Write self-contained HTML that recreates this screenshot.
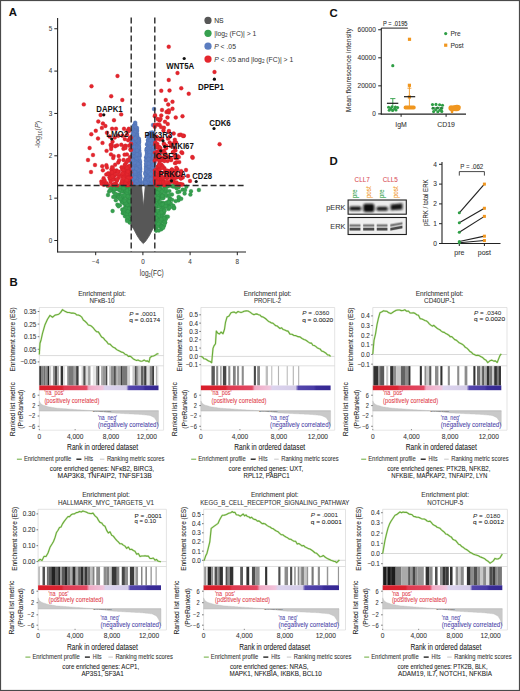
<!DOCTYPE html>
<html><head><meta charset="utf-8"><style>
html,body{margin:0;padding:0;background:#fff;}
svg{display:block;}
text{font-family:"Liberation Sans",sans-serif;}
</style></head><body>
<svg width="520" height="691" viewBox="0 0 520 691">
<rect x="0" y="0" width="520" height="691" fill="#fff"/>
<text x="8.80" y="15.90" font-size="11.4" fill="#111" font-weight="bold">A</text>
<circle cx="156.87" cy="205.03" r="1.95" fill="#37a04f" stroke="#2b8743" stroke-width="0.3"/>
<circle cx="117.38" cy="204.69" r="1.95" fill="#37a04f" stroke="#2b8743" stroke-width="0.3"/>
<circle cx="174.19" cy="207.64" r="1.95" fill="#37a04f" stroke="#2b8743" stroke-width="0.3"/>
<circle cx="155.20" cy="224.24" r="1.95" fill="#37a04f" stroke="#2b8743" stroke-width="0.3"/>
<circle cx="126.82" cy="215.15" r="1.95" fill="#37a04f" stroke="#2b8743" stroke-width="0.3"/>
<circle cx="163.40" cy="225.21" r="1.95" fill="#37a04f" stroke="#2b8743" stroke-width="0.3"/>
<circle cx="130.90" cy="206.23" r="1.95" fill="#37a04f" stroke="#2b8743" stroke-width="0.3"/>
<circle cx="130.87" cy="194.88" r="1.95" fill="#37a04f" stroke="#2b8743" stroke-width="0.3"/>
<circle cx="159.08" cy="205.07" r="1.95" fill="#37a04f" stroke="#2b8743" stroke-width="0.3"/>
<circle cx="158.82" cy="214.11" r="1.95" fill="#37a04f" stroke="#2b8743" stroke-width="0.3"/>
<circle cx="130.06" cy="202.83" r="1.95" fill="#37a04f" stroke="#2b8743" stroke-width="0.3"/>
<circle cx="160.95" cy="202.52" r="1.95" fill="#37a04f" stroke="#2b8743" stroke-width="0.3"/>
<circle cx="157.38" cy="185.71" r="1.95" fill="#37a04f" stroke="#2b8743" stroke-width="0.3"/>
<circle cx="160.62" cy="196.06" r="1.95" fill="#37a04f" stroke="#2b8743" stroke-width="0.3"/>
<circle cx="120.25" cy="198.91" r="1.95" fill="#37a04f" stroke="#2b8743" stroke-width="0.3"/>
<circle cx="114.90" cy="185.82" r="1.95" fill="#37a04f" stroke="#2b8743" stroke-width="0.3"/>
<circle cx="156.09" cy="230.54" r="1.95" fill="#37a04f" stroke="#2b8743" stroke-width="0.3"/>
<circle cx="119.79" cy="190.26" r="1.95" fill="#37a04f" stroke="#2b8743" stroke-width="0.3"/>
<circle cx="109.07" cy="191.58" r="1.95" fill="#37a04f" stroke="#2b8743" stroke-width="0.3"/>
<circle cx="125.34" cy="185.97" r="1.95" fill="#37a04f" stroke="#2b8743" stroke-width="0.3"/>
<circle cx="128.57" cy="195.77" r="1.95" fill="#37a04f" stroke="#2b8743" stroke-width="0.3"/>
<circle cx="165.64" cy="206.28" r="1.95" fill="#37a04f" stroke="#2b8743" stroke-width="0.3"/>
<circle cx="158.60" cy="199.55" r="1.95" fill="#37a04f" stroke="#2b8743" stroke-width="0.3"/>
<circle cx="122.85" cy="210.49" r="1.95" fill="#37a04f" stroke="#2b8743" stroke-width="0.3"/>
<circle cx="169.64" cy="207.14" r="1.95" fill="#37a04f" stroke="#2b8743" stroke-width="0.3"/>
<circle cx="128.69" cy="207.13" r="1.95" fill="#37a04f" stroke="#2b8743" stroke-width="0.3"/>
<circle cx="154.80" cy="185.73" r="1.95" fill="#37a04f" stroke="#2b8743" stroke-width="0.3"/>
<circle cx="160.93" cy="197.75" r="1.95" fill="#37a04f" stroke="#2b8743" stroke-width="0.3"/>
<circle cx="124.70" cy="190.78" r="1.95" fill="#37a04f" stroke="#2b8743" stroke-width="0.3"/>
<circle cx="165.50" cy="187.24" r="1.95" fill="#37a04f" stroke="#2b8743" stroke-width="0.3"/>
<circle cx="129.93" cy="222.15" r="1.95" fill="#37a04f" stroke="#2b8743" stroke-width="0.3"/>
<circle cx="155.48" cy="226.30" r="1.95" fill="#37a04f" stroke="#2b8743" stroke-width="0.3"/>
<circle cx="159.61" cy="193.21" r="1.95" fill="#37a04f" stroke="#2b8743" stroke-width="0.3"/>
<circle cx="157.07" cy="206.84" r="1.95" fill="#37a04f" stroke="#2b8743" stroke-width="0.3"/>
<circle cx="168.55" cy="208.90" r="1.95" fill="#37a04f" stroke="#2b8743" stroke-width="0.3"/>
<circle cx="156.01" cy="195.12" r="1.95" fill="#37a04f" stroke="#2b8743" stroke-width="0.3"/>
<circle cx="129.90" cy="189.90" r="1.95" fill="#37a04f" stroke="#2b8743" stroke-width="0.3"/>
<circle cx="124.37" cy="203.40" r="1.95" fill="#37a04f" stroke="#2b8743" stroke-width="0.3"/>
<circle cx="129.28" cy="201.99" r="1.95" fill="#37a04f" stroke="#2b8743" stroke-width="0.3"/>
<circle cx="128.32" cy="217.48" r="1.95" fill="#37a04f" stroke="#2b8743" stroke-width="0.3"/>
<circle cx="165.07" cy="222.44" r="1.95" fill="#37a04f" stroke="#2b8743" stroke-width="0.3"/>
<circle cx="127.97" cy="188.25" r="1.95" fill="#37a04f" stroke="#2b8743" stroke-width="0.3"/>
<circle cx="156.24" cy="201.44" r="1.95" fill="#37a04f" stroke="#2b8743" stroke-width="0.3"/>
<circle cx="160.53" cy="224.74" r="1.95" fill="#37a04f" stroke="#2b8743" stroke-width="0.3"/>
<circle cx="164.94" cy="187.08" r="1.95" fill="#37a04f" stroke="#2b8743" stroke-width="0.3"/>
<circle cx="169.78" cy="198.38" r="1.95" fill="#37a04f" stroke="#2b8743" stroke-width="0.3"/>
<circle cx="120.47" cy="186.29" r="1.95" fill="#37a04f" stroke="#2b8743" stroke-width="0.3"/>
<circle cx="160.48" cy="190.85" r="1.95" fill="#37a04f" stroke="#2b8743" stroke-width="0.3"/>
<circle cx="130.10" cy="186.47" r="1.95" fill="#37a04f" stroke="#2b8743" stroke-width="0.3"/>
<circle cx="158.61" cy="219.04" r="1.95" fill="#37a04f" stroke="#2b8743" stroke-width="0.3"/>
<circle cx="157.67" cy="203.07" r="1.95" fill="#37a04f" stroke="#2b8743" stroke-width="0.3"/>
<circle cx="122.80" cy="199.10" r="1.95" fill="#37a04f" stroke="#2b8743" stroke-width="0.3"/>
<circle cx="159.95" cy="186.28" r="1.95" fill="#37a04f" stroke="#2b8743" stroke-width="0.3"/>
<circle cx="117.27" cy="196.81" r="1.95" fill="#37a04f" stroke="#2b8743" stroke-width="0.3"/>
<circle cx="162.76" cy="208.40" r="1.95" fill="#37a04f" stroke="#2b8743" stroke-width="0.3"/>
<circle cx="125.81" cy="207.04" r="1.95" fill="#37a04f" stroke="#2b8743" stroke-width="0.3"/>
<circle cx="128.78" cy="210.97" r="1.95" fill="#37a04f" stroke="#2b8743" stroke-width="0.3"/>
<circle cx="126.78" cy="211.98" r="1.95" fill="#37a04f" stroke="#2b8743" stroke-width="0.3"/>
<circle cx="127.33" cy="212.52" r="1.95" fill="#37a04f" stroke="#2b8743" stroke-width="0.3"/>
<circle cx="128.61" cy="188.75" r="1.95" fill="#37a04f" stroke="#2b8743" stroke-width="0.3"/>
<circle cx="156.67" cy="204.87" r="1.95" fill="#37a04f" stroke="#2b8743" stroke-width="0.3"/>
<circle cx="161.04" cy="195.86" r="1.95" fill="#37a04f" stroke="#2b8743" stroke-width="0.3"/>
<circle cx="112.14" cy="190.26" r="1.95" fill="#37a04f" stroke="#2b8743" stroke-width="0.3"/>
<circle cx="157.24" cy="201.40" r="1.95" fill="#37a04f" stroke="#2b8743" stroke-width="0.3"/>
<circle cx="157.77" cy="223.98" r="1.95" fill="#37a04f" stroke="#2b8743" stroke-width="0.3"/>
<circle cx="164.72" cy="186.67" r="1.95" fill="#37a04f" stroke="#2b8743" stroke-width="0.3"/>
<circle cx="121.70" cy="185.78" r="1.95" fill="#37a04f" stroke="#2b8743" stroke-width="0.3"/>
<circle cx="163.69" cy="217.41" r="1.95" fill="#37a04f" stroke="#2b8743" stroke-width="0.3"/>
<circle cx="157.88" cy="195.10" r="1.95" fill="#37a04f" stroke="#2b8743" stroke-width="0.3"/>
<circle cx="119.39" cy="194.53" r="1.95" fill="#37a04f" stroke="#2b8743" stroke-width="0.3"/>
<circle cx="176.58" cy="188.25" r="1.95" fill="#37a04f" stroke="#2b8743" stroke-width="0.3"/>
<circle cx="155.51" cy="187.24" r="1.95" fill="#37a04f" stroke="#2b8743" stroke-width="0.3"/>
<circle cx="130.67" cy="210.34" r="1.95" fill="#37a04f" stroke="#2b8743" stroke-width="0.3"/>
<circle cx="158.29" cy="193.27" r="1.95" fill="#37a04f" stroke="#2b8743" stroke-width="0.3"/>
<circle cx="159.54" cy="210.59" r="1.95" fill="#37a04f" stroke="#2b8743" stroke-width="0.3"/>
<circle cx="155.39" cy="192.97" r="1.95" fill="#37a04f" stroke="#2b8743" stroke-width="0.3"/>
<circle cx="157.38" cy="219.00" r="1.95" fill="#37a04f" stroke="#2b8743" stroke-width="0.3"/>
<circle cx="125.74" cy="207.13" r="1.95" fill="#37a04f" stroke="#2b8743" stroke-width="0.3"/>
<circle cx="123.46" cy="202.47" r="1.95" fill="#37a04f" stroke="#2b8743" stroke-width="0.3"/>
<circle cx="130.42" cy="201.43" r="1.95" fill="#37a04f" stroke="#2b8743" stroke-width="0.3"/>
<circle cx="124.84" cy="208.13" r="1.95" fill="#37a04f" stroke="#2b8743" stroke-width="0.3"/>
<circle cx="159.24" cy="197.15" r="1.95" fill="#37a04f" stroke="#2b8743" stroke-width="0.3"/>
<circle cx="182.63" cy="189.63" r="1.95" fill="#37a04f" stroke="#2b8743" stroke-width="0.3"/>
<circle cx="130.62" cy="205.59" r="1.95" fill="#37a04f" stroke="#2b8743" stroke-width="0.3"/>
<circle cx="161.33" cy="189.17" r="1.95" fill="#37a04f" stroke="#2b8743" stroke-width="0.3"/>
<circle cx="169.35" cy="191.10" r="1.95" fill="#37a04f" stroke="#2b8743" stroke-width="0.3"/>
<circle cx="129.99" cy="211.70" r="1.95" fill="#37a04f" stroke="#2b8743" stroke-width="0.3"/>
<circle cx="128.78" cy="212.67" r="1.95" fill="#37a04f" stroke="#2b8743" stroke-width="0.3"/>
<circle cx="130.11" cy="207.63" r="1.95" fill="#37a04f" stroke="#2b8743" stroke-width="0.3"/>
<circle cx="155.60" cy="194.30" r="1.95" fill="#37a04f" stroke="#2b8743" stroke-width="0.3"/>
<circle cx="127.41" cy="188.23" r="1.95" fill="#37a04f" stroke="#2b8743" stroke-width="0.3"/>
<circle cx="124.63" cy="186.95" r="1.95" fill="#37a04f" stroke="#2b8743" stroke-width="0.3"/>
<circle cx="161.48" cy="221.45" r="1.95" fill="#37a04f" stroke="#2b8743" stroke-width="0.3"/>
<circle cx="161.46" cy="212.17" r="1.95" fill="#37a04f" stroke="#2b8743" stroke-width="0.3"/>
<circle cx="179.35" cy="191.64" r="1.95" fill="#37a04f" stroke="#2b8743" stroke-width="0.3"/>
<circle cx="127.12" cy="219.52" r="1.95" fill="#37a04f" stroke="#2b8743" stroke-width="0.3"/>
<circle cx="159.68" cy="225.16" r="1.95" fill="#37a04f" stroke="#2b8743" stroke-width="0.3"/>
<circle cx="119.96" cy="205.13" r="1.95" fill="#37a04f" stroke="#2b8743" stroke-width="0.3"/>
<circle cx="169.27" cy="205.09" r="1.95" fill="#37a04f" stroke="#2b8743" stroke-width="0.3"/>
<circle cx="159.86" cy="195.07" r="1.95" fill="#37a04f" stroke="#2b8743" stroke-width="0.3"/>
<circle cx="124.96" cy="192.25" r="1.95" fill="#37a04f" stroke="#2b8743" stroke-width="0.3"/>
<circle cx="156.67" cy="217.19" r="1.95" fill="#37a04f" stroke="#2b8743" stroke-width="0.3"/>
<circle cx="163.07" cy="219.25" r="1.95" fill="#37a04f" stroke="#2b8743" stroke-width="0.3"/>
<circle cx="125.59" cy="195.93" r="1.95" fill="#37a04f" stroke="#2b8743" stroke-width="0.3"/>
<circle cx="155.34" cy="221.96" r="1.95" fill="#37a04f" stroke="#2b8743" stroke-width="0.3"/>
<circle cx="156.70" cy="195.13" r="1.95" fill="#37a04f" stroke="#2b8743" stroke-width="0.3"/>
<circle cx="163.56" cy="197.71" r="1.95" fill="#37a04f" stroke="#2b8743" stroke-width="0.3"/>
<circle cx="115.84" cy="200.19" r="1.95" fill="#37a04f" stroke="#2b8743" stroke-width="0.3"/>
<circle cx="129.77" cy="191.12" r="1.95" fill="#37a04f" stroke="#2b8743" stroke-width="0.3"/>
<circle cx="178.53" cy="200.32" r="1.95" fill="#37a04f" stroke="#2b8743" stroke-width="0.3"/>
<circle cx="156.52" cy="217.53" r="1.95" fill="#37a04f" stroke="#2b8743" stroke-width="0.3"/>
<circle cx="120.11" cy="189.22" r="1.95" fill="#37a04f" stroke="#2b8743" stroke-width="0.3"/>
<circle cx="111.93" cy="189.36" r="1.95" fill="#37a04f" stroke="#2b8743" stroke-width="0.3"/>
<circle cx="113.61" cy="192.05" r="1.95" fill="#37a04f" stroke="#2b8743" stroke-width="0.3"/>
<circle cx="164.02" cy="209.52" r="1.95" fill="#37a04f" stroke="#2b8743" stroke-width="0.3"/>
<circle cx="126.49" cy="211.97" r="1.95" fill="#37a04f" stroke="#2b8743" stroke-width="0.3"/>
<circle cx="166.21" cy="216.79" r="1.95" fill="#37a04f" stroke="#2b8743" stroke-width="0.3"/>
<circle cx="164.84" cy="222.46" r="1.95" fill="#37a04f" stroke="#2b8743" stroke-width="0.3"/>
<circle cx="128.25" cy="210.29" r="1.95" fill="#37a04f" stroke="#2b8743" stroke-width="0.3"/>
<circle cx="158.62" cy="197.76" r="1.95" fill="#37a04f" stroke="#2b8743" stroke-width="0.3"/>
<circle cx="117.97" cy="195.30" r="1.95" fill="#37a04f" stroke="#2b8743" stroke-width="0.3"/>
<circle cx="167.54" cy="204.58" r="1.95" fill="#37a04f" stroke="#2b8743" stroke-width="0.3"/>
<circle cx="128.00" cy="195.40" r="1.95" fill="#37a04f" stroke="#2b8743" stroke-width="0.3"/>
<circle cx="171.96" cy="194.50" r="1.95" fill="#37a04f" stroke="#2b8743" stroke-width="0.3"/>
<circle cx="168.00" cy="186.08" r="1.95" fill="#37a04f" stroke="#2b8743" stroke-width="0.3"/>
<circle cx="167.03" cy="195.89" r="1.95" fill="#37a04f" stroke="#2b8743" stroke-width="0.3"/>
<circle cx="155.84" cy="228.35" r="1.95" fill="#37a04f" stroke="#2b8743" stroke-width="0.3"/>
<circle cx="164.44" cy="185.81" r="1.95" fill="#37a04f" stroke="#2b8743" stroke-width="0.3"/>
<circle cx="167.19" cy="203.68" r="1.95" fill="#37a04f" stroke="#2b8743" stroke-width="0.3"/>
<circle cx="167.84" cy="186.15" r="1.95" fill="#37a04f" stroke="#2b8743" stroke-width="0.3"/>
<circle cx="110.00" cy="190.00" r="1.95" fill="#37a04f" stroke="#2b8743" stroke-width="0.3"/>
<circle cx="128.10" cy="209.11" r="1.95" fill="#37a04f" stroke="#2b8743" stroke-width="0.3"/>
<circle cx="113.90" cy="186.13" r="1.95" fill="#37a04f" stroke="#2b8743" stroke-width="0.3"/>
<circle cx="159.05" cy="214.23" r="1.95" fill="#37a04f" stroke="#2b8743" stroke-width="0.3"/>
<circle cx="117.78" cy="195.13" r="1.95" fill="#37a04f" stroke="#2b8743" stroke-width="0.3"/>
<circle cx="115.19" cy="196.44" r="1.95" fill="#37a04f" stroke="#2b8743" stroke-width="0.3"/>
<circle cx="156.35" cy="202.66" r="1.95" fill="#37a04f" stroke="#2b8743" stroke-width="0.3"/>
<circle cx="122.33" cy="209.55" r="1.95" fill="#37a04f" stroke="#2b8743" stroke-width="0.3"/>
<circle cx="111.21" cy="187.42" r="1.95" fill="#37a04f" stroke="#2b8743" stroke-width="0.3"/>
<circle cx="126.65" cy="196.82" r="1.95" fill="#37a04f" stroke="#2b8743" stroke-width="0.3"/>
<circle cx="159.29" cy="220.37" r="1.95" fill="#37a04f" stroke="#2b8743" stroke-width="0.3"/>
<circle cx="161.37" cy="192.79" r="1.95" fill="#37a04f" stroke="#2b8743" stroke-width="0.3"/>
<circle cx="117.29" cy="195.51" r="1.95" fill="#37a04f" stroke="#2b8743" stroke-width="0.3"/>
<circle cx="155.88" cy="220.60" r="1.95" fill="#37a04f" stroke="#2b8743" stroke-width="0.3"/>
<circle cx="157.26" cy="190.85" r="1.95" fill="#37a04f" stroke="#2b8743" stroke-width="0.3"/>
<circle cx="128.31" cy="198.87" r="1.95" fill="#37a04f" stroke="#2b8743" stroke-width="0.3"/>
<circle cx="127.37" cy="194.68" r="1.95" fill="#37a04f" stroke="#2b8743" stroke-width="0.3"/>
<circle cx="155.55" cy="186.38" r="1.95" fill="#37a04f" stroke="#2b8743" stroke-width="0.3"/>
<circle cx="161.40" cy="216.88" r="1.95" fill="#37a04f" stroke="#2b8743" stroke-width="0.3"/>
<circle cx="127.72" cy="186.32" r="1.95" fill="#37a04f" stroke="#2b8743" stroke-width="0.3"/>
<circle cx="125.03" cy="204.01" r="1.95" fill="#37a04f" stroke="#2b8743" stroke-width="0.3"/>
<circle cx="154.75" cy="193.09" r="1.95" fill="#37a04f" stroke="#2b8743" stroke-width="0.3"/>
<circle cx="128.32" cy="199.91" r="1.95" fill="#37a04f" stroke="#2b8743" stroke-width="0.3"/>
<circle cx="112.60" cy="211.00" r="1.95" fill="#37a04f" stroke="#2b8743" stroke-width="0.3"/>
<circle cx="178.48" cy="187.29" r="1.95" fill="#37a04f" stroke="#2b8743" stroke-width="0.3"/>
<circle cx="161.21" cy="195.50" r="1.95" fill="#37a04f" stroke="#2b8743" stroke-width="0.3"/>
<circle cx="121.84" cy="191.47" r="1.95" fill="#37a04f" stroke="#2b8743" stroke-width="0.3"/>
<circle cx="125.90" cy="203.65" r="1.95" fill="#37a04f" stroke="#2b8743" stroke-width="0.3"/>
<circle cx="161.86" cy="216.23" r="1.95" fill="#37a04f" stroke="#2b8743" stroke-width="0.3"/>
<circle cx="156.85" cy="224.33" r="1.95" fill="#37a04f" stroke="#2b8743" stroke-width="0.3"/>
<circle cx="156.38" cy="218.28" r="1.95" fill="#37a04f" stroke="#2b8743" stroke-width="0.3"/>
<circle cx="121.65" cy="188.63" r="1.95" fill="#37a04f" stroke="#2b8743" stroke-width="0.3"/>
<circle cx="159.04" cy="195.33" r="1.95" fill="#37a04f" stroke="#2b8743" stroke-width="0.3"/>
<circle cx="169.09" cy="200.89" r="1.95" fill="#37a04f" stroke="#2b8743" stroke-width="0.3"/>
<circle cx="167.80" cy="216.65" r="1.95" fill="#37a04f" stroke="#2b8743" stroke-width="0.3"/>
<circle cx="118.66" cy="197.57" r="1.95" fill="#37a04f" stroke="#2b8743" stroke-width="0.3"/>
<circle cx="190.40" cy="194.60" r="1.95" fill="#37a04f" stroke="#2b8743" stroke-width="0.3"/>
<circle cx="157.00" cy="221.23" r="1.95" fill="#37a04f" stroke="#2b8743" stroke-width="0.3"/>
<circle cx="161.52" cy="209.17" r="1.95" fill="#37a04f" stroke="#2b8743" stroke-width="0.3"/>
<circle cx="163.32" cy="195.31" r="1.95" fill="#37a04f" stroke="#2b8743" stroke-width="0.3"/>
<circle cx="156.50" cy="189.50" r="1.95" fill="#37a04f" stroke="#2b8743" stroke-width="0.3"/>
<circle cx="157.28" cy="204.59" r="1.95" fill="#37a04f" stroke="#2b8743" stroke-width="0.3"/>
<circle cx="155.93" cy="191.92" r="1.95" fill="#37a04f" stroke="#2b8743" stroke-width="0.3"/>
<circle cx="155.54" cy="201.02" r="1.95" fill="#37a04f" stroke="#2b8743" stroke-width="0.3"/>
<circle cx="178.86" cy="197.97" r="1.95" fill="#37a04f" stroke="#2b8743" stroke-width="0.3"/>
<circle cx="130.46" cy="204.78" r="1.95" fill="#37a04f" stroke="#2b8743" stroke-width="0.3"/>
<circle cx="154.92" cy="215.59" r="1.95" fill="#37a04f" stroke="#2b8743" stroke-width="0.3"/>
<circle cx="122.50" cy="196.48" r="1.95" fill="#37a04f" stroke="#2b8743" stroke-width="0.3"/>
<circle cx="168.02" cy="207.85" r="1.95" fill="#37a04f" stroke="#2b8743" stroke-width="0.3"/>
<circle cx="129.71" cy="186.76" r="1.95" fill="#37a04f" stroke="#2b8743" stroke-width="0.3"/>
<circle cx="128.40" cy="208.27" r="1.95" fill="#37a04f" stroke="#2b8743" stroke-width="0.3"/>
<circle cx="166.24" cy="191.58" r="1.95" fill="#37a04f" stroke="#2b8743" stroke-width="0.3"/>
<circle cx="129.79" cy="211.28" r="1.95" fill="#37a04f" stroke="#2b8743" stroke-width="0.3"/>
<circle cx="130.60" cy="193.09" r="1.95" fill="#37a04f" stroke="#2b8743" stroke-width="0.3"/>
<circle cx="155.02" cy="206.27" r="1.95" fill="#37a04f" stroke="#2b8743" stroke-width="0.3"/>
<circle cx="161.65" cy="204.92" r="1.95" fill="#37a04f" stroke="#2b8743" stroke-width="0.3"/>
<circle cx="161.31" cy="229.30" r="1.95" fill="#37a04f" stroke="#2b8743" stroke-width="0.3"/>
<circle cx="124.70" cy="211.49" r="1.95" fill="#37a04f" stroke="#2b8743" stroke-width="0.3"/>
<circle cx="159.09" cy="220.65" r="1.95" fill="#37a04f" stroke="#2b8743" stroke-width="0.3"/>
<circle cx="125.02" cy="216.37" r="1.95" fill="#37a04f" stroke="#2b8743" stroke-width="0.3"/>
<circle cx="156.96" cy="212.69" r="1.95" fill="#37a04f" stroke="#2b8743" stroke-width="0.3"/>
<circle cx="157.59" cy="192.26" r="1.95" fill="#37a04f" stroke="#2b8743" stroke-width="0.3"/>
<circle cx="158.27" cy="212.30" r="1.95" fill="#37a04f" stroke="#2b8743" stroke-width="0.3"/>
<circle cx="156.39" cy="185.64" r="1.95" fill="#37a04f" stroke="#2b8743" stroke-width="0.3"/>
<circle cx="121.56" cy="191.16" r="1.95" fill="#37a04f" stroke="#2b8743" stroke-width="0.3"/>
<circle cx="122.88" cy="213.21" r="1.95" fill="#37a04f" stroke="#2b8743" stroke-width="0.3"/>
<circle cx="126.29" cy="208.58" r="1.95" fill="#37a04f" stroke="#2b8743" stroke-width="0.3"/>
<circle cx="156.44" cy="230.42" r="1.95" fill="#37a04f" stroke="#2b8743" stroke-width="0.3"/>
<circle cx="108.00" cy="195.00" r="1.95" fill="#37a04f" stroke="#2b8743" stroke-width="0.3"/>
<circle cx="173.37" cy="205.73" r="1.95" fill="#37a04f" stroke="#2b8743" stroke-width="0.3"/>
<circle cx="129.78" cy="219.52" r="1.95" fill="#37a04f" stroke="#2b8743" stroke-width="0.3"/>
<circle cx="175.72" cy="201.11" r="1.95" fill="#37a04f" stroke="#2b8743" stroke-width="0.3"/>
<circle cx="130.65" cy="221.81" r="1.95" fill="#37a04f" stroke="#2b8743" stroke-width="0.3"/>
<circle cx="119.99" cy="189.69" r="1.95" fill="#37a04f" stroke="#2b8743" stroke-width="0.3"/>
<circle cx="128.11" cy="202.60" r="1.95" fill="#37a04f" stroke="#2b8743" stroke-width="0.3"/>
<circle cx="123.39" cy="212.18" r="1.95" fill="#37a04f" stroke="#2b8743" stroke-width="0.3"/>
<circle cx="185.05" cy="190.06" r="1.95" fill="#37a04f" stroke="#2b8743" stroke-width="0.3"/>
<circle cx="113.23" cy="196.88" r="1.95" fill="#37a04f" stroke="#2b8743" stroke-width="0.3"/>
<circle cx="157.60" cy="220.04" r="1.95" fill="#37a04f" stroke="#2b8743" stroke-width="0.3"/>
<circle cx="155.40" cy="210.73" r="1.95" fill="#37a04f" stroke="#2b8743" stroke-width="0.3"/>
<circle cx="155.81" cy="206.03" r="1.95" fill="#37a04f" stroke="#2b8743" stroke-width="0.3"/>
<circle cx="163.54" cy="203.05" r="1.95" fill="#37a04f" stroke="#2b8743" stroke-width="0.3"/>
<circle cx="128.37" cy="187.89" r="1.95" fill="#37a04f" stroke="#2b8743" stroke-width="0.3"/>
<circle cx="130.56" cy="186.99" r="1.95" fill="#37a04f" stroke="#2b8743" stroke-width="0.3"/>
<circle cx="160.23" cy="226.40" r="1.95" fill="#37a04f" stroke="#2b8743" stroke-width="0.3"/>
<circle cx="128.76" cy="200.40" r="1.95" fill="#37a04f" stroke="#2b8743" stroke-width="0.3"/>
<circle cx="161.23" cy="210.19" r="1.95" fill="#37a04f" stroke="#2b8743" stroke-width="0.3"/>
<circle cx="163.64" cy="213.62" r="1.95" fill="#37a04f" stroke="#2b8743" stroke-width="0.3"/>
<circle cx="156.69" cy="195.97" r="1.95" fill="#37a04f" stroke="#2b8743" stroke-width="0.3"/>
<circle cx="122.70" cy="195.35" r="1.95" fill="#37a04f" stroke="#2b8743" stroke-width="0.3"/>
<circle cx="173.97" cy="208.29" r="1.95" fill="#37a04f" stroke="#2b8743" stroke-width="0.3"/>
<circle cx="166.80" cy="202.34" r="1.95" fill="#37a04f" stroke="#2b8743" stroke-width="0.3"/>
<circle cx="128.85" cy="189.94" r="1.95" fill="#37a04f" stroke="#2b8743" stroke-width="0.3"/>
<circle cx="114.73" cy="189.60" r="1.95" fill="#37a04f" stroke="#2b8743" stroke-width="0.3"/>
<circle cx="127.28" cy="186.08" r="1.95" fill="#37a04f" stroke="#2b8743" stroke-width="0.3"/>
<circle cx="123.54" cy="189.19" r="1.95" fill="#37a04f" stroke="#2b8743" stroke-width="0.3"/>
<circle cx="173.44" cy="186.66" r="1.95" fill="#37a04f" stroke="#2b8743" stroke-width="0.3"/>
<circle cx="129.40" cy="218.37" r="1.95" fill="#37a04f" stroke="#2b8743" stroke-width="0.3"/>
<circle cx="157.51" cy="210.87" r="1.95" fill="#37a04f" stroke="#2b8743" stroke-width="0.3"/>
<circle cx="164.83" cy="191.36" r="1.95" fill="#37a04f" stroke="#2b8743" stroke-width="0.3"/>
<circle cx="162.29" cy="195.20" r="1.95" fill="#37a04f" stroke="#2b8743" stroke-width="0.3"/>
<circle cx="165.81" cy="189.26" r="1.95" fill="#37a04f" stroke="#2b8743" stroke-width="0.3"/>
<circle cx="162.59" cy="218.47" r="1.95" fill="#37a04f" stroke="#2b8743" stroke-width="0.3"/>
<circle cx="157.00" cy="199.42" r="1.95" fill="#37a04f" stroke="#2b8743" stroke-width="0.3"/>
<circle cx="158.73" cy="215.57" r="1.95" fill="#37a04f" stroke="#2b8743" stroke-width="0.3"/>
<circle cx="127.26" cy="204.73" r="1.95" fill="#37a04f" stroke="#2b8743" stroke-width="0.3"/>
<circle cx="125.13" cy="189.51" r="1.95" fill="#37a04f" stroke="#2b8743" stroke-width="0.3"/>
<circle cx="155.13" cy="226.45" r="1.95" fill="#37a04f" stroke="#2b8743" stroke-width="0.3"/>
<circle cx="124.26" cy="210.18" r="1.95" fill="#37a04f" stroke="#2b8743" stroke-width="0.3"/>
<circle cx="155.10" cy="195.65" r="1.95" fill="#37a04f" stroke="#2b8743" stroke-width="0.3"/>
<circle cx="107.61" cy="185.86" r="1.95" fill="#37a04f" stroke="#2b8743" stroke-width="0.3"/>
<circle cx="127.10" cy="186.96" r="1.95" fill="#37a04f" stroke="#2b8743" stroke-width="0.3"/>
<circle cx="155.21" cy="219.57" r="1.95" fill="#37a04f" stroke="#2b8743" stroke-width="0.3"/>
<circle cx="128.56" cy="215.70" r="1.95" fill="#37a04f" stroke="#2b8743" stroke-width="0.3"/>
<circle cx="128.35" cy="200.79" r="1.95" fill="#37a04f" stroke="#2b8743" stroke-width="0.3"/>
<circle cx="117.39" cy="189.25" r="1.95" fill="#37a04f" stroke="#2b8743" stroke-width="0.3"/>
<circle cx="160.40" cy="202.44" r="1.95" fill="#37a04f" stroke="#2b8743" stroke-width="0.3"/>
<circle cx="125.36" cy="196.66" r="1.95" fill="#37a04f" stroke="#2b8743" stroke-width="0.3"/>
<circle cx="121.82" cy="201.74" r="1.95" fill="#37a04f" stroke="#2b8743" stroke-width="0.3"/>
<circle cx="129.00" cy="208.83" r="1.95" fill="#37a04f" stroke="#2b8743" stroke-width="0.3"/>
<circle cx="124.57" cy="212.82" r="1.95" fill="#37a04f" stroke="#2b8743" stroke-width="0.3"/>
<circle cx="114.41" cy="196.61" r="1.95" fill="#37a04f" stroke="#2b8743" stroke-width="0.3"/>
<circle cx="128.50" cy="193.05" r="1.95" fill="#37a04f" stroke="#2b8743" stroke-width="0.3"/>
<circle cx="159.33" cy="206.51" r="1.95" fill="#37a04f" stroke="#2b8743" stroke-width="0.3"/>
<circle cx="159.75" cy="213.15" r="1.95" fill="#37a04f" stroke="#2b8743" stroke-width="0.3"/>
<circle cx="155.41" cy="202.24" r="1.95" fill="#37a04f" stroke="#2b8743" stroke-width="0.3"/>
<circle cx="121.16" cy="187.05" r="1.95" fill="#37a04f" stroke="#2b8743" stroke-width="0.3"/>
<circle cx="121.75" cy="200.75" r="1.95" fill="#37a04f" stroke="#2b8743" stroke-width="0.3"/>
<circle cx="158.02" cy="196.08" r="1.95" fill="#37a04f" stroke="#2b8743" stroke-width="0.3"/>
<circle cx="159.83" cy="221.64" r="1.95" fill="#37a04f" stroke="#2b8743" stroke-width="0.3"/>
<circle cx="116.51" cy="187.76" r="1.95" fill="#37a04f" stroke="#2b8743" stroke-width="0.3"/>
<circle cx="163.02" cy="206.02" r="1.95" fill="#37a04f" stroke="#2b8743" stroke-width="0.3"/>
<circle cx="163.58" cy="226.22" r="1.95" fill="#37a04f" stroke="#2b8743" stroke-width="0.3"/>
<circle cx="123.13" cy="202.03" r="1.95" fill="#37a04f" stroke="#2b8743" stroke-width="0.3"/>
<circle cx="184.60" cy="193.50" r="1.95" fill="#37a04f" stroke="#2b8743" stroke-width="0.3"/>
<circle cx="156.19" cy="199.68" r="1.95" fill="#37a04f" stroke="#2b8743" stroke-width="0.3"/>
<circle cx="155.15" cy="197.82" r="1.95" fill="#37a04f" stroke="#2b8743" stroke-width="0.3"/>
<circle cx="118.51" cy="206.33" r="1.95" fill="#37a04f" stroke="#2b8743" stroke-width="0.3"/>
<circle cx="154.75" cy="220.29" r="1.95" fill="#37a04f" stroke="#2b8743" stroke-width="0.3"/>
<circle cx="157.63" cy="226.00" r="1.95" fill="#37a04f" stroke="#2b8743" stroke-width="0.3"/>
<circle cx="161.85" cy="189.51" r="1.95" fill="#37a04f" stroke="#2b8743" stroke-width="0.3"/>
<circle cx="130.63" cy="212.26" r="1.95" fill="#37a04f" stroke="#2b8743" stroke-width="0.3"/>
<circle cx="165.67" cy="219.18" r="1.95" fill="#37a04f" stroke="#2b8743" stroke-width="0.3"/>
<circle cx="119.81" cy="186.63" r="1.95" fill="#37a04f" stroke="#2b8743" stroke-width="0.3"/>
<circle cx="171.63" cy="186.08" r="1.95" fill="#37a04f" stroke="#2b8743" stroke-width="0.3"/>
<circle cx="114.24" cy="188.54" r="1.95" fill="#37a04f" stroke="#2b8743" stroke-width="0.3"/>
<circle cx="191.00" cy="191.20" r="1.95" fill="#37a04f" stroke="#2b8743" stroke-width="0.3"/>
<circle cx="156.00" cy="218.00" r="1.95" fill="#37a04f" stroke="#2b8743" stroke-width="0.3"/>
<circle cx="156.61" cy="187.43" r="1.95" fill="#37a04f" stroke="#2b8743" stroke-width="0.3"/>
<circle cx="170.43" cy="199.21" r="1.95" fill="#37a04f" stroke="#2b8743" stroke-width="0.3"/>
<circle cx="158.17" cy="193.10" r="1.95" fill="#37a04f" stroke="#2b8743" stroke-width="0.3"/>
<circle cx="162.59" cy="198.28" r="1.95" fill="#37a04f" stroke="#2b8743" stroke-width="0.3"/>
<circle cx="125.37" cy="213.92" r="1.95" fill="#37a04f" stroke="#2b8743" stroke-width="0.3"/>
<circle cx="164.27" cy="224.75" r="1.95" fill="#37a04f" stroke="#2b8743" stroke-width="0.3"/>
<circle cx="161.87" cy="204.28" r="1.95" fill="#37a04f" stroke="#2b8743" stroke-width="0.3"/>
<circle cx="159.70" cy="189.55" r="1.95" fill="#37a04f" stroke="#2b8743" stroke-width="0.3"/>
<circle cx="127.06" cy="214.33" r="1.95" fill="#37a04f" stroke="#2b8743" stroke-width="0.3"/>
<circle cx="162.77" cy="212.79" r="1.95" fill="#37a04f" stroke="#2b8743" stroke-width="0.3"/>
<circle cx="164.04" cy="211.58" r="1.95" fill="#37a04f" stroke="#2b8743" stroke-width="0.3"/>
<circle cx="160.87" cy="204.44" r="1.95" fill="#37a04f" stroke="#2b8743" stroke-width="0.3"/>
<circle cx="170.85" cy="203.60" r="1.95" fill="#37a04f" stroke="#2b8743" stroke-width="0.3"/>
<circle cx="131.06" cy="202.78" r="1.95" fill="#37a04f" stroke="#2b8743" stroke-width="0.3"/>
<circle cx="125.71" cy="191.35" r="1.95" fill="#37a04f" stroke="#2b8743" stroke-width="0.3"/>
<circle cx="125.33" cy="201.72" r="1.95" fill="#37a04f" stroke="#2b8743" stroke-width="0.3"/>
<circle cx="155.62" cy="191.90" r="1.95" fill="#37a04f" stroke="#2b8743" stroke-width="0.3"/>
<circle cx="198.90" cy="190.00" r="1.95" fill="#37a04f" stroke="#2b8743" stroke-width="0.3"/>
<circle cx="157.82" cy="195.84" r="1.95" fill="#37a04f" stroke="#2b8743" stroke-width="0.3"/>
<circle cx="166.31" cy="203.44" r="1.95" fill="#37a04f" stroke="#2b8743" stroke-width="0.3"/>
<circle cx="126.25" cy="191.64" r="1.95" fill="#37a04f" stroke="#2b8743" stroke-width="0.3"/>
<circle cx="130.58" cy="214.08" r="1.95" fill="#37a04f" stroke="#2b8743" stroke-width="0.3"/>
<circle cx="154.72" cy="211.33" r="1.95" fill="#37a04f" stroke="#2b8743" stroke-width="0.3"/>
<circle cx="158.42" cy="223.83" r="1.95" fill="#37a04f" stroke="#2b8743" stroke-width="0.3"/>
<circle cx="168.81" cy="202.23" r="1.95" fill="#37a04f" stroke="#2b8743" stroke-width="0.3"/>
<circle cx="130.92" cy="203.99" r="1.95" fill="#37a04f" stroke="#2b8743" stroke-width="0.3"/>
<circle cx="124.60" cy="195.20" r="1.95" fill="#37a04f" stroke="#2b8743" stroke-width="0.3"/>
<circle cx="154.74" cy="207.57" r="1.95" fill="#37a04f" stroke="#2b8743" stroke-width="0.3"/>
<circle cx="123.94" cy="200.34" r="1.95" fill="#37a04f" stroke="#2b8743" stroke-width="0.3"/>
<circle cx="127.04" cy="192.88" r="1.95" fill="#37a04f" stroke="#2b8743" stroke-width="0.3"/>
<circle cx="157.74" cy="195.31" r="1.95" fill="#37a04f" stroke="#2b8743" stroke-width="0.3"/>
<circle cx="172.18" cy="199.87" r="1.95" fill="#37a04f" stroke="#2b8743" stroke-width="0.3"/>
<circle cx="160.02" cy="189.69" r="1.95" fill="#37a04f" stroke="#2b8743" stroke-width="0.3"/>
<circle cx="125.71" cy="203.16" r="1.95" fill="#37a04f" stroke="#2b8743" stroke-width="0.3"/>
<circle cx="165.91" cy="194.51" r="1.95" fill="#37a04f" stroke="#2b8743" stroke-width="0.3"/>
<circle cx="129.50" cy="201.18" r="1.95" fill="#37a04f" stroke="#2b8743" stroke-width="0.3"/>
<circle cx="127.44" cy="190.52" r="1.95" fill="#37a04f" stroke="#2b8743" stroke-width="0.3"/>
<circle cx="161.78" cy="226.73" r="1.95" fill="#37a04f" stroke="#2b8743" stroke-width="0.3"/>
<circle cx="155.10" cy="213.78" r="1.95" fill="#37a04f" stroke="#2b8743" stroke-width="0.3"/>
<circle cx="159.57" cy="193.13" r="1.95" fill="#37a04f" stroke="#2b8743" stroke-width="0.3"/>
<circle cx="163.17" cy="227.76" r="1.95" fill="#37a04f" stroke="#2b8743" stroke-width="0.3"/>
<circle cx="161.52" cy="204.63" r="1.95" fill="#37a04f" stroke="#2b8743" stroke-width="0.3"/>
<circle cx="129.70" cy="222.58" r="1.95" fill="#37a04f" stroke="#2b8743" stroke-width="0.3"/>
<circle cx="164.06" cy="218.21" r="1.95" fill="#37a04f" stroke="#2b8743" stroke-width="0.3"/>
<circle cx="161.21" cy="219.19" r="1.95" fill="#37a04f" stroke="#2b8743" stroke-width="0.3"/>
<circle cx="116.25" cy="194.28" r="1.95" fill="#37a04f" stroke="#2b8743" stroke-width="0.3"/>
<circle cx="127.53" cy="217.46" r="1.95" fill="#37a04f" stroke="#2b8743" stroke-width="0.3"/>
<circle cx="177.56" cy="192.10" r="1.95" fill="#37a04f" stroke="#2b8743" stroke-width="0.3"/>
<circle cx="123.83" cy="188.07" r="1.95" fill="#37a04f" stroke="#2b8743" stroke-width="0.3"/>
<circle cx="129.72" cy="186.78" r="1.95" fill="#37a04f" stroke="#2b8743" stroke-width="0.3"/>
<circle cx="130.24" cy="191.96" r="1.95" fill="#37a04f" stroke="#2b8743" stroke-width="0.3"/>
<circle cx="129.84" cy="197.40" r="1.95" fill="#37a04f" stroke="#2b8743" stroke-width="0.3"/>
<circle cx="169.55" cy="195.03" r="1.95" fill="#37a04f" stroke="#2b8743" stroke-width="0.3"/>
<circle cx="156.04" cy="197.40" r="1.95" fill="#37a04f" stroke="#2b8743" stroke-width="0.3"/>
<circle cx="115.11" cy="194.08" r="1.95" fill="#37a04f" stroke="#2b8743" stroke-width="0.3"/>
<circle cx="162.34" cy="196.06" r="1.95" fill="#37a04f" stroke="#2b8743" stroke-width="0.3"/>
<circle cx="125.37" cy="185.65" r="1.95" fill="#37a04f" stroke="#2b8743" stroke-width="0.3"/>
<circle cx="155.05" cy="196.48" r="1.95" fill="#37a04f" stroke="#2b8743" stroke-width="0.3"/>
<circle cx="178.71" cy="196.86" r="1.95" fill="#37a04f" stroke="#2b8743" stroke-width="0.3"/>
<circle cx="127.85" cy="211.36" r="1.95" fill="#37a04f" stroke="#2b8743" stroke-width="0.3"/>
<circle cx="158.81" cy="230.50" r="1.95" fill="#37a04f" stroke="#2b8743" stroke-width="0.3"/>
<circle cx="124.75" cy="200.74" r="1.95" fill="#37a04f" stroke="#2b8743" stroke-width="0.3"/>
<circle cx="127.78" cy="196.27" r="1.95" fill="#37a04f" stroke="#2b8743" stroke-width="0.3"/>
<circle cx="158.49" cy="192.16" r="1.95" fill="#37a04f" stroke="#2b8743" stroke-width="0.3"/>
<circle cx="127.12" cy="220.92" r="1.95" fill="#37a04f" stroke="#2b8743" stroke-width="0.3"/>
<circle cx="162.76" cy="204.42" r="1.95" fill="#37a04f" stroke="#2b8743" stroke-width="0.3"/>
<circle cx="161.51" cy="212.27" r="1.95" fill="#37a04f" stroke="#2b8743" stroke-width="0.3"/>
<circle cx="181.20" cy="198.80" r="1.95" fill="#37a04f" stroke="#2b8743" stroke-width="0.3"/>
<circle cx="157.46" cy="192.77" r="1.95" fill="#37a04f" stroke="#2b8743" stroke-width="0.3"/>
<circle cx="173.68" cy="185.96" r="1.95" fill="#37a04f" stroke="#2b8743" stroke-width="0.3"/>
<circle cx="169.90" cy="207.41" r="1.95" fill="#37a04f" stroke="#2b8743" stroke-width="0.3"/>
<circle cx="130.26" cy="188.85" r="1.95" fill="#37a04f" stroke="#2b8743" stroke-width="0.3"/>
<circle cx="186.44" cy="186.64" r="1.95" fill="#37a04f" stroke="#2b8743" stroke-width="0.3"/>
<circle cx="161.89" cy="191.48" r="1.95" fill="#37a04f" stroke="#2b8743" stroke-width="0.3"/>
<circle cx="165.76" cy="205.98" r="1.95" fill="#37a04f" stroke="#2b8743" stroke-width="0.3"/>
<circle cx="157.57" cy="198.10" r="1.95" fill="#37a04f" stroke="#2b8743" stroke-width="0.3"/>
<circle cx="159.19" cy="189.15" r="1.95" fill="#37a04f" stroke="#2b8743" stroke-width="0.3"/>
<circle cx="120.27" cy="198.63" r="1.95" fill="#37a04f" stroke="#2b8743" stroke-width="0.3"/>
<circle cx="164.59" cy="210.59" r="1.95" fill="#37a04f" stroke="#2b8743" stroke-width="0.3"/>
<circle cx="148.91" cy="174.35" r="1.95" fill="#5b7dc0" stroke="#4f70b0" stroke-width="0.3"/>
<circle cx="132.54" cy="170.45" r="1.95" fill="#5b7dc0" stroke="#4f70b0" stroke-width="0.3"/>
<circle cx="133.19" cy="166.21" r="1.95" fill="#5b7dc0" stroke="#4f70b0" stroke-width="0.3"/>
<circle cx="134.51" cy="170.93" r="1.95" fill="#5b7dc0" stroke="#4f70b0" stroke-width="0.3"/>
<circle cx="152.05" cy="163.62" r="1.95" fill="#5b7dc0" stroke="#4f70b0" stroke-width="0.3"/>
<circle cx="152.02" cy="152.45" r="1.95" fill="#5b7dc0" stroke="#4f70b0" stroke-width="0.3"/>
<circle cx="145.96" cy="184.39" r="1.95" fill="#5b7dc0" stroke="#4f70b0" stroke-width="0.3"/>
<circle cx="148.64" cy="155.22" r="1.95" fill="#5b7dc0" stroke="#4f70b0" stroke-width="0.3"/>
<circle cx="151.37" cy="168.20" r="1.95" fill="#5b7dc0" stroke="#4f70b0" stroke-width="0.3"/>
<circle cx="149.38" cy="165.01" r="1.95" fill="#5b7dc0" stroke="#4f70b0" stroke-width="0.3"/>
<circle cx="138.02" cy="150.25" r="1.95" fill="#5b7dc0" stroke="#4f70b0" stroke-width="0.3"/>
<circle cx="132.84" cy="175.00" r="1.95" fill="#5b7dc0" stroke="#4f70b0" stroke-width="0.3"/>
<circle cx="133.53" cy="165.32" r="1.95" fill="#5b7dc0" stroke="#4f70b0" stroke-width="0.3"/>
<circle cx="148.69" cy="146.53" r="1.95" fill="#5b7dc0" stroke="#4f70b0" stroke-width="0.3"/>
<circle cx="134.87" cy="168.52" r="1.95" fill="#5b7dc0" stroke="#4f70b0" stroke-width="0.3"/>
<circle cx="153.13" cy="153.54" r="1.95" fill="#5b7dc0" stroke="#4f70b0" stroke-width="0.3"/>
<circle cx="147.73" cy="145.05" r="1.95" fill="#5b7dc0" stroke="#4f70b0" stroke-width="0.3"/>
<circle cx="152.44" cy="163.16" r="1.95" fill="#5b7dc0" stroke="#4f70b0" stroke-width="0.3"/>
<circle cx="152.11" cy="154.58" r="1.95" fill="#5b7dc0" stroke="#4f70b0" stroke-width="0.3"/>
<circle cx="132.48" cy="158.13" r="1.95" fill="#5b7dc0" stroke="#4f70b0" stroke-width="0.3"/>
<circle cx="151.54" cy="149.65" r="1.95" fill="#5b7dc0" stroke="#4f70b0" stroke-width="0.3"/>
<circle cx="153.28" cy="175.97" r="1.95" fill="#5b7dc0" stroke="#4f70b0" stroke-width="0.3"/>
<circle cx="150.77" cy="184.69" r="1.95" fill="#5b7dc0" stroke="#4f70b0" stroke-width="0.3"/>
<circle cx="134.00" cy="147.47" r="1.95" fill="#5b7dc0" stroke="#4f70b0" stroke-width="0.3"/>
<circle cx="150.28" cy="154.76" r="1.95" fill="#5b7dc0" stroke="#4f70b0" stroke-width="0.3"/>
<circle cx="146.26" cy="157.62" r="1.95" fill="#5b7dc0" stroke="#4f70b0" stroke-width="0.3"/>
<circle cx="133.93" cy="130.44" r="1.95" fill="#5b7dc0" stroke="#4f70b0" stroke-width="0.3"/>
<circle cx="137.39" cy="165.44" r="1.95" fill="#5b7dc0" stroke="#4f70b0" stroke-width="0.3"/>
<circle cx="153.74" cy="164.61" r="1.95" fill="#5b7dc0" stroke="#4f70b0" stroke-width="0.3"/>
<circle cx="135.75" cy="184.29" r="1.95" fill="#5b7dc0" stroke="#4f70b0" stroke-width="0.3"/>
<circle cx="138.72" cy="179.07" r="1.95" fill="#5b7dc0" stroke="#4f70b0" stroke-width="0.3"/>
<circle cx="136.98" cy="184.80" r="1.95" fill="#5b7dc0" stroke="#4f70b0" stroke-width="0.3"/>
<circle cx="147.52" cy="167.60" r="1.95" fill="#5b7dc0" stroke="#4f70b0" stroke-width="0.3"/>
<circle cx="136.56" cy="137.37" r="1.95" fill="#5b7dc0" stroke="#4f70b0" stroke-width="0.3"/>
<circle cx="132.37" cy="176.65" r="1.95" fill="#5b7dc0" stroke="#4f70b0" stroke-width="0.3"/>
<circle cx="153.23" cy="172.17" r="1.95" fill="#5b7dc0" stroke="#4f70b0" stroke-width="0.3"/>
<circle cx="134.68" cy="125.02" r="1.95" fill="#5b7dc0" stroke="#4f70b0" stroke-width="0.3"/>
<circle cx="134.24" cy="155.46" r="1.95" fill="#5b7dc0" stroke="#4f70b0" stroke-width="0.3"/>
<circle cx="135.14" cy="146.73" r="1.95" fill="#5b7dc0" stroke="#4f70b0" stroke-width="0.3"/>
<circle cx="136.23" cy="138.85" r="1.95" fill="#5b7dc0" stroke="#4f70b0" stroke-width="0.3"/>
<circle cx="149.56" cy="134.59" r="1.95" fill="#5b7dc0" stroke="#4f70b0" stroke-width="0.3"/>
<circle cx="136.83" cy="146.98" r="1.95" fill="#5b7dc0" stroke="#4f70b0" stroke-width="0.3"/>
<circle cx="135.33" cy="174.24" r="1.95" fill="#5b7dc0" stroke="#4f70b0" stroke-width="0.3"/>
<circle cx="136.46" cy="142.18" r="1.95" fill="#5b7dc0" stroke="#4f70b0" stroke-width="0.3"/>
<circle cx="139.62" cy="154.38" r="1.95" fill="#5b7dc0" stroke="#4f70b0" stroke-width="0.3"/>
<circle cx="151.62" cy="165.82" r="1.95" fill="#5b7dc0" stroke="#4f70b0" stroke-width="0.3"/>
<circle cx="138.32" cy="171.02" r="1.95" fill="#5b7dc0" stroke="#4f70b0" stroke-width="0.3"/>
<circle cx="135.31" cy="174.00" r="1.95" fill="#5b7dc0" stroke="#4f70b0" stroke-width="0.3"/>
<circle cx="148.60" cy="165.84" r="1.95" fill="#5b7dc0" stroke="#4f70b0" stroke-width="0.3"/>
<circle cx="135.59" cy="151.49" r="1.95" fill="#5b7dc0" stroke="#4f70b0" stroke-width="0.3"/>
<circle cx="147.48" cy="149.45" r="1.95" fill="#5b7dc0" stroke="#4f70b0" stroke-width="0.3"/>
<circle cx="137.14" cy="150.48" r="1.95" fill="#5b7dc0" stroke="#4f70b0" stroke-width="0.3"/>
<circle cx="151.67" cy="160.21" r="1.95" fill="#5b7dc0" stroke="#4f70b0" stroke-width="0.3"/>
<circle cx="146.04" cy="176.35" r="1.95" fill="#5b7dc0" stroke="#4f70b0" stroke-width="0.3"/>
<circle cx="138.81" cy="177.43" r="1.95" fill="#5b7dc0" stroke="#4f70b0" stroke-width="0.3"/>
<circle cx="131.61" cy="171.58" r="1.95" fill="#5b7dc0" stroke="#4f70b0" stroke-width="0.3"/>
<circle cx="152.76" cy="170.44" r="1.95" fill="#5b7dc0" stroke="#4f70b0" stroke-width="0.3"/>
<circle cx="137.90" cy="143.30" r="1.95" fill="#5b7dc0" stroke="#4f70b0" stroke-width="0.3"/>
<circle cx="151.88" cy="164.43" r="1.95" fill="#5b7dc0" stroke="#4f70b0" stroke-width="0.3"/>
<circle cx="150.96" cy="166.27" r="1.95" fill="#5b7dc0" stroke="#4f70b0" stroke-width="0.3"/>
<circle cx="132.39" cy="163.61" r="1.95" fill="#5b7dc0" stroke="#4f70b0" stroke-width="0.3"/>
<circle cx="144.98" cy="183.20" r="1.95" fill="#5b7dc0" stroke="#4f70b0" stroke-width="0.3"/>
<circle cx="133.34" cy="153.26" r="1.95" fill="#5b7dc0" stroke="#4f70b0" stroke-width="0.3"/>
<circle cx="135.52" cy="159.48" r="1.95" fill="#5b7dc0" stroke="#4f70b0" stroke-width="0.3"/>
<circle cx="138.31" cy="154.87" r="1.95" fill="#5b7dc0" stroke="#4f70b0" stroke-width="0.3"/>
<circle cx="151.55" cy="163.92" r="1.95" fill="#5b7dc0" stroke="#4f70b0" stroke-width="0.3"/>
<circle cx="153.41" cy="163.76" r="1.95" fill="#5b7dc0" stroke="#4f70b0" stroke-width="0.3"/>
<circle cx="131.40" cy="165.64" r="1.95" fill="#5b7dc0" stroke="#4f70b0" stroke-width="0.3"/>
<circle cx="153.61" cy="163.55" r="1.95" fill="#5b7dc0" stroke="#4f70b0" stroke-width="0.3"/>
<circle cx="149.00" cy="171.35" r="1.95" fill="#5b7dc0" stroke="#4f70b0" stroke-width="0.3"/>
<circle cx="137.99" cy="176.03" r="1.95" fill="#5b7dc0" stroke="#4f70b0" stroke-width="0.3"/>
<circle cx="138.49" cy="155.98" r="1.95" fill="#5b7dc0" stroke="#4f70b0" stroke-width="0.3"/>
<circle cx="152.02" cy="141.07" r="1.95" fill="#5b7dc0" stroke="#4f70b0" stroke-width="0.3"/>
<circle cx="136.59" cy="149.36" r="1.95" fill="#5b7dc0" stroke="#4f70b0" stroke-width="0.3"/>
<circle cx="148.25" cy="170.80" r="1.95" fill="#5b7dc0" stroke="#4f70b0" stroke-width="0.3"/>
<circle cx="153.26" cy="162.56" r="1.95" fill="#5b7dc0" stroke="#4f70b0" stroke-width="0.3"/>
<circle cx="154.41" cy="148.82" r="1.95" fill="#5b7dc0" stroke="#4f70b0" stroke-width="0.3"/>
<circle cx="136.90" cy="176.87" r="1.95" fill="#5b7dc0" stroke="#4f70b0" stroke-width="0.3"/>
<circle cx="135.83" cy="147.75" r="1.95" fill="#5b7dc0" stroke="#4f70b0" stroke-width="0.3"/>
<circle cx="149.53" cy="147.54" r="1.95" fill="#5b7dc0" stroke="#4f70b0" stroke-width="0.3"/>
<circle cx="132.77" cy="183.89" r="1.95" fill="#5b7dc0" stroke="#4f70b0" stroke-width="0.3"/>
<circle cx="153.66" cy="162.28" r="1.95" fill="#5b7dc0" stroke="#4f70b0" stroke-width="0.3"/>
<circle cx="136.86" cy="172.92" r="1.95" fill="#5b7dc0" stroke="#4f70b0" stroke-width="0.3"/>
<circle cx="153.23" cy="137.25" r="1.95" fill="#5b7dc0" stroke="#4f70b0" stroke-width="0.3"/>
<circle cx="139.01" cy="181.99" r="1.95" fill="#5b7dc0" stroke="#4f70b0" stroke-width="0.3"/>
<circle cx="132.49" cy="168.30" r="1.95" fill="#5b7dc0" stroke="#4f70b0" stroke-width="0.3"/>
<circle cx="151.54" cy="136.29" r="1.95" fill="#5b7dc0" stroke="#4f70b0" stroke-width="0.3"/>
<circle cx="136.17" cy="148.16" r="1.95" fill="#5b7dc0" stroke="#4f70b0" stroke-width="0.3"/>
<circle cx="135.07" cy="162.89" r="1.95" fill="#5b7dc0" stroke="#4f70b0" stroke-width="0.3"/>
<circle cx="153.06" cy="156.00" r="1.95" fill="#5b7dc0" stroke="#4f70b0" stroke-width="0.3"/>
<circle cx="149.58" cy="154.84" r="1.95" fill="#5b7dc0" stroke="#4f70b0" stroke-width="0.3"/>
<circle cx="148.21" cy="149.74" r="1.95" fill="#5b7dc0" stroke="#4f70b0" stroke-width="0.3"/>
<circle cx="152.81" cy="145.22" r="1.95" fill="#5b7dc0" stroke="#4f70b0" stroke-width="0.3"/>
<circle cx="154.43" cy="182.57" r="1.95" fill="#5b7dc0" stroke="#4f70b0" stroke-width="0.3"/>
<circle cx="152.20" cy="144.64" r="1.95" fill="#5b7dc0" stroke="#4f70b0" stroke-width="0.3"/>
<circle cx="148.30" cy="179.78" r="1.95" fill="#5b7dc0" stroke="#4f70b0" stroke-width="0.3"/>
<circle cx="135.30" cy="167.65" r="1.95" fill="#5b7dc0" stroke="#4f70b0" stroke-width="0.3"/>
<circle cx="140.03" cy="164.95" r="1.95" fill="#5b7dc0" stroke="#4f70b0" stroke-width="0.3"/>
<circle cx="150.42" cy="161.11" r="1.95" fill="#5b7dc0" stroke="#4f70b0" stroke-width="0.3"/>
<circle cx="147.33" cy="169.23" r="1.95" fill="#5b7dc0" stroke="#4f70b0" stroke-width="0.3"/>
<circle cx="153.46" cy="140.74" r="1.95" fill="#5b7dc0" stroke="#4f70b0" stroke-width="0.3"/>
<circle cx="135.19" cy="170.21" r="1.95" fill="#5b7dc0" stroke="#4f70b0" stroke-width="0.3"/>
<circle cx="134.08" cy="151.71" r="1.95" fill="#5b7dc0" stroke="#4f70b0" stroke-width="0.3"/>
<circle cx="147.26" cy="151.76" r="1.95" fill="#5b7dc0" stroke="#4f70b0" stroke-width="0.3"/>
<circle cx="149.38" cy="164.38" r="1.95" fill="#5b7dc0" stroke="#4f70b0" stroke-width="0.3"/>
<circle cx="132.31" cy="172.55" r="1.95" fill="#5b7dc0" stroke="#4f70b0" stroke-width="0.3"/>
<circle cx="152.05" cy="162.89" r="1.95" fill="#5b7dc0" stroke="#4f70b0" stroke-width="0.3"/>
<circle cx="138.94" cy="140.74" r="1.95" fill="#5b7dc0" stroke="#4f70b0" stroke-width="0.3"/>
<circle cx="151.46" cy="165.45" r="1.95" fill="#5b7dc0" stroke="#4f70b0" stroke-width="0.3"/>
<circle cx="136.11" cy="156.21" r="1.95" fill="#5b7dc0" stroke="#4f70b0" stroke-width="0.3"/>
<circle cx="133.84" cy="140.98" r="1.95" fill="#5b7dc0" stroke="#4f70b0" stroke-width="0.3"/>
<circle cx="150.82" cy="136.70" r="1.95" fill="#5b7dc0" stroke="#4f70b0" stroke-width="0.3"/>
<circle cx="147.80" cy="163.74" r="1.95" fill="#5b7dc0" stroke="#4f70b0" stroke-width="0.3"/>
<circle cx="139.97" cy="167.14" r="1.95" fill="#5b7dc0" stroke="#4f70b0" stroke-width="0.3"/>
<circle cx="148.70" cy="150.48" r="1.95" fill="#5b7dc0" stroke="#4f70b0" stroke-width="0.3"/>
<circle cx="151.07" cy="153.83" r="1.95" fill="#5b7dc0" stroke="#4f70b0" stroke-width="0.3"/>
<circle cx="149.21" cy="143.57" r="1.95" fill="#5b7dc0" stroke="#4f70b0" stroke-width="0.3"/>
<circle cx="151.23" cy="139.22" r="1.95" fill="#5b7dc0" stroke="#4f70b0" stroke-width="0.3"/>
<circle cx="151.19" cy="144.57" r="1.95" fill="#5b7dc0" stroke="#4f70b0" stroke-width="0.3"/>
<circle cx="149.35" cy="182.76" r="1.95" fill="#5b7dc0" stroke="#4f70b0" stroke-width="0.3"/>
<circle cx="136.76" cy="137.63" r="1.95" fill="#5b7dc0" stroke="#4f70b0" stroke-width="0.3"/>
<circle cx="147.63" cy="157.51" r="1.95" fill="#5b7dc0" stroke="#4f70b0" stroke-width="0.3"/>
<circle cx="133.71" cy="178.81" r="1.95" fill="#5b7dc0" stroke="#4f70b0" stroke-width="0.3"/>
<circle cx="147.41" cy="167.18" r="1.95" fill="#5b7dc0" stroke="#4f70b0" stroke-width="0.3"/>
<circle cx="139.16" cy="179.17" r="1.95" fill="#5b7dc0" stroke="#4f70b0" stroke-width="0.3"/>
<circle cx="150.73" cy="161.72" r="1.95" fill="#5b7dc0" stroke="#4f70b0" stroke-width="0.3"/>
<circle cx="134.78" cy="140.18" r="1.95" fill="#5b7dc0" stroke="#4f70b0" stroke-width="0.3"/>
<circle cx="152.19" cy="166.36" r="1.95" fill="#5b7dc0" stroke="#4f70b0" stroke-width="0.3"/>
<circle cx="152.00" cy="133.00" r="1.95" fill="#5b7dc0" stroke="#4f70b0" stroke-width="0.3"/>
<circle cx="147.23" cy="184.48" r="1.95" fill="#5b7dc0" stroke="#4f70b0" stroke-width="0.3"/>
<circle cx="132.43" cy="170.37" r="1.95" fill="#5b7dc0" stroke="#4f70b0" stroke-width="0.3"/>
<circle cx="152.91" cy="172.15" r="1.95" fill="#5b7dc0" stroke="#4f70b0" stroke-width="0.3"/>
<circle cx="139.15" cy="175.44" r="1.95" fill="#5b7dc0" stroke="#4f70b0" stroke-width="0.3"/>
<circle cx="146.75" cy="181.96" r="1.95" fill="#5b7dc0" stroke="#4f70b0" stroke-width="0.3"/>
<circle cx="133.28" cy="172.92" r="1.95" fill="#5b7dc0" stroke="#4f70b0" stroke-width="0.3"/>
<circle cx="150.49" cy="135.16" r="1.95" fill="#5b7dc0" stroke="#4f70b0" stroke-width="0.3"/>
<circle cx="137.70" cy="141.80" r="1.95" fill="#5b7dc0" stroke="#4f70b0" stroke-width="0.3"/>
<circle cx="150.86" cy="185.06" r="1.95" fill="#5b7dc0" stroke="#4f70b0" stroke-width="0.3"/>
<circle cx="150.30" cy="178.54" r="1.95" fill="#5b7dc0" stroke="#4f70b0" stroke-width="0.3"/>
<circle cx="138.17" cy="160.90" r="1.95" fill="#5b7dc0" stroke="#4f70b0" stroke-width="0.3"/>
<circle cx="148.06" cy="158.29" r="1.95" fill="#5b7dc0" stroke="#4f70b0" stroke-width="0.3"/>
<circle cx="137.69" cy="169.14" r="1.95" fill="#5b7dc0" stroke="#4f70b0" stroke-width="0.3"/>
<circle cx="152.90" cy="154.26" r="1.95" fill="#5b7dc0" stroke="#4f70b0" stroke-width="0.3"/>
<circle cx="136.23" cy="162.42" r="1.95" fill="#5b7dc0" stroke="#4f70b0" stroke-width="0.3"/>
<circle cx="145.90" cy="179.70" r="1.95" fill="#5b7dc0" stroke="#4f70b0" stroke-width="0.3"/>
<circle cx="149.24" cy="175.04" r="1.95" fill="#5b7dc0" stroke="#4f70b0" stroke-width="0.3"/>
<circle cx="147.50" cy="166.37" r="1.95" fill="#5b7dc0" stroke="#4f70b0" stroke-width="0.3"/>
<circle cx="145.16" cy="179.07" r="1.95" fill="#5b7dc0" stroke="#4f70b0" stroke-width="0.3"/>
<circle cx="148.53" cy="174.13" r="1.95" fill="#5b7dc0" stroke="#4f70b0" stroke-width="0.3"/>
<circle cx="148.37" cy="136.55" r="1.95" fill="#5b7dc0" stroke="#4f70b0" stroke-width="0.3"/>
<circle cx="151.58" cy="183.83" r="1.95" fill="#5b7dc0" stroke="#4f70b0" stroke-width="0.3"/>
<circle cx="132.36" cy="140.53" r="1.95" fill="#5b7dc0" stroke="#4f70b0" stroke-width="0.3"/>
<circle cx="152.70" cy="161.15" r="1.95" fill="#5b7dc0" stroke="#4f70b0" stroke-width="0.3"/>
<circle cx="139.18" cy="183.00" r="1.95" fill="#5b7dc0" stroke="#4f70b0" stroke-width="0.3"/>
<circle cx="137.14" cy="165.34" r="1.95" fill="#5b7dc0" stroke="#4f70b0" stroke-width="0.3"/>
<circle cx="133.89" cy="169.35" r="1.95" fill="#5b7dc0" stroke="#4f70b0" stroke-width="0.3"/>
<circle cx="136.46" cy="169.85" r="1.95" fill="#5b7dc0" stroke="#4f70b0" stroke-width="0.3"/>
<circle cx="148.45" cy="148.54" r="1.95" fill="#5b7dc0" stroke="#4f70b0" stroke-width="0.3"/>
<circle cx="148.80" cy="180.36" r="1.95" fill="#5b7dc0" stroke="#4f70b0" stroke-width="0.3"/>
<circle cx="147.48" cy="155.57" r="1.95" fill="#5b7dc0" stroke="#4f70b0" stroke-width="0.3"/>
<circle cx="132.51" cy="160.17" r="1.95" fill="#5b7dc0" stroke="#4f70b0" stroke-width="0.3"/>
<circle cx="137.12" cy="133.67" r="1.95" fill="#5b7dc0" stroke="#4f70b0" stroke-width="0.3"/>
<circle cx="131.39" cy="144.49" r="1.95" fill="#5b7dc0" stroke="#4f70b0" stroke-width="0.3"/>
<circle cx="139.06" cy="158.97" r="1.95" fill="#5b7dc0" stroke="#4f70b0" stroke-width="0.3"/>
<circle cx="151.98" cy="159.49" r="1.95" fill="#5b7dc0" stroke="#4f70b0" stroke-width="0.3"/>
<circle cx="149.10" cy="138.20" r="1.95" fill="#5b7dc0" stroke="#4f70b0" stroke-width="0.3"/>
<circle cx="151.91" cy="137.34" r="1.95" fill="#5b7dc0" stroke="#4f70b0" stroke-width="0.3"/>
<circle cx="147.65" cy="183.56" r="1.95" fill="#5b7dc0" stroke="#4f70b0" stroke-width="0.3"/>
<circle cx="152.63" cy="150.34" r="1.95" fill="#5b7dc0" stroke="#4f70b0" stroke-width="0.3"/>
<circle cx="152.15" cy="165.91" r="1.95" fill="#5b7dc0" stroke="#4f70b0" stroke-width="0.3"/>
<circle cx="152.70" cy="172.93" r="1.95" fill="#5b7dc0" stroke="#4f70b0" stroke-width="0.3"/>
<circle cx="139.59" cy="156.04" r="1.95" fill="#5b7dc0" stroke="#4f70b0" stroke-width="0.3"/>
<circle cx="139.17" cy="156.22" r="1.95" fill="#5b7dc0" stroke="#4f70b0" stroke-width="0.3"/>
<circle cx="138.18" cy="165.66" r="1.95" fill="#5b7dc0" stroke="#4f70b0" stroke-width="0.3"/>
<circle cx="146.53" cy="174.85" r="1.95" fill="#5b7dc0" stroke="#4f70b0" stroke-width="0.3"/>
<circle cx="150.78" cy="145.14" r="1.95" fill="#5b7dc0" stroke="#4f70b0" stroke-width="0.3"/>
<circle cx="147.16" cy="169.77" r="1.95" fill="#5b7dc0" stroke="#4f70b0" stroke-width="0.3"/>
<circle cx="132.89" cy="137.14" r="1.95" fill="#5b7dc0" stroke="#4f70b0" stroke-width="0.3"/>
<circle cx="148.54" cy="147.84" r="1.95" fill="#5b7dc0" stroke="#4f70b0" stroke-width="0.3"/>
<circle cx="152.86" cy="143.17" r="1.95" fill="#5b7dc0" stroke="#4f70b0" stroke-width="0.3"/>
<circle cx="132.76" cy="147.35" r="1.95" fill="#5b7dc0" stroke="#4f70b0" stroke-width="0.3"/>
<circle cx="148.69" cy="155.01" r="1.95" fill="#5b7dc0" stroke="#4f70b0" stroke-width="0.3"/>
<circle cx="147.05" cy="148.76" r="1.95" fill="#5b7dc0" stroke="#4f70b0" stroke-width="0.3"/>
<circle cx="152.85" cy="158.04" r="1.95" fill="#5b7dc0" stroke="#4f70b0" stroke-width="0.3"/>
<circle cx="136.92" cy="174.76" r="1.95" fill="#5b7dc0" stroke="#4f70b0" stroke-width="0.3"/>
<circle cx="140.17" cy="180.49" r="1.95" fill="#5b7dc0" stroke="#4f70b0" stroke-width="0.3"/>
<circle cx="132.35" cy="148.60" r="1.95" fill="#5b7dc0" stroke="#4f70b0" stroke-width="0.3"/>
<circle cx="132.82" cy="181.85" r="1.95" fill="#5b7dc0" stroke="#4f70b0" stroke-width="0.3"/>
<circle cx="137.80" cy="158.63" r="1.95" fill="#5b7dc0" stroke="#4f70b0" stroke-width="0.3"/>
<circle cx="153.25" cy="145.11" r="1.95" fill="#5b7dc0" stroke="#4f70b0" stroke-width="0.3"/>
<circle cx="145.20" cy="184.51" r="1.95" fill="#5b7dc0" stroke="#4f70b0" stroke-width="0.3"/>
<circle cx="134.75" cy="143.36" r="1.95" fill="#5b7dc0" stroke="#4f70b0" stroke-width="0.3"/>
<circle cx="149.65" cy="160.13" r="1.95" fill="#5b7dc0" stroke="#4f70b0" stroke-width="0.3"/>
<circle cx="139.94" cy="175.42" r="1.95" fill="#5b7dc0" stroke="#4f70b0" stroke-width="0.3"/>
<circle cx="153.38" cy="153.08" r="1.95" fill="#5b7dc0" stroke="#4f70b0" stroke-width="0.3"/>
<circle cx="135.41" cy="130.19" r="1.95" fill="#5b7dc0" stroke="#4f70b0" stroke-width="0.3"/>
<circle cx="149.24" cy="160.00" r="1.95" fill="#5b7dc0" stroke="#4f70b0" stroke-width="0.3"/>
<circle cx="153.56" cy="153.49" r="1.95" fill="#5b7dc0" stroke="#4f70b0" stroke-width="0.3"/>
<circle cx="153.17" cy="173.31" r="1.95" fill="#5b7dc0" stroke="#4f70b0" stroke-width="0.3"/>
<circle cx="139.91" cy="162.62" r="1.95" fill="#5b7dc0" stroke="#4f70b0" stroke-width="0.3"/>
<circle cx="133.32" cy="130.24" r="1.95" fill="#5b7dc0" stroke="#4f70b0" stroke-width="0.3"/>
<circle cx="150.36" cy="152.15" r="1.95" fill="#5b7dc0" stroke="#4f70b0" stroke-width="0.3"/>
<circle cx="147.03" cy="171.06" r="1.95" fill="#5b7dc0" stroke="#4f70b0" stroke-width="0.3"/>
<circle cx="151.39" cy="133.91" r="1.95" fill="#5b7dc0" stroke="#4f70b0" stroke-width="0.3"/>
<circle cx="150.54" cy="147.04" r="1.95" fill="#5b7dc0" stroke="#4f70b0" stroke-width="0.3"/>
<circle cx="150.00" cy="162.32" r="1.95" fill="#5b7dc0" stroke="#4f70b0" stroke-width="0.3"/>
<circle cx="133.86" cy="146.70" r="1.95" fill="#5b7dc0" stroke="#4f70b0" stroke-width="0.3"/>
<circle cx="139.00" cy="142.60" r="1.95" fill="#5b7dc0" stroke="#4f70b0" stroke-width="0.3"/>
<circle cx="145.60" cy="173.92" r="1.95" fill="#5b7dc0" stroke="#4f70b0" stroke-width="0.3"/>
<circle cx="148.89" cy="140.55" r="1.95" fill="#5b7dc0" stroke="#4f70b0" stroke-width="0.3"/>
<circle cx="140.27" cy="168.89" r="1.95" fill="#5b7dc0" stroke="#4f70b0" stroke-width="0.3"/>
<circle cx="145.69" cy="181.10" r="1.95" fill="#5b7dc0" stroke="#4f70b0" stroke-width="0.3"/>
<circle cx="151.32" cy="184.00" r="1.95" fill="#5b7dc0" stroke="#4f70b0" stroke-width="0.3"/>
<circle cx="146.08" cy="160.60" r="1.95" fill="#5b7dc0" stroke="#4f70b0" stroke-width="0.3"/>
<circle cx="131.35" cy="161.78" r="1.95" fill="#5b7dc0" stroke="#4f70b0" stroke-width="0.3"/>
<circle cx="151.05" cy="152.54" r="1.95" fill="#5b7dc0" stroke="#4f70b0" stroke-width="0.3"/>
<circle cx="132.59" cy="146.43" r="1.95" fill="#5b7dc0" stroke="#4f70b0" stroke-width="0.3"/>
<circle cx="131.39" cy="160.68" r="1.95" fill="#5b7dc0" stroke="#4f70b0" stroke-width="0.3"/>
<circle cx="148.24" cy="172.59" r="1.95" fill="#5b7dc0" stroke="#4f70b0" stroke-width="0.3"/>
<circle cx="148.16" cy="167.78" r="1.95" fill="#5b7dc0" stroke="#4f70b0" stroke-width="0.3"/>
<circle cx="135.25" cy="160.58" r="1.95" fill="#5b7dc0" stroke="#4f70b0" stroke-width="0.3"/>
<circle cx="149.45" cy="138.91" r="1.95" fill="#5b7dc0" stroke="#4f70b0" stroke-width="0.3"/>
<circle cx="153.64" cy="148.58" r="1.95" fill="#5b7dc0" stroke="#4f70b0" stroke-width="0.3"/>
<circle cx="138.65" cy="154.74" r="1.95" fill="#5b7dc0" stroke="#4f70b0" stroke-width="0.3"/>
<circle cx="146.82" cy="150.97" r="1.95" fill="#5b7dc0" stroke="#4f70b0" stroke-width="0.3"/>
<circle cx="153.60" cy="135.99" r="1.95" fill="#5b7dc0" stroke="#4f70b0" stroke-width="0.3"/>
<circle cx="149.50" cy="159.45" r="1.95" fill="#5b7dc0" stroke="#4f70b0" stroke-width="0.3"/>
<circle cx="150.36" cy="160.53" r="1.95" fill="#5b7dc0" stroke="#4f70b0" stroke-width="0.3"/>
<circle cx="132.50" cy="178.33" r="1.95" fill="#5b7dc0" stroke="#4f70b0" stroke-width="0.3"/>
<circle cx="134.64" cy="134.44" r="1.95" fill="#5b7dc0" stroke="#4f70b0" stroke-width="0.3"/>
<circle cx="139.37" cy="166.61" r="1.95" fill="#5b7dc0" stroke="#4f70b0" stroke-width="0.3"/>
<circle cx="148.71" cy="171.33" r="1.95" fill="#5b7dc0" stroke="#4f70b0" stroke-width="0.3"/>
<circle cx="150.10" cy="156.97" r="1.95" fill="#5b7dc0" stroke="#4f70b0" stroke-width="0.3"/>
<circle cx="137.46" cy="144.81" r="1.95" fill="#5b7dc0" stroke="#4f70b0" stroke-width="0.3"/>
<circle cx="145.15" cy="184.11" r="1.95" fill="#5b7dc0" stroke="#4f70b0" stroke-width="0.3"/>
<circle cx="137.17" cy="181.44" r="1.95" fill="#5b7dc0" stroke="#4f70b0" stroke-width="0.3"/>
<circle cx="137.07" cy="156.82" r="1.95" fill="#5b7dc0" stroke="#4f70b0" stroke-width="0.3"/>
<circle cx="136.50" cy="174.20" r="1.95" fill="#5b7dc0" stroke="#4f70b0" stroke-width="0.3"/>
<circle cx="147.23" cy="157.14" r="1.95" fill="#5b7dc0" stroke="#4f70b0" stroke-width="0.3"/>
<circle cx="149.24" cy="134.57" r="1.95" fill="#5b7dc0" stroke="#4f70b0" stroke-width="0.3"/>
<circle cx="149.20" cy="136.97" r="1.95" fill="#5b7dc0" stroke="#4f70b0" stroke-width="0.3"/>
<circle cx="149.15" cy="154.74" r="1.95" fill="#5b7dc0" stroke="#4f70b0" stroke-width="0.3"/>
<circle cx="152.24" cy="168.58" r="1.95" fill="#5b7dc0" stroke="#4f70b0" stroke-width="0.3"/>
<circle cx="148.34" cy="164.57" r="1.95" fill="#5b7dc0" stroke="#4f70b0" stroke-width="0.3"/>
<circle cx="151.72" cy="172.18" r="1.95" fill="#5b7dc0" stroke="#4f70b0" stroke-width="0.3"/>
<circle cx="147.75" cy="176.63" r="1.95" fill="#5b7dc0" stroke="#4f70b0" stroke-width="0.3"/>
<circle cx="138.84" cy="155.03" r="1.95" fill="#5b7dc0" stroke="#4f70b0" stroke-width="0.3"/>
<circle cx="138.49" cy="184.66" r="1.95" fill="#5b7dc0" stroke="#4f70b0" stroke-width="0.3"/>
<circle cx="133.59" cy="140.17" r="1.95" fill="#5b7dc0" stroke="#4f70b0" stroke-width="0.3"/>
<circle cx="150.47" cy="159.79" r="1.95" fill="#5b7dc0" stroke="#4f70b0" stroke-width="0.3"/>
<circle cx="153.13" cy="168.30" r="1.95" fill="#5b7dc0" stroke="#4f70b0" stroke-width="0.3"/>
<circle cx="152.72" cy="145.78" r="1.95" fill="#5b7dc0" stroke="#4f70b0" stroke-width="0.3"/>
<circle cx="133.57" cy="172.95" r="1.95" fill="#5b7dc0" stroke="#4f70b0" stroke-width="0.3"/>
<circle cx="135.18" cy="160.35" r="1.95" fill="#5b7dc0" stroke="#4f70b0" stroke-width="0.3"/>
<circle cx="148.22" cy="185.20" r="1.95" fill="#5b7dc0" stroke="#4f70b0" stroke-width="0.3"/>
<circle cx="147.91" cy="176.72" r="1.95" fill="#5b7dc0" stroke="#4f70b0" stroke-width="0.3"/>
<circle cx="135.62" cy="183.52" r="1.95" fill="#5b7dc0" stroke="#4f70b0" stroke-width="0.3"/>
<circle cx="136.08" cy="175.73" r="1.95" fill="#5b7dc0" stroke="#4f70b0" stroke-width="0.3"/>
<circle cx="134.92" cy="127.61" r="1.95" fill="#5b7dc0" stroke="#4f70b0" stroke-width="0.3"/>
<circle cx="134.57" cy="156.79" r="1.95" fill="#5b7dc0" stroke="#4f70b0" stroke-width="0.3"/>
<circle cx="149.24" cy="136.26" r="1.95" fill="#5b7dc0" stroke="#4f70b0" stroke-width="0.3"/>
<circle cx="134.98" cy="128.68" r="1.95" fill="#5b7dc0" stroke="#4f70b0" stroke-width="0.3"/>
<circle cx="152.40" cy="136.90" r="1.95" fill="#5b7dc0" stroke="#4f70b0" stroke-width="0.3"/>
<circle cx="138.05" cy="183.27" r="1.95" fill="#5b7dc0" stroke="#4f70b0" stroke-width="0.3"/>
<circle cx="131.88" cy="159.44" r="1.95" fill="#5b7dc0" stroke="#4f70b0" stroke-width="0.3"/>
<circle cx="131.52" cy="169.23" r="1.95" fill="#5b7dc0" stroke="#4f70b0" stroke-width="0.3"/>
<circle cx="137.67" cy="178.46" r="1.95" fill="#5b7dc0" stroke="#4f70b0" stroke-width="0.3"/>
<circle cx="151.67" cy="154.28" r="1.95" fill="#5b7dc0" stroke="#4f70b0" stroke-width="0.3"/>
<circle cx="131.96" cy="171.82" r="1.95" fill="#5b7dc0" stroke="#4f70b0" stroke-width="0.3"/>
<circle cx="152.45" cy="185.40" r="1.95" fill="#5b7dc0" stroke="#4f70b0" stroke-width="0.3"/>
<circle cx="148.91" cy="161.54" r="1.95" fill="#5b7dc0" stroke="#4f70b0" stroke-width="0.3"/>
<circle cx="145.06" cy="183.33" r="1.95" fill="#5b7dc0" stroke="#4f70b0" stroke-width="0.3"/>
<circle cx="135.62" cy="136.61" r="1.95" fill="#5b7dc0" stroke="#4f70b0" stroke-width="0.3"/>
<circle cx="135.44" cy="142.52" r="1.95" fill="#5b7dc0" stroke="#4f70b0" stroke-width="0.3"/>
<circle cx="152.38" cy="156.58" r="1.95" fill="#5b7dc0" stroke="#4f70b0" stroke-width="0.3"/>
<circle cx="148.49" cy="178.51" r="1.95" fill="#5b7dc0" stroke="#4f70b0" stroke-width="0.3"/>
<circle cx="153.44" cy="182.49" r="1.95" fill="#5b7dc0" stroke="#4f70b0" stroke-width="0.3"/>
<circle cx="150.33" cy="139.15" r="1.95" fill="#5b7dc0" stroke="#4f70b0" stroke-width="0.3"/>
<circle cx="150.04" cy="143.47" r="1.95" fill="#5b7dc0" stroke="#4f70b0" stroke-width="0.3"/>
<circle cx="151.08" cy="177.05" r="1.95" fill="#5b7dc0" stroke="#4f70b0" stroke-width="0.3"/>
<circle cx="154.27" cy="151.05" r="1.95" fill="#5b7dc0" stroke="#4f70b0" stroke-width="0.3"/>
<circle cx="133.57" cy="176.71" r="1.95" fill="#5b7dc0" stroke="#4f70b0" stroke-width="0.3"/>
<circle cx="134.91" cy="160.91" r="1.95" fill="#5b7dc0" stroke="#4f70b0" stroke-width="0.3"/>
<circle cx="139.84" cy="175.98" r="1.95" fill="#5b7dc0" stroke="#4f70b0" stroke-width="0.3"/>
<circle cx="136.75" cy="135.12" r="1.95" fill="#5b7dc0" stroke="#4f70b0" stroke-width="0.3"/>
<circle cx="140.58" cy="185.01" r="1.95" fill="#5b7dc0" stroke="#4f70b0" stroke-width="0.3"/>
<circle cx="151.39" cy="183.66" r="1.95" fill="#5b7dc0" stroke="#4f70b0" stroke-width="0.3"/>
<circle cx="136.76" cy="148.04" r="1.95" fill="#5b7dc0" stroke="#4f70b0" stroke-width="0.3"/>
<circle cx="146.42" cy="166.32" r="1.95" fill="#5b7dc0" stroke="#4f70b0" stroke-width="0.3"/>
<circle cx="132.88" cy="168.13" r="1.95" fill="#5b7dc0" stroke="#4f70b0" stroke-width="0.3"/>
<circle cx="138.18" cy="164.21" r="1.95" fill="#5b7dc0" stroke="#4f70b0" stroke-width="0.3"/>
<circle cx="152.77" cy="182.22" r="1.95" fill="#5b7dc0" stroke="#4f70b0" stroke-width="0.3"/>
<circle cx="134.04" cy="131.26" r="1.95" fill="#5b7dc0" stroke="#4f70b0" stroke-width="0.3"/>
<circle cx="135.48" cy="158.07" r="1.95" fill="#5b7dc0" stroke="#4f70b0" stroke-width="0.3"/>
<circle cx="152.01" cy="145.85" r="1.95" fill="#5b7dc0" stroke="#4f70b0" stroke-width="0.3"/>
<circle cx="153.84" cy="149.87" r="1.95" fill="#5b7dc0" stroke="#4f70b0" stroke-width="0.3"/>
<circle cx="139.71" cy="171.76" r="1.95" fill="#5b7dc0" stroke="#4f70b0" stroke-width="0.3"/>
<circle cx="147.74" cy="167.38" r="1.95" fill="#5b7dc0" stroke="#4f70b0" stroke-width="0.3"/>
<circle cx="149.48" cy="149.75" r="1.95" fill="#5b7dc0" stroke="#4f70b0" stroke-width="0.3"/>
<circle cx="151.10" cy="178.03" r="1.95" fill="#5b7dc0" stroke="#4f70b0" stroke-width="0.3"/>
<circle cx="149.10" cy="146.08" r="1.95" fill="#5b7dc0" stroke="#4f70b0" stroke-width="0.3"/>
<circle cx="147.15" cy="177.29" r="1.95" fill="#5b7dc0" stroke="#4f70b0" stroke-width="0.3"/>
<circle cx="135.82" cy="157.92" r="1.95" fill="#5b7dc0" stroke="#4f70b0" stroke-width="0.3"/>
<circle cx="153.16" cy="174.92" r="1.95" fill="#5b7dc0" stroke="#4f70b0" stroke-width="0.3"/>
<circle cx="153.60" cy="155.48" r="1.95" fill="#5b7dc0" stroke="#4f70b0" stroke-width="0.3"/>
<circle cx="133.66" cy="174.14" r="1.95" fill="#5b7dc0" stroke="#4f70b0" stroke-width="0.3"/>
<circle cx="131.50" cy="175.14" r="1.95" fill="#5b7dc0" stroke="#4f70b0" stroke-width="0.3"/>
<circle cx="148.55" cy="179.54" r="1.95" fill="#5b7dc0" stroke="#4f70b0" stroke-width="0.3"/>
<circle cx="133.89" cy="130.14" r="1.95" fill="#5b7dc0" stroke="#4f70b0" stroke-width="0.3"/>
<circle cx="132.80" cy="142.27" r="1.95" fill="#5b7dc0" stroke="#4f70b0" stroke-width="0.3"/>
<circle cx="136.74" cy="184.11" r="1.95" fill="#5b7dc0" stroke="#4f70b0" stroke-width="0.3"/>
<circle cx="136.06" cy="174.87" r="1.95" fill="#5b7dc0" stroke="#4f70b0" stroke-width="0.3"/>
<circle cx="135.30" cy="179.58" r="1.95" fill="#5b7dc0" stroke="#4f70b0" stroke-width="0.3"/>
<circle cx="131.98" cy="149.62" r="1.95" fill="#5b7dc0" stroke="#4f70b0" stroke-width="0.3"/>
<circle cx="137.89" cy="167.48" r="1.95" fill="#5b7dc0" stroke="#4f70b0" stroke-width="0.3"/>
<circle cx="149.65" cy="161.80" r="1.95" fill="#5b7dc0" stroke="#4f70b0" stroke-width="0.3"/>
<circle cx="151.84" cy="154.27" r="1.95" fill="#5b7dc0" stroke="#4f70b0" stroke-width="0.3"/>
<circle cx="135.12" cy="154.96" r="1.95" fill="#5b7dc0" stroke="#4f70b0" stroke-width="0.3"/>
<circle cx="150.60" cy="151.36" r="1.95" fill="#5b7dc0" stroke="#4f70b0" stroke-width="0.3"/>
<circle cx="133.99" cy="151.94" r="1.95" fill="#5b7dc0" stroke="#4f70b0" stroke-width="0.3"/>
<circle cx="136.25" cy="175.74" r="1.95" fill="#5b7dc0" stroke="#4f70b0" stroke-width="0.3"/>
<circle cx="149.05" cy="184.79" r="1.95" fill="#5b7dc0" stroke="#4f70b0" stroke-width="0.3"/>
<circle cx="136.40" cy="166.70" r="1.95" fill="#5b7dc0" stroke="#4f70b0" stroke-width="0.3"/>
<circle cx="148.86" cy="177.94" r="1.95" fill="#5b7dc0" stroke="#4f70b0" stroke-width="0.3"/>
<circle cx="137.85" cy="185.06" r="1.95" fill="#5b7dc0" stroke="#4f70b0" stroke-width="0.3"/>
<circle cx="136.13" cy="130.46" r="1.95" fill="#5b7dc0" stroke="#4f70b0" stroke-width="0.3"/>
<circle cx="149.96" cy="185.32" r="1.95" fill="#5b7dc0" stroke="#4f70b0" stroke-width="0.3"/>
<circle cx="131.38" cy="157.64" r="1.95" fill="#5b7dc0" stroke="#4f70b0" stroke-width="0.3"/>
<circle cx="138.90" cy="140.82" r="1.95" fill="#5b7dc0" stroke="#4f70b0" stroke-width="0.3"/>
<circle cx="152.00" cy="154.90" r="1.95" fill="#5b7dc0" stroke="#4f70b0" stroke-width="0.3"/>
<circle cx="146.82" cy="158.06" r="1.95" fill="#5b7dc0" stroke="#4f70b0" stroke-width="0.3"/>
<circle cx="150.60" cy="175.69" r="1.95" fill="#5b7dc0" stroke="#4f70b0" stroke-width="0.3"/>
<circle cx="134.96" cy="139.84" r="1.95" fill="#5b7dc0" stroke="#4f70b0" stroke-width="0.3"/>
<circle cx="133.15" cy="180.33" r="1.95" fill="#5b7dc0" stroke="#4f70b0" stroke-width="0.3"/>
<circle cx="136.32" cy="157.15" r="1.95" fill="#5b7dc0" stroke="#4f70b0" stroke-width="0.3"/>
<circle cx="137.16" cy="149.24" r="1.95" fill="#5b7dc0" stroke="#4f70b0" stroke-width="0.3"/>
<circle cx="150.79" cy="132.89" r="1.95" fill="#5b7dc0" stroke="#4f70b0" stroke-width="0.3"/>
<circle cx="150.04" cy="142.66" r="1.95" fill="#5b7dc0" stroke="#4f70b0" stroke-width="0.3"/>
<circle cx="151.02" cy="179.32" r="1.95" fill="#5b7dc0" stroke="#4f70b0" stroke-width="0.3"/>
<circle cx="136.21" cy="141.41" r="1.95" fill="#5b7dc0" stroke="#4f70b0" stroke-width="0.3"/>
<circle cx="132.53" cy="176.13" r="1.95" fill="#5b7dc0" stroke="#4f70b0" stroke-width="0.3"/>
<circle cx="136.01" cy="178.39" r="1.95" fill="#5b7dc0" stroke="#4f70b0" stroke-width="0.3"/>
<circle cx="149.15" cy="166.67" r="1.95" fill="#5b7dc0" stroke="#4f70b0" stroke-width="0.3"/>
<circle cx="136.90" cy="172.13" r="1.95" fill="#5b7dc0" stroke="#4f70b0" stroke-width="0.3"/>
<circle cx="138.35" cy="183.82" r="1.95" fill="#5b7dc0" stroke="#4f70b0" stroke-width="0.3"/>
<circle cx="146.34" cy="173.96" r="1.95" fill="#5b7dc0" stroke="#4f70b0" stroke-width="0.3"/>
<circle cx="146.92" cy="174.74" r="1.95" fill="#5b7dc0" stroke="#4f70b0" stroke-width="0.3"/>
<circle cx="148.73" cy="151.21" r="1.95" fill="#5b7dc0" stroke="#4f70b0" stroke-width="0.3"/>
<circle cx="132.95" cy="173.80" r="1.95" fill="#5b7dc0" stroke="#4f70b0" stroke-width="0.3"/>
<circle cx="133.55" cy="180.68" r="1.95" fill="#5b7dc0" stroke="#4f70b0" stroke-width="0.3"/>
<circle cx="147.83" cy="161.88" r="1.95" fill="#5b7dc0" stroke="#4f70b0" stroke-width="0.3"/>
<circle cx="136.83" cy="160.57" r="1.95" fill="#5b7dc0" stroke="#4f70b0" stroke-width="0.3"/>
<circle cx="137.15" cy="145.30" r="1.95" fill="#5b7dc0" stroke="#4f70b0" stroke-width="0.3"/>
<circle cx="152.05" cy="165.58" r="1.95" fill="#5b7dc0" stroke="#4f70b0" stroke-width="0.3"/>
<circle cx="146.56" cy="181.89" r="1.95" fill="#5b7dc0" stroke="#4f70b0" stroke-width="0.3"/>
<circle cx="137.78" cy="154.29" r="1.95" fill="#5b7dc0" stroke="#4f70b0" stroke-width="0.3"/>
<circle cx="146.80" cy="148.87" r="1.95" fill="#5b7dc0" stroke="#4f70b0" stroke-width="0.3"/>
<circle cx="140.85" cy="182.10" r="1.95" fill="#5b7dc0" stroke="#4f70b0" stroke-width="0.3"/>
<circle cx="151.20" cy="176.45" r="1.95" fill="#5b7dc0" stroke="#4f70b0" stroke-width="0.3"/>
<circle cx="136.79" cy="180.65" r="1.95" fill="#5b7dc0" stroke="#4f70b0" stroke-width="0.3"/>
<circle cx="136.24" cy="179.97" r="1.95" fill="#5b7dc0" stroke="#4f70b0" stroke-width="0.3"/>
<circle cx="153.87" cy="151.52" r="1.95" fill="#5b7dc0" stroke="#4f70b0" stroke-width="0.3"/>
<circle cx="149.49" cy="178.61" r="1.95" fill="#5b7dc0" stroke="#4f70b0" stroke-width="0.3"/>
<circle cx="148.73" cy="184.91" r="1.95" fill="#5b7dc0" stroke="#4f70b0" stroke-width="0.3"/>
<circle cx="153.54" cy="145.78" r="1.95" fill="#5b7dc0" stroke="#4f70b0" stroke-width="0.3"/>
<circle cx="135.15" cy="124.39" r="1.95" fill="#5b7dc0" stroke="#4f70b0" stroke-width="0.3"/>
<circle cx="152.72" cy="147.83" r="1.95" fill="#5b7dc0" stroke="#4f70b0" stroke-width="0.3"/>
<circle cx="152.10" cy="164.31" r="1.95" fill="#5b7dc0" stroke="#4f70b0" stroke-width="0.3"/>
<circle cx="138.97" cy="161.31" r="1.95" fill="#5b7dc0" stroke="#4f70b0" stroke-width="0.3"/>
<circle cx="148.11" cy="182.01" r="1.95" fill="#5b7dc0" stroke="#4f70b0" stroke-width="0.3"/>
<circle cx="148.87" cy="136.01" r="1.95" fill="#5b7dc0" stroke="#4f70b0" stroke-width="0.3"/>
<circle cx="138.96" cy="147.51" r="1.95" fill="#5b7dc0" stroke="#4f70b0" stroke-width="0.3"/>
<circle cx="137.25" cy="181.60" r="1.95" fill="#5b7dc0" stroke="#4f70b0" stroke-width="0.3"/>
<circle cx="134.98" cy="161.69" r="1.95" fill="#5b7dc0" stroke="#4f70b0" stroke-width="0.3"/>
<circle cx="146.45" cy="181.38" r="1.95" fill="#5b7dc0" stroke="#4f70b0" stroke-width="0.3"/>
<circle cx="131.94" cy="162.32" r="1.95" fill="#5b7dc0" stroke="#4f70b0" stroke-width="0.3"/>
<circle cx="138.90" cy="141.50" r="1.95" fill="#5b7dc0" stroke="#4f70b0" stroke-width="0.3"/>
<circle cx="146.53" cy="180.89" r="1.95" fill="#5b7dc0" stroke="#4f70b0" stroke-width="0.3"/>
<circle cx="138.60" cy="166.97" r="1.95" fill="#5b7dc0" stroke="#4f70b0" stroke-width="0.3"/>
<circle cx="135.35" cy="140.38" r="1.95" fill="#5b7dc0" stroke="#4f70b0" stroke-width="0.3"/>
<circle cx="137.51" cy="177.18" r="1.95" fill="#5b7dc0" stroke="#4f70b0" stroke-width="0.3"/>
<circle cx="152.13" cy="139.84" r="1.95" fill="#5b7dc0" stroke="#4f70b0" stroke-width="0.3"/>
<circle cx="149.85" cy="179.75" r="1.95" fill="#5b7dc0" stroke="#4f70b0" stroke-width="0.3"/>
<circle cx="149.24" cy="158.44" r="1.95" fill="#5b7dc0" stroke="#4f70b0" stroke-width="0.3"/>
<circle cx="139.27" cy="150.72" r="1.95" fill="#5b7dc0" stroke="#4f70b0" stroke-width="0.3"/>
<circle cx="132.00" cy="178.68" r="1.95" fill="#5b7dc0" stroke="#4f70b0" stroke-width="0.3"/>
<circle cx="135.97" cy="141.79" r="1.95" fill="#5b7dc0" stroke="#4f70b0" stroke-width="0.3"/>
<circle cx="137.91" cy="180.76" r="1.95" fill="#5b7dc0" stroke="#4f70b0" stroke-width="0.3"/>
<circle cx="132.90" cy="172.17" r="1.95" fill="#5b7dc0" stroke="#4f70b0" stroke-width="0.3"/>
<circle cx="134.98" cy="170.00" r="1.95" fill="#5b7dc0" stroke="#4f70b0" stroke-width="0.3"/>
<circle cx="148.76" cy="168.88" r="1.95" fill="#5b7dc0" stroke="#4f70b0" stroke-width="0.3"/>
<circle cx="148.49" cy="170.53" r="1.95" fill="#5b7dc0" stroke="#4f70b0" stroke-width="0.3"/>
<circle cx="137.13" cy="155.22" r="1.95" fill="#5b7dc0" stroke="#4f70b0" stroke-width="0.3"/>
<circle cx="136.30" cy="128.75" r="1.95" fill="#5b7dc0" stroke="#4f70b0" stroke-width="0.3"/>
<circle cx="146.22" cy="179.60" r="1.95" fill="#5b7dc0" stroke="#4f70b0" stroke-width="0.3"/>
<circle cx="152.20" cy="142.37" r="1.95" fill="#5b7dc0" stroke="#4f70b0" stroke-width="0.3"/>
<circle cx="153.00" cy="150.80" r="1.95" fill="#5b7dc0" stroke="#4f70b0" stroke-width="0.3"/>
<circle cx="132.68" cy="177.05" r="1.95" fill="#5b7dc0" stroke="#4f70b0" stroke-width="0.3"/>
<circle cx="154.28" cy="184.18" r="1.95" fill="#5b7dc0" stroke="#4f70b0" stroke-width="0.3"/>
<circle cx="149.59" cy="147.29" r="1.95" fill="#5b7dc0" stroke="#4f70b0" stroke-width="0.3"/>
<circle cx="151.45" cy="174.96" r="1.95" fill="#5b7dc0" stroke="#4f70b0" stroke-width="0.3"/>
<circle cx="147.92" cy="163.58" r="1.95" fill="#5b7dc0" stroke="#4f70b0" stroke-width="0.3"/>
<circle cx="150.18" cy="172.43" r="1.95" fill="#5b7dc0" stroke="#4f70b0" stroke-width="0.3"/>
<circle cx="151.15" cy="163.87" r="1.95" fill="#5b7dc0" stroke="#4f70b0" stroke-width="0.3"/>
<circle cx="148.59" cy="145.06" r="1.95" fill="#5b7dc0" stroke="#4f70b0" stroke-width="0.3"/>
<circle cx="131.72" cy="149.55" r="1.95" fill="#5b7dc0" stroke="#4f70b0" stroke-width="0.3"/>
<circle cx="149.99" cy="177.55" r="1.95" fill="#5b7dc0" stroke="#4f70b0" stroke-width="0.3"/>
<circle cx="133.47" cy="164.32" r="1.95" fill="#5b7dc0" stroke="#4f70b0" stroke-width="0.3"/>
<circle cx="152.44" cy="140.37" r="1.95" fill="#5b7dc0" stroke="#4f70b0" stroke-width="0.3"/>
<circle cx="151.83" cy="146.02" r="1.95" fill="#5b7dc0" stroke="#4f70b0" stroke-width="0.3"/>
<circle cx="152.04" cy="162.85" r="1.95" fill="#5b7dc0" stroke="#4f70b0" stroke-width="0.3"/>
<circle cx="134.79" cy="139.98" r="1.95" fill="#5b7dc0" stroke="#4f70b0" stroke-width="0.3"/>
<circle cx="136.97" cy="168.16" r="1.95" fill="#5b7dc0" stroke="#4f70b0" stroke-width="0.3"/>
<circle cx="133.36" cy="179.16" r="1.95" fill="#5b7dc0" stroke="#4f70b0" stroke-width="0.3"/>
<circle cx="132.04" cy="158.26" r="1.95" fill="#5b7dc0" stroke="#4f70b0" stroke-width="0.3"/>
<circle cx="151.54" cy="167.60" r="1.95" fill="#5b7dc0" stroke="#4f70b0" stroke-width="0.3"/>
<circle cx="146.06" cy="166.60" r="1.95" fill="#5b7dc0" stroke="#4f70b0" stroke-width="0.3"/>
<circle cx="153.68" cy="140.85" r="1.95" fill="#5b7dc0" stroke="#4f70b0" stroke-width="0.3"/>
<circle cx="149.60" cy="164.36" r="1.95" fill="#5b7dc0" stroke="#4f70b0" stroke-width="0.3"/>
<circle cx="137.32" cy="160.38" r="1.95" fill="#5b7dc0" stroke="#4f70b0" stroke-width="0.3"/>
<circle cx="132.59" cy="141.47" r="1.95" fill="#5b7dc0" stroke="#4f70b0" stroke-width="0.3"/>
<circle cx="146.39" cy="183.73" r="1.95" fill="#5b7dc0" stroke="#4f70b0" stroke-width="0.3"/>
<circle cx="154.21" cy="161.55" r="1.95" fill="#5b7dc0" stroke="#4f70b0" stroke-width="0.3"/>
<circle cx="153.25" cy="144.15" r="1.95" fill="#5b7dc0" stroke="#4f70b0" stroke-width="0.3"/>
<circle cx="133.22" cy="157.14" r="1.95" fill="#5b7dc0" stroke="#4f70b0" stroke-width="0.3"/>
<circle cx="139.45" cy="160.00" r="1.95" fill="#5b7dc0" stroke="#4f70b0" stroke-width="0.3"/>
<circle cx="149.40" cy="176.14" r="1.95" fill="#5b7dc0" stroke="#4f70b0" stroke-width="0.3"/>
<circle cx="132.95" cy="178.95" r="1.95" fill="#5b7dc0" stroke="#4f70b0" stroke-width="0.3"/>
<circle cx="137.70" cy="170.58" r="1.95" fill="#5b7dc0" stroke="#4f70b0" stroke-width="0.3"/>
<circle cx="138.99" cy="167.41" r="1.95" fill="#5b7dc0" stroke="#4f70b0" stroke-width="0.3"/>
<circle cx="139.80" cy="182.82" r="1.95" fill="#5b7dc0" stroke="#4f70b0" stroke-width="0.3"/>
<circle cx="137.18" cy="151.03" r="1.95" fill="#5b7dc0" stroke="#4f70b0" stroke-width="0.3"/>
<circle cx="148.44" cy="181.04" r="1.95" fill="#5b7dc0" stroke="#4f70b0" stroke-width="0.3"/>
<circle cx="137.47" cy="138.33" r="1.95" fill="#5b7dc0" stroke="#4f70b0" stroke-width="0.3"/>
<circle cx="138.31" cy="155.33" r="1.95" fill="#5b7dc0" stroke="#4f70b0" stroke-width="0.3"/>
<circle cx="151.00" cy="138.00" r="1.95" fill="#5b7dc0" stroke="#4f70b0" stroke-width="0.3"/>
<circle cx="154.00" cy="109.00" r="1.95" fill="#5b7dc0" stroke="#4f70b0" stroke-width="0.3"/>
<circle cx="148.66" cy="150.75" r="1.95" fill="#5b7dc0" stroke="#4f70b0" stroke-width="0.3"/>
<circle cx="153.20" cy="148.50" r="1.95" fill="#5b7dc0" stroke="#4f70b0" stroke-width="0.3"/>
<circle cx="135.11" cy="167.97" r="1.95" fill="#5b7dc0" stroke="#4f70b0" stroke-width="0.3"/>
<circle cx="152.79" cy="172.93" r="1.95" fill="#5b7dc0" stroke="#4f70b0" stroke-width="0.3"/>
<circle cx="134.61" cy="126.81" r="1.95" fill="#5b7dc0" stroke="#4f70b0" stroke-width="0.3"/>
<circle cx="135.82" cy="154.46" r="1.95" fill="#5b7dc0" stroke="#4f70b0" stroke-width="0.3"/>
<circle cx="147.95" cy="156.37" r="1.95" fill="#5b7dc0" stroke="#4f70b0" stroke-width="0.3"/>
<circle cx="131.56" cy="184.49" r="1.95" fill="#5b7dc0" stroke="#4f70b0" stroke-width="0.3"/>
<circle cx="135.05" cy="147.71" r="1.95" fill="#5b7dc0" stroke="#4f70b0" stroke-width="0.3"/>
<circle cx="137.73" cy="142.87" r="1.95" fill="#5b7dc0" stroke="#4f70b0" stroke-width="0.3"/>
<circle cx="137.97" cy="169.99" r="1.95" fill="#5b7dc0" stroke="#4f70b0" stroke-width="0.3"/>
<circle cx="138.65" cy="150.11" r="1.95" fill="#5b7dc0" stroke="#4f70b0" stroke-width="0.3"/>
<circle cx="150.32" cy="133.34" r="1.95" fill="#5b7dc0" stroke="#4f70b0" stroke-width="0.3"/>
<circle cx="153.32" cy="177.31" r="1.95" fill="#5b7dc0" stroke="#4f70b0" stroke-width="0.3"/>
<circle cx="138.73" cy="177.98" r="1.95" fill="#5b7dc0" stroke="#4f70b0" stroke-width="0.3"/>
<circle cx="136.35" cy="139.11" r="1.95" fill="#5b7dc0" stroke="#4f70b0" stroke-width="0.3"/>
<circle cx="135.39" cy="174.28" r="1.95" fill="#5b7dc0" stroke="#4f70b0" stroke-width="0.3"/>
<circle cx="134.61" cy="138.62" r="1.95" fill="#5b7dc0" stroke="#4f70b0" stroke-width="0.3"/>
<circle cx="149.26" cy="162.95" r="1.95" fill="#5b7dc0" stroke="#4f70b0" stroke-width="0.3"/>
<circle cx="149.34" cy="167.85" r="1.95" fill="#5b7dc0" stroke="#4f70b0" stroke-width="0.3"/>
<circle cx="148.71" cy="135.49" r="1.95" fill="#5b7dc0" stroke="#4f70b0" stroke-width="0.3"/>
<circle cx="152.46" cy="172.83" r="1.95" fill="#5b7dc0" stroke="#4f70b0" stroke-width="0.3"/>
<circle cx="138.36" cy="146.66" r="1.95" fill="#5b7dc0" stroke="#4f70b0" stroke-width="0.3"/>
<circle cx="137.13" cy="140.02" r="1.95" fill="#5b7dc0" stroke="#4f70b0" stroke-width="0.3"/>
<circle cx="136.23" cy="156.06" r="1.95" fill="#5b7dc0" stroke="#4f70b0" stroke-width="0.3"/>
<circle cx="154.15" cy="155.96" r="1.95" fill="#5b7dc0" stroke="#4f70b0" stroke-width="0.3"/>
<circle cx="150.21" cy="146.80" r="1.95" fill="#5b7dc0" stroke="#4f70b0" stroke-width="0.3"/>
<circle cx="139.08" cy="166.00" r="1.95" fill="#5b7dc0" stroke="#4f70b0" stroke-width="0.3"/>
<circle cx="153.75" cy="143.68" r="1.95" fill="#5b7dc0" stroke="#4f70b0" stroke-width="0.3"/>
<circle cx="136.21" cy="151.92" r="1.95" fill="#5b7dc0" stroke="#4f70b0" stroke-width="0.3"/>
<circle cx="138.85" cy="168.10" r="1.95" fill="#5b7dc0" stroke="#4f70b0" stroke-width="0.3"/>
<circle cx="137.76" cy="140.10" r="1.95" fill="#5b7dc0" stroke="#4f70b0" stroke-width="0.3"/>
<circle cx="137.42" cy="149.31" r="1.95" fill="#5b7dc0" stroke="#4f70b0" stroke-width="0.3"/>
<circle cx="152.65" cy="180.34" r="1.95" fill="#5b7dc0" stroke="#4f70b0" stroke-width="0.3"/>
<circle cx="152.54" cy="138.48" r="1.95" fill="#5b7dc0" stroke="#4f70b0" stroke-width="0.3"/>
<circle cx="137.58" cy="177.37" r="1.95" fill="#5b7dc0" stroke="#4f70b0" stroke-width="0.3"/>
<circle cx="133.46" cy="169.71" r="1.95" fill="#5b7dc0" stroke="#4f70b0" stroke-width="0.3"/>
<circle cx="149.37" cy="173.00" r="1.95" fill="#5b7dc0" stroke="#4f70b0" stroke-width="0.3"/>
<circle cx="152.71" cy="134.26" r="1.95" fill="#5b7dc0" stroke="#4f70b0" stroke-width="0.3"/>
<circle cx="152.65" cy="157.67" r="1.95" fill="#5b7dc0" stroke="#4f70b0" stroke-width="0.3"/>
<circle cx="154.23" cy="141.04" r="1.95" fill="#5b7dc0" stroke="#4f70b0" stroke-width="0.3"/>
<circle cx="151.81" cy="156.37" r="1.95" fill="#5b7dc0" stroke="#4f70b0" stroke-width="0.3"/>
<circle cx="136.10" cy="139.14" r="1.95" fill="#5b7dc0" stroke="#4f70b0" stroke-width="0.3"/>
<circle cx="138.45" cy="152.89" r="1.95" fill="#5b7dc0" stroke="#4f70b0" stroke-width="0.3"/>
<circle cx="148.24" cy="183.97" r="1.95" fill="#5b7dc0" stroke="#4f70b0" stroke-width="0.3"/>
<circle cx="147.34" cy="149.17" r="1.95" fill="#5b7dc0" stroke="#4f70b0" stroke-width="0.3"/>
<circle cx="148.01" cy="139.67" r="1.95" fill="#5b7dc0" stroke="#4f70b0" stroke-width="0.3"/>
<circle cx="135.83" cy="135.74" r="1.95" fill="#5b7dc0" stroke="#4f70b0" stroke-width="0.3"/>
<circle cx="137.22" cy="161.11" r="1.95" fill="#5b7dc0" stroke="#4f70b0" stroke-width="0.3"/>
<circle cx="138.27" cy="147.33" r="1.95" fill="#5b7dc0" stroke="#4f70b0" stroke-width="0.3"/>
<circle cx="134.84" cy="129.25" r="1.95" fill="#5b7dc0" stroke="#4f70b0" stroke-width="0.3"/>
<circle cx="147.17" cy="171.85" r="1.95" fill="#5b7dc0" stroke="#4f70b0" stroke-width="0.3"/>
<circle cx="134.42" cy="183.96" r="1.95" fill="#5b7dc0" stroke="#4f70b0" stroke-width="0.3"/>
<circle cx="152.06" cy="176.85" r="1.95" fill="#5b7dc0" stroke="#4f70b0" stroke-width="0.3"/>
<circle cx="134.92" cy="142.60" r="1.95" fill="#5b7dc0" stroke="#4f70b0" stroke-width="0.3"/>
<circle cx="133.51" cy="147.72" r="1.95" fill="#5b7dc0" stroke="#4f70b0" stroke-width="0.3"/>
<circle cx="132.90" cy="167.11" r="1.95" fill="#5b7dc0" stroke="#4f70b0" stroke-width="0.3"/>
<circle cx="150.98" cy="171.37" r="1.95" fill="#5b7dc0" stroke="#4f70b0" stroke-width="0.3"/>
<circle cx="150.10" cy="172.88" r="1.95" fill="#5b7dc0" stroke="#4f70b0" stroke-width="0.3"/>
<circle cx="133.27" cy="155.29" r="1.95" fill="#5b7dc0" stroke="#4f70b0" stroke-width="0.3"/>
<circle cx="134.00" cy="131.00" r="1.95" fill="#5b7dc0" stroke="#4f70b0" stroke-width="0.3"/>
<circle cx="138.52" cy="175.43" r="1.95" fill="#5b7dc0" stroke="#4f70b0" stroke-width="0.3"/>
<circle cx="137.30" cy="182.84" r="1.95" fill="#5b7dc0" stroke="#4f70b0" stroke-width="0.3"/>
<circle cx="138.67" cy="146.88" r="1.95" fill="#5b7dc0" stroke="#4f70b0" stroke-width="0.3"/>
<circle cx="136.78" cy="141.29" r="1.95" fill="#5b7dc0" stroke="#4f70b0" stroke-width="0.3"/>
<circle cx="153.70" cy="178.55" r="1.95" fill="#5b7dc0" stroke="#4f70b0" stroke-width="0.3"/>
<circle cx="150.86" cy="179.91" r="1.95" fill="#5b7dc0" stroke="#4f70b0" stroke-width="0.3"/>
<circle cx="149.45" cy="166.46" r="1.95" fill="#5b7dc0" stroke="#4f70b0" stroke-width="0.3"/>
<circle cx="134.83" cy="158.03" r="1.95" fill="#5b7dc0" stroke="#4f70b0" stroke-width="0.3"/>
<circle cx="133.49" cy="152.42" r="1.95" fill="#5b7dc0" stroke="#4f70b0" stroke-width="0.3"/>
<circle cx="133.41" cy="184.43" r="1.95" fill="#5b7dc0" stroke="#4f70b0" stroke-width="0.3"/>
<circle cx="146.28" cy="157.29" r="1.95" fill="#5b7dc0" stroke="#4f70b0" stroke-width="0.3"/>
<circle cx="150.49" cy="155.18" r="1.95" fill="#5b7dc0" stroke="#4f70b0" stroke-width="0.3"/>
<circle cx="133.82" cy="169.02" r="1.95" fill="#5b7dc0" stroke="#4f70b0" stroke-width="0.3"/>
<circle cx="135.47" cy="132.41" r="1.95" fill="#5b7dc0" stroke="#4f70b0" stroke-width="0.3"/>
<circle cx="136.81" cy="131.16" r="1.95" fill="#5b7dc0" stroke="#4f70b0" stroke-width="0.3"/>
<circle cx="136.85" cy="154.84" r="1.95" fill="#5b7dc0" stroke="#4f70b0" stroke-width="0.3"/>
<circle cx="133.84" cy="155.16" r="1.95" fill="#5b7dc0" stroke="#4f70b0" stroke-width="0.3"/>
<circle cx="149.96" cy="179.42" r="1.95" fill="#5b7dc0" stroke="#4f70b0" stroke-width="0.3"/>
<circle cx="138.55" cy="146.33" r="1.95" fill="#5b7dc0" stroke="#4f70b0" stroke-width="0.3"/>
<circle cx="132.51" cy="138.27" r="1.95" fill="#5b7dc0" stroke="#4f70b0" stroke-width="0.3"/>
<circle cx="132.82" cy="139.74" r="1.95" fill="#5b7dc0" stroke="#4f70b0" stroke-width="0.3"/>
<circle cx="136.03" cy="168.32" r="1.95" fill="#5b7dc0" stroke="#4f70b0" stroke-width="0.3"/>
<circle cx="153.72" cy="170.22" r="1.95" fill="#5b7dc0" stroke="#4f70b0" stroke-width="0.3"/>
<circle cx="150.22" cy="156.00" r="1.95" fill="#5b7dc0" stroke="#4f70b0" stroke-width="0.3"/>
<circle cx="152.83" cy="145.32" r="1.95" fill="#5b7dc0" stroke="#4f70b0" stroke-width="0.3"/>
<circle cx="140.08" cy="182.94" r="1.95" fill="#5b7dc0" stroke="#4f70b0" stroke-width="0.3"/>
<circle cx="152.79" cy="176.74" r="1.95" fill="#5b7dc0" stroke="#4f70b0" stroke-width="0.3"/>
<circle cx="153.58" cy="156.85" r="1.95" fill="#5b7dc0" stroke="#4f70b0" stroke-width="0.3"/>
<circle cx="135.20" cy="122.70" r="1.95" fill="#5b7dc0" stroke="#4f70b0" stroke-width="0.3"/>
<circle cx="133.51" cy="150.39" r="1.95" fill="#5b7dc0" stroke="#4f70b0" stroke-width="0.3"/>
<circle cx="147.91" cy="148.45" r="1.95" fill="#5b7dc0" stroke="#4f70b0" stroke-width="0.3"/>
<circle cx="131.96" cy="182.17" r="1.95" fill="#5b7dc0" stroke="#4f70b0" stroke-width="0.3"/>
<circle cx="150.23" cy="169.45" r="1.95" fill="#5b7dc0" stroke="#4f70b0" stroke-width="0.3"/>
<circle cx="146.92" cy="149.18" r="1.95" fill="#5b7dc0" stroke="#4f70b0" stroke-width="0.3"/>
<circle cx="149.95" cy="145.73" r="1.95" fill="#5b7dc0" stroke="#4f70b0" stroke-width="0.3"/>
<circle cx="152.75" cy="142.77" r="1.95" fill="#5b7dc0" stroke="#4f70b0" stroke-width="0.3"/>
<circle cx="154.31" cy="172.60" r="1.95" fill="#5b7dc0" stroke="#4f70b0" stroke-width="0.3"/>
<circle cx="150.77" cy="150.18" r="1.95" fill="#5b7dc0" stroke="#4f70b0" stroke-width="0.3"/>
<circle cx="154.45" cy="171.96" r="1.95" fill="#5b7dc0" stroke="#4f70b0" stroke-width="0.3"/>
<circle cx="153.39" cy="149.47" r="1.95" fill="#5b7dc0" stroke="#4f70b0" stroke-width="0.3"/>
<circle cx="139.21" cy="169.73" r="1.95" fill="#5b7dc0" stroke="#4f70b0" stroke-width="0.3"/>
<circle cx="150.60" cy="133.18" r="1.95" fill="#5b7dc0" stroke="#4f70b0" stroke-width="0.3"/>
<circle cx="147.87" cy="144.11" r="1.95" fill="#5b7dc0" stroke="#4f70b0" stroke-width="0.3"/>
<circle cx="153.23" cy="141.95" r="1.95" fill="#5b7dc0" stroke="#4f70b0" stroke-width="0.3"/>
<circle cx="147.10" cy="152.93" r="1.95" fill="#5b7dc0" stroke="#4f70b0" stroke-width="0.3"/>
<circle cx="136.12" cy="152.50" r="1.95" fill="#5b7dc0" stroke="#4f70b0" stroke-width="0.3"/>
<circle cx="151.07" cy="173.67" r="1.95" fill="#5b7dc0" stroke="#4f70b0" stroke-width="0.3"/>
<circle cx="153.10" cy="184.83" r="1.95" fill="#5b7dc0" stroke="#4f70b0" stroke-width="0.3"/>
<circle cx="138.55" cy="157.76" r="1.95" fill="#5b7dc0" stroke="#4f70b0" stroke-width="0.3"/>
<circle cx="153.69" cy="152.60" r="1.95" fill="#5b7dc0" stroke="#4f70b0" stroke-width="0.3"/>
<circle cx="139.51" cy="164.43" r="1.95" fill="#5b7dc0" stroke="#4f70b0" stroke-width="0.3"/>
<circle cx="153.83" cy="149.75" r="1.95" fill="#5b7dc0" stroke="#4f70b0" stroke-width="0.3"/>
<circle cx="138.69" cy="162.64" r="1.95" fill="#5b7dc0" stroke="#4f70b0" stroke-width="0.3"/>
<circle cx="133.21" cy="157.26" r="1.95" fill="#5b7dc0" stroke="#4f70b0" stroke-width="0.3"/>
<circle cx="146.52" cy="184.63" r="1.95" fill="#5b7dc0" stroke="#4f70b0" stroke-width="0.3"/>
<circle cx="137.49" cy="139.87" r="1.95" fill="#5b7dc0" stroke="#4f70b0" stroke-width="0.3"/>
<circle cx="138.10" cy="147.05" r="1.95" fill="#5b7dc0" stroke="#4f70b0" stroke-width="0.3"/>
<circle cx="134.19" cy="164.51" r="1.95" fill="#5b7dc0" stroke="#4f70b0" stroke-width="0.3"/>
<circle cx="134.19" cy="183.16" r="1.95" fill="#5b7dc0" stroke="#4f70b0" stroke-width="0.3"/>
<circle cx="135.18" cy="161.94" r="1.95" fill="#5b7dc0" stroke="#4f70b0" stroke-width="0.3"/>
<circle cx="151.93" cy="148.20" r="1.95" fill="#5b7dc0" stroke="#4f70b0" stroke-width="0.3"/>
<circle cx="136.17" cy="167.52" r="1.95" fill="#5b7dc0" stroke="#4f70b0" stroke-width="0.3"/>
<circle cx="133.24" cy="159.32" r="1.95" fill="#5b7dc0" stroke="#4f70b0" stroke-width="0.3"/>
<circle cx="132.79" cy="177.87" r="1.95" fill="#5b7dc0" stroke="#4f70b0" stroke-width="0.3"/>
<circle cx="147.28" cy="167.36" r="1.95" fill="#5b7dc0" stroke="#4f70b0" stroke-width="0.3"/>
<circle cx="136.72" cy="150.61" r="1.95" fill="#5b7dc0" stroke="#4f70b0" stroke-width="0.3"/>
<circle cx="137.28" cy="147.98" r="1.95" fill="#5b7dc0" stroke="#4f70b0" stroke-width="0.3"/>
<circle cx="146.66" cy="150.34" r="1.95" fill="#5b7dc0" stroke="#4f70b0" stroke-width="0.3"/>
<circle cx="134.61" cy="128.98" r="1.95" fill="#5b7dc0" stroke="#4f70b0" stroke-width="0.3"/>
<circle cx="135.52" cy="172.95" r="1.95" fill="#5b7dc0" stroke="#4f70b0" stroke-width="0.3"/>
<circle cx="134.61" cy="138.86" r="1.95" fill="#5b7dc0" stroke="#4f70b0" stroke-width="0.3"/>
<circle cx="148.82" cy="152.19" r="1.95" fill="#5b7dc0" stroke="#4f70b0" stroke-width="0.3"/>
<circle cx="138.44" cy="178.19" r="1.95" fill="#5b7dc0" stroke="#4f70b0" stroke-width="0.3"/>
<circle cx="136.15" cy="174.54" r="1.95" fill="#5b7dc0" stroke="#4f70b0" stroke-width="0.3"/>
<circle cx="136.96" cy="136.71" r="1.95" fill="#5b7dc0" stroke="#4f70b0" stroke-width="0.3"/>
<circle cx="151.47" cy="141.71" r="1.95" fill="#5b7dc0" stroke="#4f70b0" stroke-width="0.3"/>
<circle cx="154.02" cy="182.28" r="1.95" fill="#5b7dc0" stroke="#4f70b0" stroke-width="0.3"/>
<circle cx="134.87" cy="161.18" r="1.95" fill="#5b7dc0" stroke="#4f70b0" stroke-width="0.3"/>
<circle cx="150.93" cy="150.22" r="1.95" fill="#5b7dc0" stroke="#4f70b0" stroke-width="0.3"/>
<circle cx="152.83" cy="179.64" r="1.95" fill="#5b7dc0" stroke="#4f70b0" stroke-width="0.3"/>
<circle cx="132.35" cy="177.12" r="1.95" fill="#5b7dc0" stroke="#4f70b0" stroke-width="0.3"/>
<circle cx="144.86" cy="182.11" r="1.95" fill="#5b7dc0" stroke="#4f70b0" stroke-width="0.3"/>
<circle cx="137.03" cy="135.95" r="1.95" fill="#5b7dc0" stroke="#4f70b0" stroke-width="0.3"/>
<circle cx="135.14" cy="181.55" r="1.95" fill="#5b7dc0" stroke="#4f70b0" stroke-width="0.3"/>
<circle cx="137.12" cy="164.24" r="1.95" fill="#5b7dc0" stroke="#4f70b0" stroke-width="0.3"/>
<circle cx="134.95" cy="124.27" r="1.95" fill="#5b7dc0" stroke="#4f70b0" stroke-width="0.3"/>
<circle cx="146.18" cy="168.29" r="1.95" fill="#5b7dc0" stroke="#4f70b0" stroke-width="0.3"/>
<circle cx="153.52" cy="161.88" r="1.95" fill="#5b7dc0" stroke="#4f70b0" stroke-width="0.3"/>
<circle cx="146.88" cy="172.32" r="1.95" fill="#5b7dc0" stroke="#4f70b0" stroke-width="0.3"/>
<circle cx="137.14" cy="179.10" r="1.95" fill="#5b7dc0" stroke="#4f70b0" stroke-width="0.3"/>
<circle cx="134.78" cy="153.41" r="1.95" fill="#5b7dc0" stroke="#4f70b0" stroke-width="0.3"/>
<circle cx="148.08" cy="149.02" r="1.95" fill="#5b7dc0" stroke="#4f70b0" stroke-width="0.3"/>
<circle cx="152.00" cy="144.61" r="1.95" fill="#5b7dc0" stroke="#4f70b0" stroke-width="0.3"/>
<circle cx="146.75" cy="179.20" r="1.95" fill="#5b7dc0" stroke="#4f70b0" stroke-width="0.3"/>
<circle cx="146.85" cy="171.35" r="1.95" fill="#5b7dc0" stroke="#4f70b0" stroke-width="0.3"/>
<circle cx="153.85" cy="142.62" r="1.95" fill="#5b7dc0" stroke="#4f70b0" stroke-width="0.3"/>
<circle cx="135.33" cy="172.32" r="1.95" fill="#5b7dc0" stroke="#4f70b0" stroke-width="0.3"/>
<circle cx="139.49" cy="173.48" r="1.95" fill="#5b7dc0" stroke="#4f70b0" stroke-width="0.3"/>
<circle cx="137.01" cy="168.06" r="1.95" fill="#5b7dc0" stroke="#4f70b0" stroke-width="0.3"/>
<circle cx="136.89" cy="159.30" r="1.95" fill="#5b7dc0" stroke="#4f70b0" stroke-width="0.3"/>
<circle cx="134.61" cy="136.39" r="1.95" fill="#5b7dc0" stroke="#4f70b0" stroke-width="0.3"/>
<circle cx="149.66" cy="185.34" r="1.95" fill="#5b7dc0" stroke="#4f70b0" stroke-width="0.3"/>
<circle cx="138.83" cy="173.50" r="1.95" fill="#5b7dc0" stroke="#4f70b0" stroke-width="0.3"/>
<circle cx="135.41" cy="165.31" r="1.95" fill="#5b7dc0" stroke="#4f70b0" stroke-width="0.3"/>
<circle cx="132.55" cy="147.55" r="1.95" fill="#5b7dc0" stroke="#4f70b0" stroke-width="0.3"/>
<circle cx="131.63" cy="143.31" r="1.95" fill="#5b7dc0" stroke="#4f70b0" stroke-width="0.3"/>
<circle cx="133.39" cy="158.24" r="1.95" fill="#5b7dc0" stroke="#4f70b0" stroke-width="0.3"/>
<circle cx="153.31" cy="180.82" r="1.95" fill="#5b7dc0" stroke="#4f70b0" stroke-width="0.3"/>
<circle cx="136.18" cy="182.62" r="1.95" fill="#5b7dc0" stroke="#4f70b0" stroke-width="0.3"/>
<circle cx="131.45" cy="150.18" r="1.95" fill="#5b7dc0" stroke="#4f70b0" stroke-width="0.3"/>
<circle cx="133.47" cy="139.47" r="1.95" fill="#5b7dc0" stroke="#4f70b0" stroke-width="0.3"/>
<circle cx="152.11" cy="147.19" r="1.95" fill="#5b7dc0" stroke="#4f70b0" stroke-width="0.3"/>
<circle cx="148.08" cy="153.75" r="1.95" fill="#5b7dc0" stroke="#4f70b0" stroke-width="0.3"/>
<circle cx="138.40" cy="184.70" r="1.95" fill="#5b7dc0" stroke="#4f70b0" stroke-width="0.3"/>
<circle cx="135.62" cy="163.42" r="1.95" fill="#5b7dc0" stroke="#4f70b0" stroke-width="0.3"/>
<circle cx="136.24" cy="130.31" r="1.95" fill="#5b7dc0" stroke="#4f70b0" stroke-width="0.3"/>
<circle cx="152.10" cy="174.15" r="1.95" fill="#5b7dc0" stroke="#4f70b0" stroke-width="0.3"/>
<circle cx="136.19" cy="144.56" r="1.95" fill="#5b7dc0" stroke="#4f70b0" stroke-width="0.3"/>
<circle cx="137.29" cy="183.52" r="1.95" fill="#5b7dc0" stroke="#4f70b0" stroke-width="0.3"/>
<circle cx="135.16" cy="153.12" r="1.95" fill="#5b7dc0" stroke="#4f70b0" stroke-width="0.3"/>
<circle cx="136.77" cy="153.02" r="1.95" fill="#5b7dc0" stroke="#4f70b0" stroke-width="0.3"/>
<circle cx="153.55" cy="171.39" r="1.95" fill="#5b7dc0" stroke="#4f70b0" stroke-width="0.3"/>
<circle cx="150.35" cy="140.48" r="1.95" fill="#5b7dc0" stroke="#4f70b0" stroke-width="0.3"/>
<circle cx="132.07" cy="156.08" r="1.95" fill="#5b7dc0" stroke="#4f70b0" stroke-width="0.3"/>
<circle cx="138.77" cy="142.67" r="1.95" fill="#5b7dc0" stroke="#4f70b0" stroke-width="0.3"/>
<circle cx="145.22" cy="180.40" r="1.95" fill="#5b7dc0" stroke="#4f70b0" stroke-width="0.3"/>
<circle cx="151.69" cy="135.60" r="1.95" fill="#5b7dc0" stroke="#4f70b0" stroke-width="0.3"/>
<circle cx="139.02" cy="148.80" r="1.95" fill="#5b7dc0" stroke="#4f70b0" stroke-width="0.3"/>
<circle cx="134.86" cy="130.86" r="1.95" fill="#5b7dc0" stroke="#4f70b0" stroke-width="0.3"/>
<circle cx="138.58" cy="148.32" r="1.95" fill="#5b7dc0" stroke="#4f70b0" stroke-width="0.3"/>
<circle cx="139.38" cy="173.70" r="1.95" fill="#5b7dc0" stroke="#4f70b0" stroke-width="0.3"/>
<circle cx="147.01" cy="157.68" r="1.95" fill="#5b7dc0" stroke="#4f70b0" stroke-width="0.3"/>
<circle cx="135.37" cy="176.82" r="1.95" fill="#5b7dc0" stroke="#4f70b0" stroke-width="0.3"/>
<circle cx="135.45" cy="174.22" r="1.95" fill="#5b7dc0" stroke="#4f70b0" stroke-width="0.3"/>
<circle cx="139.39" cy="167.68" r="1.95" fill="#5b7dc0" stroke="#4f70b0" stroke-width="0.3"/>
<circle cx="139.91" cy="161.31" r="1.95" fill="#5b7dc0" stroke="#4f70b0" stroke-width="0.3"/>
<circle cx="145.69" cy="172.14" r="1.95" fill="#5b7dc0" stroke="#4f70b0" stroke-width="0.3"/>
<circle cx="132.85" cy="180.54" r="1.95" fill="#5b7dc0" stroke="#4f70b0" stroke-width="0.3"/>
<circle cx="137.03" cy="136.20" r="1.95" fill="#5b7dc0" stroke="#4f70b0" stroke-width="0.3"/>
<circle cx="150.81" cy="177.88" r="1.95" fill="#5b7dc0" stroke="#4f70b0" stroke-width="0.3"/>
<circle cx="137.02" cy="130.48" r="1.95" fill="#5b7dc0" stroke="#4f70b0" stroke-width="0.3"/>
<circle cx="150.80" cy="140.25" r="1.95" fill="#5b7dc0" stroke="#4f70b0" stroke-width="0.3"/>
<circle cx="148.38" cy="161.67" r="1.95" fill="#5b7dc0" stroke="#4f70b0" stroke-width="0.3"/>
<circle cx="149.44" cy="153.97" r="1.95" fill="#5b7dc0" stroke="#4f70b0" stroke-width="0.3"/>
<circle cx="131.48" cy="143.66" r="1.95" fill="#5b7dc0" stroke="#4f70b0" stroke-width="0.3"/>
<circle cx="152.75" cy="137.58" r="1.95" fill="#5b7dc0" stroke="#4f70b0" stroke-width="0.3"/>
<circle cx="133.52" cy="173.85" r="1.95" fill="#5b7dc0" stroke="#4f70b0" stroke-width="0.3"/>
<circle cx="140.82" cy="182.58" r="1.95" fill="#5b7dc0" stroke="#4f70b0" stroke-width="0.3"/>
<circle cx="132.30" cy="146.59" r="1.95" fill="#5b7dc0" stroke="#4f70b0" stroke-width="0.3"/>
<circle cx="150.93" cy="169.79" r="1.95" fill="#5b7dc0" stroke="#4f70b0" stroke-width="0.3"/>
<circle cx="147.69" cy="178.17" r="1.95" fill="#5b7dc0" stroke="#4f70b0" stroke-width="0.3"/>
<circle cx="137.91" cy="171.41" r="1.95" fill="#5b7dc0" stroke="#4f70b0" stroke-width="0.3"/>
<circle cx="148.23" cy="180.18" r="1.95" fill="#5b7dc0" stroke="#4f70b0" stroke-width="0.3"/>
<circle cx="139.00" cy="144.93" r="1.95" fill="#5b7dc0" stroke="#4f70b0" stroke-width="0.3"/>
<circle cx="152.25" cy="180.67" r="1.95" fill="#5b7dc0" stroke="#4f70b0" stroke-width="0.3"/>
<circle cx="149.54" cy="173.21" r="1.95" fill="#5b7dc0" stroke="#4f70b0" stroke-width="0.3"/>
<circle cx="154.39" cy="182.50" r="1.95" fill="#5b7dc0" stroke="#4f70b0" stroke-width="0.3"/>
<circle cx="137.13" cy="141.32" r="1.95" fill="#5b7dc0" stroke="#4f70b0" stroke-width="0.3"/>
<circle cx="148.11" cy="167.03" r="1.95" fill="#5b7dc0" stroke="#4f70b0" stroke-width="0.3"/>
<circle cx="135.56" cy="181.27" r="1.95" fill="#5b7dc0" stroke="#4f70b0" stroke-width="0.3"/>
<circle cx="133.16" cy="148.77" r="1.95" fill="#5b7dc0" stroke="#4f70b0" stroke-width="0.3"/>
<circle cx="132.52" cy="142.25" r="1.95" fill="#5b7dc0" stroke="#4f70b0" stroke-width="0.3"/>
<circle cx="151.76" cy="168.20" r="1.95" fill="#5b7dc0" stroke="#4f70b0" stroke-width="0.3"/>
<circle cx="152.64" cy="133.22" r="1.95" fill="#5b7dc0" stroke="#4f70b0" stroke-width="0.3"/>
<circle cx="149.52" cy="151.78" r="1.95" fill="#5b7dc0" stroke="#4f70b0" stroke-width="0.3"/>
<circle cx="149.32" cy="171.54" r="1.95" fill="#5b7dc0" stroke="#4f70b0" stroke-width="0.3"/>
<circle cx="151.10" cy="178.21" r="1.95" fill="#5b7dc0" stroke="#4f70b0" stroke-width="0.3"/>
<circle cx="131.66" cy="156.37" r="1.95" fill="#5b7dc0" stroke="#4f70b0" stroke-width="0.3"/>
<circle cx="153.27" cy="147.34" r="1.95" fill="#5b7dc0" stroke="#4f70b0" stroke-width="0.3"/>
<circle cx="153.14" cy="167.78" r="1.95" fill="#5b7dc0" stroke="#4f70b0" stroke-width="0.3"/>
<circle cx="133.83" cy="125.80" r="1.95" fill="#5b7dc0" stroke="#4f70b0" stroke-width="0.3"/>
<circle cx="131.98" cy="171.17" r="1.95" fill="#5b7dc0" stroke="#4f70b0" stroke-width="0.3"/>
<circle cx="154.45" cy="162.75" r="1.95" fill="#5b7dc0" stroke="#4f70b0" stroke-width="0.3"/>
<circle cx="138.31" cy="165.17" r="1.95" fill="#5b7dc0" stroke="#4f70b0" stroke-width="0.3"/>
<circle cx="149.62" cy="152.51" r="1.95" fill="#5b7dc0" stroke="#4f70b0" stroke-width="0.3"/>
<circle cx="133.31" cy="145.01" r="1.95" fill="#5b7dc0" stroke="#4f70b0" stroke-width="0.3"/>
<circle cx="150.46" cy="173.21" r="1.95" fill="#5b7dc0" stroke="#4f70b0" stroke-width="0.3"/>
<circle cx="139.54" cy="152.93" r="1.95" fill="#5b7dc0" stroke="#4f70b0" stroke-width="0.3"/>
<circle cx="153.82" cy="171.15" r="1.95" fill="#5b7dc0" stroke="#4f70b0" stroke-width="0.3"/>
<circle cx="153.70" cy="140.73" r="1.95" fill="#5b7dc0" stroke="#4f70b0" stroke-width="0.3"/>
<circle cx="151.68" cy="174.06" r="1.95" fill="#5b7dc0" stroke="#4f70b0" stroke-width="0.3"/>
<circle cx="133.90" cy="146.94" r="1.95" fill="#5b7dc0" stroke="#4f70b0" stroke-width="0.3"/>
<circle cx="150.13" cy="149.40" r="1.95" fill="#5b7dc0" stroke="#4f70b0" stroke-width="0.3"/>
<circle cx="153.17" cy="179.04" r="1.95" fill="#5b7dc0" stroke="#4f70b0" stroke-width="0.3"/>
<circle cx="147.19" cy="182.53" r="1.95" fill="#5b7dc0" stroke="#4f70b0" stroke-width="0.3"/>
<circle cx="153.16" cy="172.88" r="1.95" fill="#5b7dc0" stroke="#4f70b0" stroke-width="0.3"/>
<circle cx="148.18" cy="140.71" r="1.95" fill="#5b7dc0" stroke="#4f70b0" stroke-width="0.3"/>
<circle cx="152.14" cy="165.51" r="1.95" fill="#5b7dc0" stroke="#4f70b0" stroke-width="0.3"/>
<circle cx="148.24" cy="140.46" r="1.95" fill="#5b7dc0" stroke="#4f70b0" stroke-width="0.3"/>
<circle cx="145.88" cy="171.80" r="1.95" fill="#5b7dc0" stroke="#4f70b0" stroke-width="0.3"/>
<circle cx="148.12" cy="142.89" r="1.95" fill="#5b7dc0" stroke="#4f70b0" stroke-width="0.3"/>
<circle cx="135.81" cy="174.61" r="1.95" fill="#5b7dc0" stroke="#4f70b0" stroke-width="0.3"/>
<circle cx="153.49" cy="177.39" r="1.95" fill="#5b7dc0" stroke="#4f70b0" stroke-width="0.3"/>
<circle cx="138.81" cy="168.07" r="1.95" fill="#5b7dc0" stroke="#4f70b0" stroke-width="0.3"/>
<circle cx="152.12" cy="172.01" r="1.95" fill="#5b7dc0" stroke="#4f70b0" stroke-width="0.3"/>
<circle cx="137.10" cy="162.43" r="1.95" fill="#5b7dc0" stroke="#4f70b0" stroke-width="0.3"/>
<circle cx="136.27" cy="175.28" r="1.95" fill="#5b7dc0" stroke="#4f70b0" stroke-width="0.3"/>
<circle cx="136.59" cy="154.83" r="1.95" fill="#5b7dc0" stroke="#4f70b0" stroke-width="0.3"/>
<circle cx="146.70" cy="171.63" r="1.95" fill="#5b7dc0" stroke="#4f70b0" stroke-width="0.3"/>
<circle cx="132.76" cy="175.10" r="1.95" fill="#5b7dc0" stroke="#4f70b0" stroke-width="0.3"/>
<circle cx="147.08" cy="163.04" r="1.95" fill="#5b7dc0" stroke="#4f70b0" stroke-width="0.3"/>
<circle cx="137.09" cy="149.12" r="1.95" fill="#5b7dc0" stroke="#4f70b0" stroke-width="0.3"/>
<circle cx="134.11" cy="126.18" r="1.95" fill="#5b7dc0" stroke="#4f70b0" stroke-width="0.3"/>
<circle cx="151.05" cy="136.05" r="1.95" fill="#5b7dc0" stroke="#4f70b0" stroke-width="0.3"/>
<circle cx="149.58" cy="151.57" r="1.95" fill="#5b7dc0" stroke="#4f70b0" stroke-width="0.3"/>
<circle cx="135.99" cy="164.50" r="1.95" fill="#5b7dc0" stroke="#4f70b0" stroke-width="0.3"/>
<circle cx="153.09" cy="165.77" r="1.95" fill="#5b7dc0" stroke="#4f70b0" stroke-width="0.3"/>
<circle cx="151.27" cy="167.56" r="1.95" fill="#5b7dc0" stroke="#4f70b0" stroke-width="0.3"/>
<circle cx="149.59" cy="158.81" r="1.95" fill="#5b7dc0" stroke="#4f70b0" stroke-width="0.3"/>
<circle cx="132.10" cy="143.69" r="1.95" fill="#5b7dc0" stroke="#4f70b0" stroke-width="0.3"/>
<circle cx="147.41" cy="157.03" r="1.95" fill="#5b7dc0" stroke="#4f70b0" stroke-width="0.3"/>
<circle cx="147.80" cy="165.29" r="1.95" fill="#5b7dc0" stroke="#4f70b0" stroke-width="0.3"/>
<circle cx="135.55" cy="149.27" r="1.95" fill="#5b7dc0" stroke="#4f70b0" stroke-width="0.3"/>
<circle cx="134.69" cy="147.17" r="1.95" fill="#5b7dc0" stroke="#4f70b0" stroke-width="0.3"/>
<circle cx="138.87" cy="176.39" r="1.95" fill="#5b7dc0" stroke="#4f70b0" stroke-width="0.3"/>
<circle cx="136.73" cy="169.68" r="1.95" fill="#5b7dc0" stroke="#4f70b0" stroke-width="0.3"/>
<circle cx="152.38" cy="178.35" r="1.95" fill="#5b7dc0" stroke="#4f70b0" stroke-width="0.3"/>
<circle cx="152.44" cy="134.97" r="1.95" fill="#5b7dc0" stroke="#4f70b0" stroke-width="0.3"/>
<circle cx="136.54" cy="137.83" r="1.95" fill="#5b7dc0" stroke="#4f70b0" stroke-width="0.3"/>
<circle cx="145.56" cy="181.84" r="1.95" fill="#5b7dc0" stroke="#4f70b0" stroke-width="0.3"/>
<circle cx="149.35" cy="143.47" r="1.95" fill="#5b7dc0" stroke="#4f70b0" stroke-width="0.3"/>
<circle cx="152.58" cy="163.72" r="1.95" fill="#5b7dc0" stroke="#4f70b0" stroke-width="0.3"/>
<circle cx="150.20" cy="156.40" r="1.95" fill="#5b7dc0" stroke="#4f70b0" stroke-width="0.3"/>
<circle cx="138.46" cy="168.98" r="1.95" fill="#5b7dc0" stroke="#4f70b0" stroke-width="0.3"/>
<circle cx="131.66" cy="149.90" r="1.95" fill="#5b7dc0" stroke="#4f70b0" stroke-width="0.3"/>
<circle cx="151.77" cy="132.71" r="1.95" fill="#5b7dc0" stroke="#4f70b0" stroke-width="0.3"/>
<circle cx="137.05" cy="176.12" r="1.95" fill="#5b7dc0" stroke="#4f70b0" stroke-width="0.3"/>
<circle cx="139.53" cy="181.65" r="1.95" fill="#5b7dc0" stroke="#4f70b0" stroke-width="0.3"/>
<circle cx="134.08" cy="129.09" r="1.95" fill="#5b7dc0" stroke="#4f70b0" stroke-width="0.3"/>
<circle cx="135.27" cy="158.90" r="1.95" fill="#5b7dc0" stroke="#4f70b0" stroke-width="0.3"/>
<circle cx="152.10" cy="166.83" r="1.95" fill="#5b7dc0" stroke="#4f70b0" stroke-width="0.3"/>
<circle cx="146.47" cy="164.38" r="1.95" fill="#5b7dc0" stroke="#4f70b0" stroke-width="0.3"/>
<circle cx="136.49" cy="157.02" r="1.95" fill="#5b7dc0" stroke="#4f70b0" stroke-width="0.3"/>
<circle cx="137.85" cy="159.78" r="1.95" fill="#5b7dc0" stroke="#4f70b0" stroke-width="0.3"/>
<circle cx="149.46" cy="157.36" r="1.95" fill="#5b7dc0" stroke="#4f70b0" stroke-width="0.3"/>
<circle cx="151.03" cy="151.97" r="1.95" fill="#5b7dc0" stroke="#4f70b0" stroke-width="0.3"/>
<circle cx="146.97" cy="144.30" r="1.95" fill="#5b7dc0" stroke="#4f70b0" stroke-width="0.3"/>
<circle cx="152.21" cy="134.50" r="1.95" fill="#5b7dc0" stroke="#4f70b0" stroke-width="0.3"/>
<circle cx="153.35" cy="150.24" r="1.95" fill="#5b7dc0" stroke="#4f70b0" stroke-width="0.3"/>
<circle cx="151.44" cy="160.81" r="1.95" fill="#5b7dc0" stroke="#4f70b0" stroke-width="0.3"/>
<circle cx="151.80" cy="160.78" r="1.95" fill="#5b7dc0" stroke="#4f70b0" stroke-width="0.3"/>
<circle cx="133.69" cy="138.01" r="1.95" fill="#5b7dc0" stroke="#4f70b0" stroke-width="0.3"/>
<circle cx="152.10" cy="174.78" r="1.95" fill="#5b7dc0" stroke="#4f70b0" stroke-width="0.3"/>
<circle cx="134.60" cy="156.76" r="1.95" fill="#5b7dc0" stroke="#4f70b0" stroke-width="0.3"/>
<circle cx="135.07" cy="152.08" r="1.95" fill="#5b7dc0" stroke="#4f70b0" stroke-width="0.3"/>
<circle cx="131.82" cy="169.76" r="1.95" fill="#5b7dc0" stroke="#4f70b0" stroke-width="0.3"/>
<circle cx="133.29" cy="159.54" r="1.95" fill="#5b7dc0" stroke="#4f70b0" stroke-width="0.3"/>
<circle cx="152.02" cy="177.49" r="1.95" fill="#5b7dc0" stroke="#4f70b0" stroke-width="0.3"/>
<circle cx="148.91" cy="141.56" r="1.95" fill="#5b7dc0" stroke="#4f70b0" stroke-width="0.3"/>
<circle cx="134.44" cy="134.89" r="1.95" fill="#5b7dc0" stroke="#4f70b0" stroke-width="0.3"/>
<circle cx="134.22" cy="126.29" r="1.95" fill="#5b7dc0" stroke="#4f70b0" stroke-width="0.3"/>
<circle cx="140.32" cy="183.90" r="1.95" fill="#5b7dc0" stroke="#4f70b0" stroke-width="0.3"/>
<circle cx="153.02" cy="155.01" r="1.95" fill="#5b7dc0" stroke="#4f70b0" stroke-width="0.3"/>
<circle cx="145.30" cy="173.87" r="1.95" fill="#5b7dc0" stroke="#4f70b0" stroke-width="0.3"/>
<circle cx="134.26" cy="152.48" r="1.95" fill="#5b7dc0" stroke="#4f70b0" stroke-width="0.3"/>
<circle cx="149.98" cy="164.60" r="1.95" fill="#5b7dc0" stroke="#4f70b0" stroke-width="0.3"/>
<circle cx="136.36" cy="155.61" r="1.95" fill="#5b7dc0" stroke="#4f70b0" stroke-width="0.3"/>
<circle cx="151.65" cy="143.58" r="1.95" fill="#5b7dc0" stroke="#4f70b0" stroke-width="0.3"/>
<circle cx="136.73" cy="135.31" r="1.95" fill="#5b7dc0" stroke="#4f70b0" stroke-width="0.3"/>
<circle cx="135.12" cy="175.75" r="1.95" fill="#5b7dc0" stroke="#4f70b0" stroke-width="0.3"/>
<circle cx="140.12" cy="180.49" r="1.95" fill="#5b7dc0" stroke="#4f70b0" stroke-width="0.3"/>
<circle cx="150.63" cy="185.31" r="1.95" fill="#5b7dc0" stroke="#4f70b0" stroke-width="0.3"/>
<circle cx="151.13" cy="166.11" r="1.95" fill="#5b7dc0" stroke="#4f70b0" stroke-width="0.3"/>
<circle cx="135.80" cy="175.65" r="1.95" fill="#5b7dc0" stroke="#4f70b0" stroke-width="0.3"/>
<circle cx="147.81" cy="163.05" r="1.95" fill="#5b7dc0" stroke="#4f70b0" stroke-width="0.3"/>
<circle cx="147.45" cy="152.05" r="1.95" fill="#5b7dc0" stroke="#4f70b0" stroke-width="0.3"/>
<circle cx="147.24" cy="152.16" r="1.95" fill="#5b7dc0" stroke="#4f70b0" stroke-width="0.3"/>
<circle cx="135.45" cy="137.10" r="1.95" fill="#5b7dc0" stroke="#4f70b0" stroke-width="0.3"/>
<circle cx="154.36" cy="175.17" r="1.95" fill="#5b7dc0" stroke="#4f70b0" stroke-width="0.3"/>
<circle cx="131.87" cy="176.09" r="1.95" fill="#5b7dc0" stroke="#4f70b0" stroke-width="0.3"/>
<circle cx="135.99" cy="148.85" r="1.95" fill="#5b7dc0" stroke="#4f70b0" stroke-width="0.3"/>
<circle cx="147.31" cy="148.87" r="1.95" fill="#5b7dc0" stroke="#4f70b0" stroke-width="0.3"/>
<circle cx="138.86" cy="139.15" r="1.95" fill="#5b7dc0" stroke="#4f70b0" stroke-width="0.3"/>
<circle cx="135.54" cy="167.39" r="1.95" fill="#5b7dc0" stroke="#4f70b0" stroke-width="0.3"/>
<circle cx="138.36" cy="142.26" r="1.95" fill="#5b7dc0" stroke="#4f70b0" stroke-width="0.3"/>
<circle cx="139.11" cy="157.95" r="1.95" fill="#5b7dc0" stroke="#4f70b0" stroke-width="0.3"/>
<circle cx="153.32" cy="165.63" r="1.95" fill="#5b7dc0" stroke="#4f70b0" stroke-width="0.3"/>
<circle cx="134.70" cy="138.13" r="1.95" fill="#5b7dc0" stroke="#4f70b0" stroke-width="0.3"/>
<circle cx="146.78" cy="160.89" r="1.95" fill="#5b7dc0" stroke="#4f70b0" stroke-width="0.3"/>
<circle cx="138.38" cy="154.85" r="1.95" fill="#5b7dc0" stroke="#4f70b0" stroke-width="0.3"/>
<circle cx="138.96" cy="166.53" r="1.95" fill="#5b7dc0" stroke="#4f70b0" stroke-width="0.3"/>
<circle cx="134.70" cy="165.94" r="1.95" fill="#5b7dc0" stroke="#4f70b0" stroke-width="0.3"/>
<circle cx="131.78" cy="161.81" r="1.95" fill="#5b7dc0" stroke="#4f70b0" stroke-width="0.3"/>
<circle cx="134.12" cy="166.81" r="1.95" fill="#5b7dc0" stroke="#4f70b0" stroke-width="0.3"/>
<circle cx="136.52" cy="183.40" r="1.95" fill="#5b7dc0" stroke="#4f70b0" stroke-width="0.3"/>
<circle cx="152.50" cy="158.98" r="1.95" fill="#5b7dc0" stroke="#4f70b0" stroke-width="0.3"/>
<circle cx="138.16" cy="170.68" r="1.95" fill="#5b7dc0" stroke="#4f70b0" stroke-width="0.3"/>
<circle cx="131.58" cy="168.84" r="1.95" fill="#5b7dc0" stroke="#4f70b0" stroke-width="0.3"/>
<circle cx="132.42" cy="165.29" r="1.95" fill="#5b7dc0" stroke="#4f70b0" stroke-width="0.3"/>
<circle cx="133.26" cy="136.95" r="1.95" fill="#5b7dc0" stroke="#4f70b0" stroke-width="0.3"/>
<circle cx="133.08" cy="133.50" r="1.95" fill="#5b7dc0" stroke="#4f70b0" stroke-width="0.3"/>
<circle cx="154.43" cy="157.45" r="1.95" fill="#5b7dc0" stroke="#4f70b0" stroke-width="0.3"/>
<circle cx="135.18" cy="159.28" r="1.95" fill="#5b7dc0" stroke="#4f70b0" stroke-width="0.3"/>
<circle cx="147.90" cy="145.45" r="1.95" fill="#5b7dc0" stroke="#4f70b0" stroke-width="0.3"/>
<circle cx="138.75" cy="138.73" r="1.95" fill="#5b7dc0" stroke="#4f70b0" stroke-width="0.3"/>
<circle cx="149.25" cy="159.01" r="1.95" fill="#5b7dc0" stroke="#4f70b0" stroke-width="0.3"/>
<circle cx="134.26" cy="174.94" r="1.95" fill="#5b7dc0" stroke="#4f70b0" stroke-width="0.3"/>
<circle cx="153.80" cy="176.12" r="1.95" fill="#5b7dc0" stroke="#4f70b0" stroke-width="0.3"/>
<circle cx="133.98" cy="143.55" r="1.95" fill="#5b7dc0" stroke="#4f70b0" stroke-width="0.3"/>
<circle cx="136.31" cy="128.08" r="1.95" fill="#5b7dc0" stroke="#4f70b0" stroke-width="0.3"/>
<circle cx="137.76" cy="183.00" r="1.95" fill="#5b7dc0" stroke="#4f70b0" stroke-width="0.3"/>
<circle cx="139.95" cy="184.41" r="1.95" fill="#5b7dc0" stroke="#4f70b0" stroke-width="0.3"/>
<circle cx="136.60" cy="136.41" r="1.95" fill="#5b7dc0" stroke="#4f70b0" stroke-width="0.3"/>
<circle cx="137.99" cy="181.62" r="1.95" fill="#5b7dc0" stroke="#4f70b0" stroke-width="0.3"/>
<circle cx="135.92" cy="137.43" r="1.95" fill="#5b7dc0" stroke="#4f70b0" stroke-width="0.3"/>
<circle cx="146.63" cy="164.57" r="1.95" fill="#5b7dc0" stroke="#4f70b0" stroke-width="0.3"/>
<circle cx="149.74" cy="170.17" r="1.95" fill="#5b7dc0" stroke="#4f70b0" stroke-width="0.3"/>
<circle cx="148.45" cy="143.25" r="1.95" fill="#5b7dc0" stroke="#4f70b0" stroke-width="0.3"/>
<circle cx="131.79" cy="167.72" r="1.95" fill="#5b7dc0" stroke="#4f70b0" stroke-width="0.3"/>
<circle cx="147.60" cy="160.66" r="1.95" fill="#5b7dc0" stroke="#4f70b0" stroke-width="0.3"/>
<circle cx="138.01" cy="140.42" r="1.95" fill="#5b7dc0" stroke="#4f70b0" stroke-width="0.3"/>
<circle cx="133.05" cy="175.53" r="1.95" fill="#5b7dc0" stroke="#4f70b0" stroke-width="0.3"/>
<circle cx="150.05" cy="184.96" r="1.95" fill="#5b7dc0" stroke="#4f70b0" stroke-width="0.3"/>
<circle cx="145.45" cy="182.40" r="1.95" fill="#5b7dc0" stroke="#4f70b0" stroke-width="0.3"/>
<circle cx="148.71" cy="147.39" r="1.95" fill="#5b7dc0" stroke="#4f70b0" stroke-width="0.3"/>
<circle cx="137.63" cy="150.17" r="1.95" fill="#5b7dc0" stroke="#4f70b0" stroke-width="0.3"/>
<circle cx="139.21" cy="167.96" r="1.95" fill="#5b7dc0" stroke="#4f70b0" stroke-width="0.3"/>
<circle cx="146.92" cy="154.78" r="1.95" fill="#5b7dc0" stroke="#4f70b0" stroke-width="0.3"/>
<circle cx="132.62" cy="172.73" r="1.95" fill="#5b7dc0" stroke="#4f70b0" stroke-width="0.3"/>
<circle cx="137.66" cy="173.03" r="1.95" fill="#5b7dc0" stroke="#4f70b0" stroke-width="0.3"/>
<circle cx="134.20" cy="150.73" r="1.95" fill="#5b7dc0" stroke="#4f70b0" stroke-width="0.3"/>
<circle cx="136.74" cy="146.04" r="1.95" fill="#5b7dc0" stroke="#4f70b0" stroke-width="0.3"/>
<circle cx="137.00" cy="128.00" r="1.95" fill="#5b7dc0" stroke="#4f70b0" stroke-width="0.3"/>
<circle cx="131.96" cy="172.69" r="1.95" fill="#5b7dc0" stroke="#4f70b0" stroke-width="0.3"/>
<circle cx="136.19" cy="140.49" r="1.95" fill="#5b7dc0" stroke="#4f70b0" stroke-width="0.3"/>
<circle cx="135.21" cy="165.86" r="1.95" fill="#5b7dc0" stroke="#4f70b0" stroke-width="0.3"/>
<circle cx="132.97" cy="133.71" r="1.95" fill="#5b7dc0" stroke="#4f70b0" stroke-width="0.3"/>
<circle cx="136.78" cy="161.10" r="1.95" fill="#5b7dc0" stroke="#4f70b0" stroke-width="0.3"/>
<circle cx="131.56" cy="174.15" r="1.95" fill="#5b7dc0" stroke="#4f70b0" stroke-width="0.3"/>
<circle cx="151.67" cy="142.11" r="1.95" fill="#5b7dc0" stroke="#4f70b0" stroke-width="0.3"/>
<circle cx="137.56" cy="183.51" r="1.95" fill="#5b7dc0" stroke="#4f70b0" stroke-width="0.3"/>
<circle cx="140.60" cy="177.83" r="1.95" fill="#5b7dc0" stroke="#4f70b0" stroke-width="0.3"/>
<circle cx="131.65" cy="142.81" r="1.95" fill="#5b7dc0" stroke="#4f70b0" stroke-width="0.3"/>
<circle cx="146.70" cy="170.21" r="1.95" fill="#5b7dc0" stroke="#4f70b0" stroke-width="0.3"/>
<circle cx="153.32" cy="160.65" r="1.95" fill="#5b7dc0" stroke="#4f70b0" stroke-width="0.3"/>
<circle cx="132.07" cy="180.76" r="1.95" fill="#5b7dc0" stroke="#4f70b0" stroke-width="0.3"/>
<circle cx="148.25" cy="153.73" r="1.95" fill="#5b7dc0" stroke="#4f70b0" stroke-width="0.3"/>
<circle cx="132.42" cy="150.98" r="1.95" fill="#5b7dc0" stroke="#4f70b0" stroke-width="0.3"/>
<circle cx="149.96" cy="152.99" r="1.95" fill="#5b7dc0" stroke="#4f70b0" stroke-width="0.3"/>
<circle cx="138.52" cy="147.57" r="1.95" fill="#5b7dc0" stroke="#4f70b0" stroke-width="0.3"/>
<circle cx="134.54" cy="164.60" r="1.95" fill="#5b7dc0" stroke="#4f70b0" stroke-width="0.3"/>
<circle cx="140.26" cy="171.38" r="1.95" fill="#5b7dc0" stroke="#4f70b0" stroke-width="0.3"/>
<circle cx="134.23" cy="138.85" r="1.95" fill="#5b7dc0" stroke="#4f70b0" stroke-width="0.3"/>
<circle cx="136.52" cy="165.11" r="1.95" fill="#5b7dc0" stroke="#4f70b0" stroke-width="0.3"/>
<circle cx="149.05" cy="166.09" r="1.95" fill="#5b7dc0" stroke="#4f70b0" stroke-width="0.3"/>
<circle cx="137.89" cy="164.81" r="1.95" fill="#5b7dc0" stroke="#4f70b0" stroke-width="0.3"/>
<circle cx="131.99" cy="158.79" r="1.95" fill="#5b7dc0" stroke="#4f70b0" stroke-width="0.3"/>
<circle cx="133.82" cy="178.89" r="1.95" fill="#5b7dc0" stroke="#4f70b0" stroke-width="0.3"/>
<circle cx="147.20" cy="159.97" r="1.95" fill="#5b7dc0" stroke="#4f70b0" stroke-width="0.3"/>
<circle cx="136.33" cy="158.95" r="1.95" fill="#5b7dc0" stroke="#4f70b0" stroke-width="0.3"/>
<circle cx="135.29" cy="130.91" r="1.95" fill="#5b7dc0" stroke="#4f70b0" stroke-width="0.3"/>
<circle cx="134.94" cy="161.14" r="1.95" fill="#5b7dc0" stroke="#4f70b0" stroke-width="0.3"/>
<circle cx="152.28" cy="167.65" r="1.95" fill="#5b7dc0" stroke="#4f70b0" stroke-width="0.3"/>
<circle cx="132.96" cy="167.93" r="1.95" fill="#5b7dc0" stroke="#4f70b0" stroke-width="0.3"/>
<circle cx="135.98" cy="147.48" r="1.95" fill="#5b7dc0" stroke="#4f70b0" stroke-width="0.3"/>
<circle cx="136.99" cy="179.21" r="1.95" fill="#5b7dc0" stroke="#4f70b0" stroke-width="0.3"/>
<circle cx="149.23" cy="161.65" r="1.95" fill="#5b7dc0" stroke="#4f70b0" stroke-width="0.3"/>
<circle cx="139.52" cy="180.48" r="1.95" fill="#5b7dc0" stroke="#4f70b0" stroke-width="0.3"/>
<circle cx="148.96" cy="145.24" r="1.95" fill="#5b7dc0" stroke="#4f70b0" stroke-width="0.3"/>
<circle cx="134.23" cy="146.89" r="1.95" fill="#5b7dc0" stroke="#4f70b0" stroke-width="0.3"/>
<circle cx="150.13" cy="145.37" r="1.95" fill="#5b7dc0" stroke="#4f70b0" stroke-width="0.3"/>
<circle cx="153.28" cy="156.75" r="1.95" fill="#5b7dc0" stroke="#4f70b0" stroke-width="0.3"/>
<circle cx="132.89" cy="141.87" r="1.95" fill="#5b7dc0" stroke="#4f70b0" stroke-width="0.3"/>
<circle cx="136.47" cy="162.94" r="1.95" fill="#5b7dc0" stroke="#4f70b0" stroke-width="0.3"/>
<circle cx="150.75" cy="179.26" r="1.95" fill="#5b7dc0" stroke="#4f70b0" stroke-width="0.3"/>
<circle cx="153.00" cy="125.00" r="1.95" fill="#5b7dc0" stroke="#4f70b0" stroke-width="0.3"/>
<circle cx="131.94" cy="158.94" r="1.95" fill="#5b7dc0" stroke="#4f70b0" stroke-width="0.3"/>
<circle cx="135.23" cy="138.26" r="1.95" fill="#5b7dc0" stroke="#4f70b0" stroke-width="0.3"/>
<circle cx="137.41" cy="171.59" r="1.95" fill="#5b7dc0" stroke="#4f70b0" stroke-width="0.3"/>
<circle cx="135.63" cy="126.71" r="1.95" fill="#5b7dc0" stroke="#4f70b0" stroke-width="0.3"/>
<circle cx="149.08" cy="150.92" r="1.95" fill="#5b7dc0" stroke="#4f70b0" stroke-width="0.3"/>
<circle cx="134.57" cy="162.76" r="1.95" fill="#5b7dc0" stroke="#4f70b0" stroke-width="0.3"/>
<circle cx="131.53" cy="148.37" r="1.95" fill="#5b7dc0" stroke="#4f70b0" stroke-width="0.3"/>
<circle cx="152.21" cy="141.64" r="1.95" fill="#5b7dc0" stroke="#4f70b0" stroke-width="0.3"/>
<circle cx="151.88" cy="140.88" r="1.95" fill="#5b7dc0" stroke="#4f70b0" stroke-width="0.3"/>
<circle cx="153.98" cy="152.20" r="1.95" fill="#5b7dc0" stroke="#4f70b0" stroke-width="0.3"/>
<circle cx="136.66" cy="171.52" r="1.95" fill="#5b7dc0" stroke="#4f70b0" stroke-width="0.3"/>
<circle cx="148.53" cy="172.18" r="1.95" fill="#5b7dc0" stroke="#4f70b0" stroke-width="0.3"/>
<circle cx="134.87" cy="131.95" r="1.95" fill="#5b7dc0" stroke="#4f70b0" stroke-width="0.3"/>
<circle cx="134.98" cy="176.90" r="1.95" fill="#5b7dc0" stroke="#4f70b0" stroke-width="0.3"/>
<circle cx="146.80" cy="163.31" r="1.95" fill="#5b7dc0" stroke="#4f70b0" stroke-width="0.3"/>
<circle cx="135.27" cy="173.45" r="1.95" fill="#5b7dc0" stroke="#4f70b0" stroke-width="0.3"/>
<circle cx="137.09" cy="181.32" r="1.95" fill="#5b7dc0" stroke="#4f70b0" stroke-width="0.3"/>
<circle cx="134.92" cy="177.50" r="1.95" fill="#5b7dc0" stroke="#4f70b0" stroke-width="0.3"/>
<circle cx="146.78" cy="155.80" r="1.95" fill="#5b7dc0" stroke="#4f70b0" stroke-width="0.3"/>
<circle cx="154.42" cy="151.24" r="1.95" fill="#5b7dc0" stroke="#4f70b0" stroke-width="0.3"/>
<circle cx="153.05" cy="133.06" r="1.95" fill="#5b7dc0" stroke="#4f70b0" stroke-width="0.3"/>
<circle cx="146.30" cy="160.61" r="1.95" fill="#5b7dc0" stroke="#4f70b0" stroke-width="0.3"/>
<circle cx="138.40" cy="183.81" r="1.95" fill="#5b7dc0" stroke="#4f70b0" stroke-width="0.3"/>
<circle cx="138.21" cy="165.75" r="1.95" fill="#5b7dc0" stroke="#4f70b0" stroke-width="0.3"/>
<circle cx="153.01" cy="137.15" r="1.95" fill="#5b7dc0" stroke="#4f70b0" stroke-width="0.3"/>
<circle cx="149.73" cy="152.40" r="1.95" fill="#5b7dc0" stroke="#4f70b0" stroke-width="0.3"/>
<circle cx="148.24" cy="172.69" r="1.95" fill="#5b7dc0" stroke="#4f70b0" stroke-width="0.3"/>
<circle cx="136.41" cy="181.82" r="1.95" fill="#5b7dc0" stroke="#4f70b0" stroke-width="0.3"/>
<circle cx="146.17" cy="163.44" r="1.95" fill="#5b7dc0" stroke="#4f70b0" stroke-width="0.3"/>
<circle cx="148.03" cy="170.51" r="1.95" fill="#5b7dc0" stroke="#4f70b0" stroke-width="0.3"/>
<circle cx="132.76" cy="160.33" r="1.95" fill="#5b7dc0" stroke="#4f70b0" stroke-width="0.3"/>
<circle cx="152.77" cy="132.59" r="1.95" fill="#5b7dc0" stroke="#4f70b0" stroke-width="0.3"/>
<circle cx="135.01" cy="171.96" r="1.95" fill="#5b7dc0" stroke="#4f70b0" stroke-width="0.3"/>
<circle cx="149.44" cy="143.34" r="1.95" fill="#5b7dc0" stroke="#4f70b0" stroke-width="0.3"/>
<circle cx="146.01" cy="169.48" r="1.95" fill="#5b7dc0" stroke="#4f70b0" stroke-width="0.3"/>
<circle cx="153.58" cy="155.10" r="1.95" fill="#5b7dc0" stroke="#4f70b0" stroke-width="0.3"/>
<circle cx="147.45" cy="171.37" r="1.95" fill="#5b7dc0" stroke="#4f70b0" stroke-width="0.3"/>
<circle cx="137.05" cy="150.52" r="1.95" fill="#5b7dc0" stroke="#4f70b0" stroke-width="0.3"/>
<circle cx="152.15" cy="161.97" r="1.95" fill="#5b7dc0" stroke="#4f70b0" stroke-width="0.3"/>
<circle cx="149.04" cy="172.27" r="1.95" fill="#5b7dc0" stroke="#4f70b0" stroke-width="0.3"/>
<circle cx="137.02" cy="154.32" r="1.95" fill="#5b7dc0" stroke="#4f70b0" stroke-width="0.3"/>
<circle cx="133.61" cy="134.14" r="1.95" fill="#5b7dc0" stroke="#4f70b0" stroke-width="0.3"/>
<circle cx="153.33" cy="157.27" r="1.95" fill="#5b7dc0" stroke="#4f70b0" stroke-width="0.3"/>
<circle cx="139.58" cy="166.21" r="1.95" fill="#5b7dc0" stroke="#4f70b0" stroke-width="0.3"/>
<circle cx="149.42" cy="155.42" r="1.95" fill="#5b7dc0" stroke="#4f70b0" stroke-width="0.3"/>
<circle cx="138.12" cy="163.95" r="1.95" fill="#5b7dc0" stroke="#4f70b0" stroke-width="0.3"/>
<circle cx="152.93" cy="164.72" r="1.95" fill="#5b7dc0" stroke="#4f70b0" stroke-width="0.3"/>
<circle cx="154.40" cy="177.35" r="1.95" fill="#5b7dc0" stroke="#4f70b0" stroke-width="0.3"/>
<circle cx="138.28" cy="170.06" r="1.95" fill="#5b7dc0" stroke="#4f70b0" stroke-width="0.3"/>
<circle cx="150.70" cy="140.48" r="1.95" fill="#5b7dc0" stroke="#4f70b0" stroke-width="0.3"/>
<circle cx="148.66" cy="163.61" r="1.95" fill="#5b7dc0" stroke="#4f70b0" stroke-width="0.3"/>
<circle cx="136.47" cy="168.65" r="1.95" fill="#5b7dc0" stroke="#4f70b0" stroke-width="0.3"/>
<circle cx="150.60" cy="173.99" r="1.95" fill="#5b7dc0" stroke="#4f70b0" stroke-width="0.3"/>
<circle cx="152.04" cy="143.55" r="1.95" fill="#5b7dc0" stroke="#4f70b0" stroke-width="0.3"/>
<circle cx="134.92" cy="183.89" r="1.95" fill="#5b7dc0" stroke="#4f70b0" stroke-width="0.3"/>
<circle cx="148.51" cy="158.92" r="1.95" fill="#5b7dc0" stroke="#4f70b0" stroke-width="0.3"/>
<circle cx="175.25" cy="157.96" r="1.95" fill="#e4262d" stroke="#cc2029" stroke-width="0.3"/>
<circle cx="164.98" cy="184.95" r="1.95" fill="#e4262d" stroke="#cc2029" stroke-width="0.3"/>
<circle cx="168.06" cy="138.65" r="1.95" fill="#e4262d" stroke="#cc2029" stroke-width="0.3"/>
<circle cx="129.75" cy="177.18" r="1.95" fill="#e4262d" stroke="#cc2029" stroke-width="0.3"/>
<circle cx="110.30" cy="177.60" r="1.95" fill="#e4262d" stroke="#cc2029" stroke-width="0.3"/>
<circle cx="179.20" cy="135.00" r="1.95" fill="#e4262d" stroke="#cc2029" stroke-width="0.3"/>
<circle cx="106.95" cy="167.61" r="1.95" fill="#e4262d" stroke="#cc2029" stroke-width="0.3"/>
<circle cx="113.65" cy="156.11" r="1.95" fill="#e4262d" stroke="#cc2029" stroke-width="0.3"/>
<circle cx="157.24" cy="158.97" r="1.95" fill="#e4262d" stroke="#cc2029" stroke-width="0.3"/>
<circle cx="159.51" cy="120.43" r="1.95" fill="#e4262d" stroke="#cc2029" stroke-width="0.3"/>
<circle cx="154.70" cy="160.70" r="1.95" fill="#e4262d" stroke="#cc2029" stroke-width="0.3"/>
<circle cx="89.60" cy="148.00" r="1.95" fill="#e4262d" stroke="#cc2029" stroke-width="0.3"/>
<circle cx="111.42" cy="169.58" r="1.95" fill="#e4262d" stroke="#cc2029" stroke-width="0.3"/>
<circle cx="128.71" cy="160.22" r="1.95" fill="#e4262d" stroke="#cc2029" stroke-width="0.3"/>
<circle cx="118.22" cy="162.44" r="1.95" fill="#e4262d" stroke="#cc2029" stroke-width="0.3"/>
<circle cx="115.21" cy="146.23" r="1.95" fill="#e4262d" stroke="#cc2029" stroke-width="0.3"/>
<circle cx="102.23" cy="166.15" r="1.95" fill="#e4262d" stroke="#cc2029" stroke-width="0.3"/>
<circle cx="157.67" cy="185.09" r="1.95" fill="#e4262d" stroke="#cc2029" stroke-width="0.3"/>
<circle cx="108.27" cy="185.37" r="1.95" fill="#e4262d" stroke="#cc2029" stroke-width="0.3"/>
<circle cx="182.30" cy="153.00" r="1.95" fill="#e4262d" stroke="#cc2029" stroke-width="0.3"/>
<circle cx="123.45" cy="148.71" r="1.95" fill="#e4262d" stroke="#cc2029" stroke-width="0.3"/>
<circle cx="129.06" cy="167.91" r="1.95" fill="#e4262d" stroke="#cc2029" stroke-width="0.3"/>
<circle cx="170.25" cy="181.08" r="1.95" fill="#e4262d" stroke="#cc2029" stroke-width="0.3"/>
<circle cx="93.00" cy="155.00" r="1.95" fill="#e4262d" stroke="#cc2029" stroke-width="0.3"/>
<circle cx="123.19" cy="177.30" r="1.95" fill="#e4262d" stroke="#cc2029" stroke-width="0.3"/>
<circle cx="106.96" cy="132.77" r="1.95" fill="#e4262d" stroke="#cc2029" stroke-width="0.3"/>
<circle cx="158.67" cy="155.15" r="1.95" fill="#e4262d" stroke="#cc2029" stroke-width="0.3"/>
<circle cx="159.30" cy="168.16" r="1.95" fill="#e4262d" stroke="#cc2029" stroke-width="0.3"/>
<circle cx="171.13" cy="177.70" r="1.95" fill="#e4262d" stroke="#cc2029" stroke-width="0.3"/>
<circle cx="112.10" cy="128.80" r="1.95" fill="#e4262d" stroke="#cc2029" stroke-width="0.3"/>
<circle cx="162.05" cy="160.28" r="1.95" fill="#e4262d" stroke="#cc2029" stroke-width="0.3"/>
<circle cx="155.73" cy="176.00" r="1.95" fill="#e4262d" stroke="#cc2029" stroke-width="0.3"/>
<circle cx="128.44" cy="166.67" r="1.95" fill="#e4262d" stroke="#cc2029" stroke-width="0.3"/>
<circle cx="164.96" cy="121.82" r="1.95" fill="#e4262d" stroke="#cc2029" stroke-width="0.3"/>
<circle cx="164.10" cy="182.50" r="1.95" fill="#e4262d" stroke="#cc2029" stroke-width="0.3"/>
<circle cx="163.93" cy="150.81" r="1.95" fill="#e4262d" stroke="#cc2029" stroke-width="0.3"/>
<circle cx="182.71" cy="177.52" r="1.95" fill="#e4262d" stroke="#cc2029" stroke-width="0.3"/>
<circle cx="127.98" cy="177.32" r="1.95" fill="#e4262d" stroke="#cc2029" stroke-width="0.3"/>
<circle cx="164.48" cy="157.59" r="1.95" fill="#e4262d" stroke="#cc2029" stroke-width="0.3"/>
<circle cx="108.38" cy="173.16" r="1.95" fill="#e4262d" stroke="#cc2029" stroke-width="0.3"/>
<circle cx="127.74" cy="167.70" r="1.95" fill="#e4262d" stroke="#cc2029" stroke-width="0.3"/>
<circle cx="165.68" cy="170.83" r="1.95" fill="#e4262d" stroke="#cc2029" stroke-width="0.3"/>
<circle cx="159.85" cy="139.58" r="1.95" fill="#e4262d" stroke="#cc2029" stroke-width="0.3"/>
<circle cx="176.11" cy="142.51" r="1.95" fill="#e4262d" stroke="#cc2029" stroke-width="0.3"/>
<circle cx="121.32" cy="144.75" r="1.95" fill="#e4262d" stroke="#cc2029" stroke-width="0.3"/>
<circle cx="123.59" cy="183.24" r="1.95" fill="#e4262d" stroke="#cc2029" stroke-width="0.3"/>
<circle cx="173.24" cy="175.86" r="1.95" fill="#e4262d" stroke="#cc2029" stroke-width="0.3"/>
<circle cx="88.00" cy="160.00" r="1.95" fill="#e4262d" stroke="#cc2029" stroke-width="0.3"/>
<circle cx="124.64" cy="167.93" r="1.95" fill="#e4262d" stroke="#cc2029" stroke-width="0.3"/>
<circle cx="118.94" cy="171.82" r="1.95" fill="#e4262d" stroke="#cc2029" stroke-width="0.3"/>
<circle cx="130.46" cy="137.65" r="1.95" fill="#e4262d" stroke="#cc2029" stroke-width="0.3"/>
<circle cx="127.92" cy="176.62" r="1.95" fill="#e4262d" stroke="#cc2029" stroke-width="0.3"/>
<circle cx="172.50" cy="101.75" r="1.95" fill="#e4262d" stroke="#cc2029" stroke-width="0.3"/>
<circle cx="121.59" cy="167.15" r="1.95" fill="#e4262d" stroke="#cc2029" stroke-width="0.3"/>
<circle cx="181.25" cy="88.25" r="1.95" fill="#e4262d" stroke="#cc2029" stroke-width="0.3"/>
<circle cx="102.89" cy="170.32" r="1.95" fill="#e4262d" stroke="#cc2029" stroke-width="0.3"/>
<circle cx="95.00" cy="165.00" r="1.95" fill="#e4262d" stroke="#cc2029" stroke-width="0.3"/>
<circle cx="157.54" cy="124.60" r="1.95" fill="#e4262d" stroke="#cc2029" stroke-width="0.3"/>
<circle cx="167.60" cy="161.09" r="1.95" fill="#e4262d" stroke="#cc2029" stroke-width="0.3"/>
<circle cx="156.26" cy="173.30" r="1.95" fill="#e4262d" stroke="#cc2029" stroke-width="0.3"/>
<circle cx="113.19" cy="157.99" r="1.95" fill="#e4262d" stroke="#cc2029" stroke-width="0.3"/>
<circle cx="179.21" cy="162.11" r="1.95" fill="#e4262d" stroke="#cc2029" stroke-width="0.3"/>
<circle cx="169.69" cy="142.51" r="1.95" fill="#e4262d" stroke="#cc2029" stroke-width="0.3"/>
<circle cx="161.40" cy="164.65" r="1.95" fill="#e4262d" stroke="#cc2029" stroke-width="0.3"/>
<circle cx="126.47" cy="184.90" r="1.95" fill="#e4262d" stroke="#cc2029" stroke-width="0.3"/>
<circle cx="170.45" cy="170.92" r="1.95" fill="#e4262d" stroke="#cc2029" stroke-width="0.3"/>
<circle cx="124.55" cy="172.78" r="1.95" fill="#e4262d" stroke="#cc2029" stroke-width="0.3"/>
<circle cx="116.52" cy="170.43" r="1.95" fill="#e4262d" stroke="#cc2029" stroke-width="0.3"/>
<circle cx="162.04" cy="177.09" r="1.95" fill="#e4262d" stroke="#cc2029" stroke-width="0.3"/>
<circle cx="160.35" cy="183.17" r="1.95" fill="#e4262d" stroke="#cc2029" stroke-width="0.3"/>
<circle cx="117.50" cy="76.00" r="1.95" fill="#e4262d" stroke="#cc2029" stroke-width="0.3"/>
<circle cx="91.30" cy="134.20" r="1.95" fill="#e4262d" stroke="#cc2029" stroke-width="0.3"/>
<circle cx="158.36" cy="147.48" r="1.95" fill="#e4262d" stroke="#cc2029" stroke-width="0.3"/>
<circle cx="163.00" cy="180.13" r="1.95" fill="#e4262d" stroke="#cc2029" stroke-width="0.3"/>
<circle cx="127.49" cy="185.34" r="1.95" fill="#e4262d" stroke="#cc2029" stroke-width="0.3"/>
<circle cx="155.05" cy="115.30" r="1.95" fill="#e4262d" stroke="#cc2029" stroke-width="0.3"/>
<circle cx="190.00" cy="181.00" r="1.95" fill="#e4262d" stroke="#cc2029" stroke-width="0.3"/>
<circle cx="166.53" cy="112.01" r="1.95" fill="#e4262d" stroke="#cc2029" stroke-width="0.3"/>
<circle cx="156.58" cy="156.34" r="1.95" fill="#e4262d" stroke="#cc2029" stroke-width="0.3"/>
<circle cx="129.98" cy="165.85" r="1.95" fill="#e4262d" stroke="#cc2029" stroke-width="0.3"/>
<circle cx="102.50" cy="142.90" r="1.95" fill="#e4262d" stroke="#cc2029" stroke-width="0.3"/>
<circle cx="116.51" cy="171.67" r="1.95" fill="#e4262d" stroke="#cc2029" stroke-width="0.3"/>
<circle cx="177.37" cy="169.24" r="1.95" fill="#e4262d" stroke="#cc2029" stroke-width="0.3"/>
<circle cx="128.80" cy="128.80" r="1.95" fill="#e4262d" stroke="#cc2029" stroke-width="0.3"/>
<circle cx="175.88" cy="173.67" r="1.95" fill="#e4262d" stroke="#cc2029" stroke-width="0.3"/>
<circle cx="174.83" cy="139.81" r="1.95" fill="#e4262d" stroke="#cc2029" stroke-width="0.3"/>
<circle cx="157.78" cy="182.40" r="1.95" fill="#e4262d" stroke="#cc2029" stroke-width="0.3"/>
<circle cx="128.32" cy="184.80" r="1.95" fill="#e4262d" stroke="#cc2029" stroke-width="0.3"/>
<circle cx="157.00" cy="185.40" r="1.95" fill="#e4262d" stroke="#cc2029" stroke-width="0.3"/>
<circle cx="162.27" cy="152.02" r="1.95" fill="#e4262d" stroke="#cc2029" stroke-width="0.3"/>
<circle cx="106.57" cy="150.85" r="1.95" fill="#e4262d" stroke="#cc2029" stroke-width="0.3"/>
<circle cx="156.46" cy="181.32" r="1.95" fill="#e4262d" stroke="#cc2029" stroke-width="0.3"/>
<circle cx="166.32" cy="146.01" r="1.95" fill="#e4262d" stroke="#cc2029" stroke-width="0.3"/>
<circle cx="83.80" cy="104.40" r="1.95" fill="#e4262d" stroke="#cc2029" stroke-width="0.3"/>
<circle cx="125.96" cy="170.48" r="1.95" fill="#e4262d" stroke="#cc2029" stroke-width="0.3"/>
<circle cx="124.82" cy="139.09" r="1.95" fill="#e4262d" stroke="#cc2029" stroke-width="0.3"/>
<circle cx="125.48" cy="174.34" r="1.95" fill="#e4262d" stroke="#cc2029" stroke-width="0.3"/>
<circle cx="110.84" cy="175.91" r="1.95" fill="#e4262d" stroke="#cc2029" stroke-width="0.3"/>
<circle cx="168.41" cy="157.29" r="1.95" fill="#e4262d" stroke="#cc2029" stroke-width="0.3"/>
<circle cx="123.91" cy="178.97" r="1.95" fill="#e4262d" stroke="#cc2029" stroke-width="0.3"/>
<circle cx="155.49" cy="181.38" r="1.95" fill="#e4262d" stroke="#cc2029" stroke-width="0.3"/>
<circle cx="161.25" cy="90.75" r="1.95" fill="#e4262d" stroke="#cc2029" stroke-width="0.3"/>
<circle cx="170.27" cy="175.49" r="1.95" fill="#e4262d" stroke="#cc2029" stroke-width="0.3"/>
<circle cx="115.14" cy="164.73" r="1.95" fill="#e4262d" stroke="#cc2029" stroke-width="0.3"/>
<circle cx="106.30" cy="174.42" r="1.95" fill="#e4262d" stroke="#cc2029" stroke-width="0.3"/>
<circle cx="101.37" cy="181.46" r="1.95" fill="#e4262d" stroke="#cc2029" stroke-width="0.3"/>
<circle cx="175.44" cy="150.59" r="1.95" fill="#e4262d" stroke="#cc2029" stroke-width="0.3"/>
<circle cx="181.50" cy="152.30" r="1.95" fill="#e4262d" stroke="#cc2029" stroke-width="0.3"/>
<circle cx="125.99" cy="176.38" r="1.95" fill="#e4262d" stroke="#cc2029" stroke-width="0.3"/>
<circle cx="102.90" cy="123.50" r="1.95" fill="#e4262d" stroke="#cc2029" stroke-width="0.3"/>
<circle cx="161.35" cy="167.59" r="1.95" fill="#e4262d" stroke="#cc2029" stroke-width="0.3"/>
<circle cx="168.25" cy="110.75" r="1.95" fill="#e4262d" stroke="#cc2029" stroke-width="0.3"/>
<circle cx="129.19" cy="183.31" r="1.95" fill="#e4262d" stroke="#cc2029" stroke-width="0.3"/>
<circle cx="116.00" cy="128.80" r="1.95" fill="#e4262d" stroke="#cc2029" stroke-width="0.3"/>
<circle cx="157.96" cy="153.79" r="1.95" fill="#e4262d" stroke="#cc2029" stroke-width="0.3"/>
<circle cx="118.19" cy="135.79" r="1.95" fill="#e4262d" stroke="#cc2029" stroke-width="0.3"/>
<circle cx="112.52" cy="141.67" r="1.95" fill="#e4262d" stroke="#cc2029" stroke-width="0.3"/>
<circle cx="180.80" cy="134.60" r="1.95" fill="#e4262d" stroke="#cc2029" stroke-width="0.3"/>
<circle cx="161.25" cy="115.50" r="1.95" fill="#e4262d" stroke="#cc2029" stroke-width="0.3"/>
<circle cx="183.80" cy="135.70" r="1.95" fill="#e4262d" stroke="#cc2029" stroke-width="0.3"/>
<circle cx="122.30" cy="100.00" r="1.95" fill="#e4262d" stroke="#cc2029" stroke-width="0.3"/>
<circle cx="111.20" cy="96.20" r="1.95" fill="#e4262d" stroke="#cc2029" stroke-width="0.3"/>
<circle cx="113.44" cy="178.35" r="1.95" fill="#e4262d" stroke="#cc2029" stroke-width="0.3"/>
<circle cx="166.95" cy="157.10" r="1.95" fill="#e4262d" stroke="#cc2029" stroke-width="0.3"/>
<circle cx="117.11" cy="145.34" r="1.95" fill="#e4262d" stroke="#cc2029" stroke-width="0.3"/>
<circle cx="108.16" cy="174.19" r="1.95" fill="#e4262d" stroke="#cc2029" stroke-width="0.3"/>
<circle cx="157.27" cy="147.22" r="1.95" fill="#e4262d" stroke="#cc2029" stroke-width="0.3"/>
<circle cx="157.86" cy="176.85" r="1.95" fill="#e4262d" stroke="#cc2029" stroke-width="0.3"/>
<circle cx="168.12" cy="174.90" r="1.95" fill="#e4262d" stroke="#cc2029" stroke-width="0.3"/>
<circle cx="127.85" cy="174.77" r="1.95" fill="#e4262d" stroke="#cc2029" stroke-width="0.3"/>
<circle cx="158.91" cy="165.26" r="1.95" fill="#e4262d" stroke="#cc2029" stroke-width="0.3"/>
<circle cx="111.57" cy="144.76" r="1.95" fill="#e4262d" stroke="#cc2029" stroke-width="0.3"/>
<circle cx="160.07" cy="183.39" r="1.95" fill="#e4262d" stroke="#cc2029" stroke-width="0.3"/>
<circle cx="128.21" cy="140.31" r="1.95" fill="#e4262d" stroke="#cc2029" stroke-width="0.3"/>
<circle cx="103.53" cy="181.60" r="1.95" fill="#e4262d" stroke="#cc2029" stroke-width="0.3"/>
<circle cx="121.20" cy="114.40" r="1.95" fill="#e4262d" stroke="#cc2029" stroke-width="0.3"/>
<circle cx="168.69" cy="112.42" r="1.95" fill="#e4262d" stroke="#cc2029" stroke-width="0.3"/>
<circle cx="124.54" cy="171.52" r="1.95" fill="#e4262d" stroke="#cc2029" stroke-width="0.3"/>
<circle cx="174.66" cy="147.93" r="1.95" fill="#e4262d" stroke="#cc2029" stroke-width="0.3"/>
<circle cx="109.91" cy="179.07" r="1.95" fill="#e4262d" stroke="#cc2029" stroke-width="0.3"/>
<circle cx="180.15" cy="184.90" r="1.95" fill="#e4262d" stroke="#cc2029" stroke-width="0.3"/>
<circle cx="172.50" cy="108.75" r="1.95" fill="#e4262d" stroke="#cc2029" stroke-width="0.3"/>
<circle cx="159.60" cy="124.94" r="1.95" fill="#e4262d" stroke="#cc2029" stroke-width="0.3"/>
<circle cx="157.19" cy="168.58" r="1.95" fill="#e4262d" stroke="#cc2029" stroke-width="0.3"/>
<circle cx="188.75" cy="93.75" r="1.95" fill="#e4262d" stroke="#cc2029" stroke-width="0.3"/>
<circle cx="177.69" cy="156.10" r="1.95" fill="#e4262d" stroke="#cc2029" stroke-width="0.3"/>
<circle cx="157.45" cy="157.78" r="1.95" fill="#e4262d" stroke="#cc2029" stroke-width="0.3"/>
<circle cx="161.90" cy="180.38" r="1.95" fill="#e4262d" stroke="#cc2029" stroke-width="0.3"/>
<circle cx="163.73" cy="184.94" r="1.95" fill="#e4262d" stroke="#cc2029" stroke-width="0.3"/>
<circle cx="124.93" cy="182.79" r="1.95" fill="#e4262d" stroke="#cc2029" stroke-width="0.3"/>
<circle cx="110.66" cy="144.90" r="1.95" fill="#e4262d" stroke="#cc2029" stroke-width="0.3"/>
<circle cx="170.65" cy="158.82" r="1.95" fill="#e4262d" stroke="#cc2029" stroke-width="0.3"/>
<circle cx="157.03" cy="151.66" r="1.95" fill="#e4262d" stroke="#cc2029" stroke-width="0.3"/>
<circle cx="173.69" cy="133.46" r="1.95" fill="#e4262d" stroke="#cc2029" stroke-width="0.3"/>
<circle cx="111.08" cy="173.04" r="1.95" fill="#e4262d" stroke="#cc2029" stroke-width="0.3"/>
<circle cx="163.85" cy="184.00" r="1.95" fill="#e4262d" stroke="#cc2029" stroke-width="0.3"/>
<circle cx="164.67" cy="182.18" r="1.95" fill="#e4262d" stroke="#cc2029" stroke-width="0.3"/>
<circle cx="156.80" cy="179.25" r="1.95" fill="#e4262d" stroke="#cc2029" stroke-width="0.3"/>
<circle cx="123.73" cy="174.88" r="1.95" fill="#e4262d" stroke="#cc2029" stroke-width="0.3"/>
<circle cx="113.84" cy="178.97" r="1.95" fill="#e4262d" stroke="#cc2029" stroke-width="0.3"/>
<circle cx="91.50" cy="86.20" r="1.95" fill="#e4262d" stroke="#cc2029" stroke-width="0.3"/>
<circle cx="183.60" cy="136.00" r="1.95" fill="#e4262d" stroke="#cc2029" stroke-width="0.3"/>
<circle cx="168.73" cy="131.90" r="1.95" fill="#e4262d" stroke="#cc2029" stroke-width="0.3"/>
<circle cx="114.96" cy="175.24" r="1.95" fill="#e4262d" stroke="#cc2029" stroke-width="0.3"/>
<circle cx="177.50" cy="73.00" r="1.95" fill="#e4262d" stroke="#cc2029" stroke-width="0.3"/>
<circle cx="188.00" cy="176.00" r="1.95" fill="#e4262d" stroke="#cc2029" stroke-width="0.3"/>
<circle cx="166.09" cy="148.30" r="1.95" fill="#e4262d" stroke="#cc2029" stroke-width="0.3"/>
<circle cx="101.63" cy="183.72" r="1.95" fill="#e4262d" stroke="#cc2029" stroke-width="0.3"/>
<circle cx="130.41" cy="149.57" r="1.95" fill="#e4262d" stroke="#cc2029" stroke-width="0.3"/>
<circle cx="165.75" cy="100.00" r="1.95" fill="#e4262d" stroke="#cc2029" stroke-width="0.3"/>
<circle cx="154.90" cy="176.87" r="1.95" fill="#e4262d" stroke="#cc2029" stroke-width="0.3"/>
<circle cx="166.87" cy="173.13" r="1.95" fill="#e4262d" stroke="#cc2029" stroke-width="0.3"/>
<circle cx="126.51" cy="175.76" r="1.95" fill="#e4262d" stroke="#cc2029" stroke-width="0.3"/>
<circle cx="160.32" cy="183.55" r="1.95" fill="#e4262d" stroke="#cc2029" stroke-width="0.3"/>
<circle cx="156.22" cy="158.20" r="1.95" fill="#e4262d" stroke="#cc2029" stroke-width="0.3"/>
<circle cx="129.95" cy="172.96" r="1.95" fill="#e4262d" stroke="#cc2029" stroke-width="0.3"/>
<circle cx="175.75" cy="117.50" r="1.95" fill="#e4262d" stroke="#cc2029" stroke-width="0.3"/>
<circle cx="157.96" cy="171.42" r="1.95" fill="#e4262d" stroke="#cc2029" stroke-width="0.3"/>
<circle cx="154.81" cy="180.05" r="1.95" fill="#e4262d" stroke="#cc2029" stroke-width="0.3"/>
<circle cx="167.46" cy="170.63" r="1.95" fill="#e4262d" stroke="#cc2029" stroke-width="0.3"/>
<circle cx="171.78" cy="169.55" r="1.95" fill="#e4262d" stroke="#cc2029" stroke-width="0.3"/>
<circle cx="163.97" cy="127.78" r="1.95" fill="#e4262d" stroke="#cc2029" stroke-width="0.3"/>
<circle cx="128.53" cy="167.27" r="1.95" fill="#e4262d" stroke="#cc2029" stroke-width="0.3"/>
<circle cx="129.89" cy="171.00" r="1.95" fill="#e4262d" stroke="#cc2029" stroke-width="0.3"/>
<circle cx="101.90" cy="127.90" r="1.95" fill="#e4262d" stroke="#cc2029" stroke-width="0.3"/>
<circle cx="124.56" cy="168.77" r="1.95" fill="#e4262d" stroke="#cc2029" stroke-width="0.3"/>
<circle cx="174.86" cy="170.96" r="1.95" fill="#e4262d" stroke="#cc2029" stroke-width="0.3"/>
<circle cx="192.70" cy="157.70" r="1.95" fill="#e4262d" stroke="#cc2029" stroke-width="0.3"/>
<circle cx="157.08" cy="183.81" r="1.95" fill="#e4262d" stroke="#cc2029" stroke-width="0.3"/>
<circle cx="171.98" cy="181.78" r="1.95" fill="#e4262d" stroke="#cc2029" stroke-width="0.3"/>
<circle cx="159.19" cy="179.56" r="1.95" fill="#e4262d" stroke="#cc2029" stroke-width="0.3"/>
<circle cx="126.30" cy="183.53" r="1.95" fill="#e4262d" stroke="#cc2029" stroke-width="0.3"/>
<circle cx="109.49" cy="177.23" r="1.95" fill="#e4262d" stroke="#cc2029" stroke-width="0.3"/>
<circle cx="164.43" cy="168.28" r="1.95" fill="#e4262d" stroke="#cc2029" stroke-width="0.3"/>
<circle cx="175.05" cy="163.13" r="1.95" fill="#e4262d" stroke="#cc2029" stroke-width="0.3"/>
<circle cx="170.74" cy="146.10" r="1.95" fill="#e4262d" stroke="#cc2029" stroke-width="0.3"/>
<circle cx="181.12" cy="171.08" r="1.95" fill="#e4262d" stroke="#cc2029" stroke-width="0.3"/>
<circle cx="103.60" cy="178.19" r="1.95" fill="#e4262d" stroke="#cc2029" stroke-width="0.3"/>
<circle cx="159.06" cy="146.80" r="1.95" fill="#e4262d" stroke="#cc2029" stroke-width="0.3"/>
<circle cx="121.56" cy="175.10" r="1.95" fill="#e4262d" stroke="#cc2029" stroke-width="0.3"/>
<circle cx="155.34" cy="137.19" r="1.95" fill="#e4262d" stroke="#cc2029" stroke-width="0.3"/>
<circle cx="128.97" cy="145.66" r="1.95" fill="#e4262d" stroke="#cc2029" stroke-width="0.3"/>
<circle cx="130.10" cy="138.14" r="1.95" fill="#e4262d" stroke="#cc2029" stroke-width="0.3"/>
<circle cx="126.94" cy="154.41" r="1.95" fill="#e4262d" stroke="#cc2029" stroke-width="0.3"/>
<circle cx="161.77" cy="180.48" r="1.95" fill="#e4262d" stroke="#cc2029" stroke-width="0.3"/>
<circle cx="124.00" cy="128.80" r="1.95" fill="#e4262d" stroke="#cc2029" stroke-width="0.3"/>
<circle cx="125.05" cy="169.72" r="1.95" fill="#e4262d" stroke="#cc2029" stroke-width="0.3"/>
<circle cx="118.76" cy="174.96" r="1.95" fill="#e4262d" stroke="#cc2029" stroke-width="0.3"/>
<circle cx="157.31" cy="143.84" r="1.95" fill="#e4262d" stroke="#cc2029" stroke-width="0.3"/>
<circle cx="127.74" cy="160.07" r="1.95" fill="#e4262d" stroke="#cc2029" stroke-width="0.3"/>
<circle cx="121.40" cy="183.36" r="1.95" fill="#e4262d" stroke="#cc2029" stroke-width="0.3"/>
<circle cx="155.87" cy="177.01" r="1.95" fill="#e4262d" stroke="#cc2029" stroke-width="0.3"/>
<circle cx="174.59" cy="182.53" r="1.95" fill="#e4262d" stroke="#cc2029" stroke-width="0.3"/>
<circle cx="109.64" cy="136.55" r="1.95" fill="#e4262d" stroke="#cc2029" stroke-width="0.3"/>
<circle cx="159.24" cy="160.65" r="1.95" fill="#e4262d" stroke="#cc2029" stroke-width="0.3"/>
<circle cx="162.00" cy="110.00" r="1.95" fill="#e4262d" stroke="#cc2029" stroke-width="0.3"/>
<circle cx="127.52" cy="130.71" r="1.95" fill="#e4262d" stroke="#cc2029" stroke-width="0.3"/>
<circle cx="158.79" cy="156.69" r="1.95" fill="#e4262d" stroke="#cc2029" stroke-width="0.3"/>
<circle cx="111.37" cy="146.84" r="1.95" fill="#e4262d" stroke="#cc2029" stroke-width="0.3"/>
<circle cx="159.54" cy="163.22" r="1.95" fill="#e4262d" stroke="#cc2029" stroke-width="0.3"/>
<circle cx="161.91" cy="182.54" r="1.95" fill="#e4262d" stroke="#cc2029" stroke-width="0.3"/>
<circle cx="159.20" cy="167.82" r="1.95" fill="#e4262d" stroke="#cc2029" stroke-width="0.3"/>
<circle cx="156.38" cy="183.84" r="1.95" fill="#e4262d" stroke="#cc2029" stroke-width="0.3"/>
<circle cx="165.60" cy="157.41" r="1.95" fill="#e4262d" stroke="#cc2029" stroke-width="0.3"/>
<circle cx="164.48" cy="160.96" r="1.95" fill="#e4262d" stroke="#cc2029" stroke-width="0.3"/>
<circle cx="162.68" cy="166.28" r="1.95" fill="#e4262d" stroke="#cc2029" stroke-width="0.3"/>
<circle cx="171.03" cy="160.16" r="1.95" fill="#e4262d" stroke="#cc2029" stroke-width="0.3"/>
<circle cx="158.23" cy="166.86" r="1.95" fill="#e4262d" stroke="#cc2029" stroke-width="0.3"/>
<circle cx="124.22" cy="181.73" r="1.95" fill="#e4262d" stroke="#cc2029" stroke-width="0.3"/>
<circle cx="123.61" cy="159.93" r="1.95" fill="#e4262d" stroke="#cc2029" stroke-width="0.3"/>
<circle cx="95.80" cy="130.80" r="1.95" fill="#e4262d" stroke="#cc2029" stroke-width="0.3"/>
<circle cx="176.50" cy="182.36" r="1.95" fill="#e4262d" stroke="#cc2029" stroke-width="0.3"/>
<circle cx="157.57" cy="166.81" r="1.95" fill="#e4262d" stroke="#cc2029" stroke-width="0.3"/>
<circle cx="130.14" cy="182.10" r="1.95" fill="#e4262d" stroke="#cc2029" stroke-width="0.3"/>
<circle cx="174.34" cy="142.58" r="1.95" fill="#e4262d" stroke="#cc2029" stroke-width="0.3"/>
<circle cx="158.84" cy="178.10" r="1.95" fill="#e4262d" stroke="#cc2029" stroke-width="0.3"/>
<circle cx="112.90" cy="179.87" r="1.95" fill="#e4262d" stroke="#cc2029" stroke-width="0.3"/>
<circle cx="167.47" cy="177.78" r="1.95" fill="#e4262d" stroke="#cc2029" stroke-width="0.3"/>
<circle cx="155.07" cy="181.50" r="1.95" fill="#e4262d" stroke="#cc2029" stroke-width="0.3"/>
<circle cx="128.84" cy="183.21" r="1.95" fill="#e4262d" stroke="#cc2029" stroke-width="0.3"/>
<circle cx="127.45" cy="177.92" r="1.95" fill="#e4262d" stroke="#cc2029" stroke-width="0.3"/>
<circle cx="122.67" cy="167.99" r="1.95" fill="#e4262d" stroke="#cc2029" stroke-width="0.3"/>
<circle cx="171.64" cy="144.49" r="1.95" fill="#e4262d" stroke="#cc2029" stroke-width="0.3"/>
<circle cx="160.83" cy="172.81" r="1.95" fill="#e4262d" stroke="#cc2029" stroke-width="0.3"/>
<circle cx="159.53" cy="169.52" r="1.95" fill="#e4262d" stroke="#cc2029" stroke-width="0.3"/>
<circle cx="130.67" cy="137.57" r="1.95" fill="#e4262d" stroke="#cc2029" stroke-width="0.3"/>
<circle cx="168.70" cy="171.69" r="1.95" fill="#e4262d" stroke="#cc2029" stroke-width="0.3"/>
<circle cx="166.58" cy="174.89" r="1.95" fill="#e4262d" stroke="#cc2029" stroke-width="0.3"/>
<circle cx="155.45" cy="157.80" r="1.95" fill="#e4262d" stroke="#cc2029" stroke-width="0.3"/>
<circle cx="159.65" cy="182.90" r="1.95" fill="#e4262d" stroke="#cc2029" stroke-width="0.3"/>
<circle cx="170.60" cy="174.84" r="1.95" fill="#e4262d" stroke="#cc2029" stroke-width="0.3"/>
<circle cx="157.50" cy="173.75" r="1.95" fill="#e4262d" stroke="#cc2029" stroke-width="0.3"/>
<circle cx="164.34" cy="144.57" r="1.95" fill="#e4262d" stroke="#cc2029" stroke-width="0.3"/>
<circle cx="121.93" cy="182.48" r="1.95" fill="#e4262d" stroke="#cc2029" stroke-width="0.3"/>
<circle cx="91.00" cy="172.00" r="1.95" fill="#e4262d" stroke="#cc2029" stroke-width="0.3"/>
<circle cx="103.81" cy="184.71" r="1.95" fill="#e4262d" stroke="#cc2029" stroke-width="0.3"/>
<circle cx="159.81" cy="183.79" r="1.95" fill="#e4262d" stroke="#cc2029" stroke-width="0.3"/>
<circle cx="118.68" cy="156.02" r="1.95" fill="#e4262d" stroke="#cc2029" stroke-width="0.3"/>
<circle cx="168.90" cy="184.02" r="1.95" fill="#e4262d" stroke="#cc2029" stroke-width="0.3"/>
<circle cx="178.84" cy="157.11" r="1.95" fill="#e4262d" stroke="#cc2029" stroke-width="0.3"/>
<circle cx="116.19" cy="179.81" r="1.95" fill="#e4262d" stroke="#cc2029" stroke-width="0.3"/>
<circle cx="168.75" cy="46.75" r="1.95" fill="#e4262d" stroke="#cc2029" stroke-width="0.3"/>
<circle cx="182.50" cy="116.25" r="1.95" fill="#e4262d" stroke="#cc2029" stroke-width="0.3"/>
<circle cx="112.39" cy="173.30" r="1.95" fill="#e4262d" stroke="#cc2029" stroke-width="0.3"/>
<circle cx="154.80" cy="126.71" r="1.95" fill="#e4262d" stroke="#cc2029" stroke-width="0.3"/>
<circle cx="112.92" cy="171.20" r="1.95" fill="#e4262d" stroke="#cc2029" stroke-width="0.3"/>
<circle cx="155.69" cy="144.35" r="1.95" fill="#e4262d" stroke="#cc2029" stroke-width="0.3"/>
<circle cx="168.28" cy="171.71" r="1.95" fill="#e4262d" stroke="#cc2029" stroke-width="0.3"/>
<circle cx="122.16" cy="169.56" r="1.95" fill="#e4262d" stroke="#cc2029" stroke-width="0.3"/>
<circle cx="154.76" cy="125.03" r="1.95" fill="#e4262d" stroke="#cc2029" stroke-width="0.3"/>
<circle cx="159.60" cy="182.50" r="1.95" fill="#e4262d" stroke="#cc2029" stroke-width="0.3"/>
<circle cx="168.95" cy="131.01" r="1.95" fill="#e4262d" stroke="#cc2029" stroke-width="0.3"/>
<circle cx="156.93" cy="173.80" r="1.95" fill="#e4262d" stroke="#cc2029" stroke-width="0.3"/>
<circle cx="155.98" cy="184.34" r="1.95" fill="#e4262d" stroke="#cc2029" stroke-width="0.3"/>
<circle cx="129.96" cy="166.09" r="1.95" fill="#e4262d" stroke="#cc2029" stroke-width="0.3"/>
<circle cx="160.97" cy="157.12" r="1.95" fill="#e4262d" stroke="#cc2029" stroke-width="0.3"/>
<circle cx="219.60" cy="144.20" r="1.95" fill="#e4262d" stroke="#cc2029" stroke-width="0.3"/>
<circle cx="161.75" cy="151.52" r="1.95" fill="#e4262d" stroke="#cc2029" stroke-width="0.3"/>
<circle cx="127.71" cy="170.68" r="1.95" fill="#e4262d" stroke="#cc2029" stroke-width="0.3"/>
<circle cx="173.14" cy="180.18" r="1.95" fill="#e4262d" stroke="#cc2029" stroke-width="0.3"/>
<circle cx="123.17" cy="170.24" r="1.95" fill="#e4262d" stroke="#cc2029" stroke-width="0.3"/>
<circle cx="166.87" cy="178.36" r="1.95" fill="#e4262d" stroke="#cc2029" stroke-width="0.3"/>
<circle cx="104.70" cy="180.82" r="1.95" fill="#e4262d" stroke="#cc2029" stroke-width="0.3"/>
<circle cx="157.10" cy="146.87" r="1.95" fill="#e4262d" stroke="#cc2029" stroke-width="0.3"/>
<circle cx="159.27" cy="156.21" r="1.95" fill="#e4262d" stroke="#cc2029" stroke-width="0.3"/>
<circle cx="125.52" cy="145.69" r="1.95" fill="#e4262d" stroke="#cc2029" stroke-width="0.3"/>
<circle cx="180.88" cy="172.55" r="1.95" fill="#e4262d" stroke="#cc2029" stroke-width="0.3"/>
<circle cx="124.77" cy="164.97" r="1.95" fill="#e4262d" stroke="#cc2029" stroke-width="0.3"/>
<circle cx="180.95" cy="178.47" r="1.95" fill="#e4262d" stroke="#cc2029" stroke-width="0.3"/>
<circle cx="163.48" cy="182.31" r="1.95" fill="#e4262d" stroke="#cc2029" stroke-width="0.3"/>
<circle cx="156.66" cy="136.72" r="1.95" fill="#e4262d" stroke="#cc2029" stroke-width="0.3"/>
<circle cx="159.35" cy="172.39" r="1.95" fill="#e4262d" stroke="#cc2029" stroke-width="0.3"/>
<circle cx="119.24" cy="160.26" r="1.95" fill="#e4262d" stroke="#cc2029" stroke-width="0.3"/>
<circle cx="110.91" cy="177.51" r="1.95" fill="#e4262d" stroke="#cc2029" stroke-width="0.3"/>
<circle cx="127.12" cy="173.71" r="1.95" fill="#e4262d" stroke="#cc2029" stroke-width="0.3"/>
<circle cx="155.37" cy="184.02" r="1.95" fill="#e4262d" stroke="#cc2029" stroke-width="0.3"/>
<circle cx="123.41" cy="177.02" r="1.95" fill="#e4262d" stroke="#cc2029" stroke-width="0.3"/>
<circle cx="176.29" cy="167.72" r="1.95" fill="#e4262d" stroke="#cc2029" stroke-width="0.3"/>
<circle cx="106.37" cy="165.27" r="1.95" fill="#e4262d" stroke="#cc2029" stroke-width="0.3"/>
<circle cx="167.47" cy="182.23" r="1.95" fill="#e4262d" stroke="#cc2029" stroke-width="0.3"/>
<circle cx="128.95" cy="179.69" r="1.95" fill="#e4262d" stroke="#cc2029" stroke-width="0.3"/>
<circle cx="167.50" cy="117.50" r="1.95" fill="#e4262d" stroke="#cc2029" stroke-width="0.3"/>
<circle cx="155.40" cy="183.69" r="1.95" fill="#e4262d" stroke="#cc2029" stroke-width="0.3"/>
<circle cx="155.97" cy="170.17" r="1.95" fill="#e4262d" stroke="#cc2029" stroke-width="0.3"/>
<circle cx="160.04" cy="166.81" r="1.95" fill="#e4262d" stroke="#cc2029" stroke-width="0.3"/>
<circle cx="156.50" cy="173.78" r="1.95" fill="#e4262d" stroke="#cc2029" stroke-width="0.3"/>
<circle cx="162.03" cy="168.12" r="1.95" fill="#e4262d" stroke="#cc2029" stroke-width="0.3"/>
<circle cx="158.99" cy="165.67" r="1.95" fill="#e4262d" stroke="#cc2029" stroke-width="0.3"/>
<circle cx="122.42" cy="135.73" r="1.95" fill="#e4262d" stroke="#cc2029" stroke-width="0.3"/>
<circle cx="162.42" cy="177.75" r="1.95" fill="#e4262d" stroke="#cc2029" stroke-width="0.3"/>
<circle cx="177.15" cy="184.67" r="1.95" fill="#e4262d" stroke="#cc2029" stroke-width="0.3"/>
<circle cx="110.95" cy="154.41" r="1.95" fill="#e4262d" stroke="#cc2029" stroke-width="0.3"/>
<circle cx="127.50" cy="180.49" r="1.95" fill="#e4262d" stroke="#cc2029" stroke-width="0.3"/>
<circle cx="180.57" cy="174.86" r="1.95" fill="#e4262d" stroke="#cc2029" stroke-width="0.3"/>
<circle cx="158.83" cy="175.34" r="1.95" fill="#e4262d" stroke="#cc2029" stroke-width="0.3"/>
<circle cx="157.60" cy="119.06" r="1.95" fill="#e4262d" stroke="#cc2029" stroke-width="0.3"/>
<circle cx="171.96" cy="169.64" r="1.95" fill="#e4262d" stroke="#cc2029" stroke-width="0.3"/>
<circle cx="127.50" cy="184.33" r="1.95" fill="#e4262d" stroke="#cc2029" stroke-width="0.3"/>
<circle cx="157.88" cy="182.13" r="1.95" fill="#e4262d" stroke="#cc2029" stroke-width="0.3"/>
<circle cx="163.47" cy="130.50" r="1.95" fill="#e4262d" stroke="#cc2029" stroke-width="0.3"/>
<circle cx="122.12" cy="180.42" r="1.95" fill="#e4262d" stroke="#cc2029" stroke-width="0.3"/>
<circle cx="112.17" cy="184.84" r="1.95" fill="#e4262d" stroke="#cc2029" stroke-width="0.3"/>
<circle cx="115.86" cy="183.46" r="1.95" fill="#e4262d" stroke="#cc2029" stroke-width="0.3"/>
<circle cx="130.94" cy="184.82" r="1.95" fill="#e4262d" stroke="#cc2029" stroke-width="0.3"/>
<circle cx="162.03" cy="138.65" r="1.95" fill="#e4262d" stroke="#cc2029" stroke-width="0.3"/>
<circle cx="178.72" cy="184.02" r="1.95" fill="#e4262d" stroke="#cc2029" stroke-width="0.3"/>
<circle cx="155.39" cy="173.49" r="1.95" fill="#e4262d" stroke="#cc2029" stroke-width="0.3"/>
<circle cx="130.26" cy="137.91" r="1.95" fill="#e4262d" stroke="#cc2029" stroke-width="0.3"/>
<circle cx="168.94" cy="110.50" r="1.95" fill="#e4262d" stroke="#cc2029" stroke-width="0.3"/>
<circle cx="159.41" cy="150.66" r="1.95" fill="#e4262d" stroke="#cc2029" stroke-width="0.3"/>
<circle cx="117.84" cy="171.64" r="1.95" fill="#e4262d" stroke="#cc2029" stroke-width="0.3"/>
<circle cx="130.98" cy="143.79" r="1.95" fill="#e4262d" stroke="#cc2029" stroke-width="0.3"/>
<circle cx="177.49" cy="177.23" r="1.95" fill="#e4262d" stroke="#cc2029" stroke-width="0.3"/>
<circle cx="160.54" cy="119.04" r="1.95" fill="#e4262d" stroke="#cc2029" stroke-width="0.3"/>
<circle cx="124.24" cy="146.33" r="1.95" fill="#e4262d" stroke="#cc2029" stroke-width="0.3"/>
<circle cx="130.51" cy="177.33" r="1.95" fill="#e4262d" stroke="#cc2029" stroke-width="0.3"/>
<circle cx="154.83" cy="116.23" r="1.95" fill="#e4262d" stroke="#cc2029" stroke-width="0.3"/>
<circle cx="156.40" cy="153.15" r="1.95" fill="#e4262d" stroke="#cc2029" stroke-width="0.3"/>
<circle cx="156.30" cy="172.30" r="1.95" fill="#e4262d" stroke="#cc2029" stroke-width="0.3"/>
<circle cx="160.76" cy="175.33" r="1.95" fill="#e4262d" stroke="#cc2029" stroke-width="0.3"/>
<circle cx="174.85" cy="155.26" r="1.95" fill="#e4262d" stroke="#cc2029" stroke-width="0.3"/>
<circle cx="114.90" cy="174.21" r="1.95" fill="#e4262d" stroke="#cc2029" stroke-width="0.3"/>
<circle cx="155.25" cy="173.25" r="1.95" fill="#e4262d" stroke="#cc2029" stroke-width="0.3"/>
<circle cx="129.97" cy="157.08" r="1.95" fill="#e4262d" stroke="#cc2029" stroke-width="0.3"/>
<circle cx="165.61" cy="176.10" r="1.95" fill="#e4262d" stroke="#cc2029" stroke-width="0.3"/>
<circle cx="127.14" cy="134.62" r="1.95" fill="#e4262d" stroke="#cc2029" stroke-width="0.3"/>
<circle cx="117.02" cy="180.70" r="1.95" fill="#e4262d" stroke="#cc2029" stroke-width="0.3"/>
<circle cx="110.56" cy="182.00" r="1.95" fill="#e4262d" stroke="#cc2029" stroke-width="0.3"/>
<circle cx="155.43" cy="142.36" r="1.95" fill="#e4262d" stroke="#cc2029" stroke-width="0.3"/>
<circle cx="114.09" cy="170.81" r="1.95" fill="#e4262d" stroke="#cc2029" stroke-width="0.3"/>
<circle cx="173.93" cy="176.45" r="1.95" fill="#e4262d" stroke="#cc2029" stroke-width="0.3"/>
<circle cx="164.59" cy="172.12" r="1.95" fill="#e4262d" stroke="#cc2029" stroke-width="0.3"/>
<circle cx="165.22" cy="153.35" r="1.95" fill="#e4262d" stroke="#cc2029" stroke-width="0.3"/>
<circle cx="155.38" cy="173.77" r="1.95" fill="#e4262d" stroke="#cc2029" stroke-width="0.3"/>
<circle cx="172.87" cy="152.57" r="1.95" fill="#e4262d" stroke="#cc2029" stroke-width="0.3"/>
<circle cx="164.90" cy="183.27" r="1.95" fill="#e4262d" stroke="#cc2029" stroke-width="0.3"/>
<circle cx="171.25" cy="180.99" r="1.95" fill="#e4262d" stroke="#cc2029" stroke-width="0.3"/>
<circle cx="106.46" cy="183.30" r="1.95" fill="#e4262d" stroke="#cc2029" stroke-width="0.3"/>
<circle cx="128.43" cy="179.61" r="1.95" fill="#e4262d" stroke="#cc2029" stroke-width="0.3"/>
<circle cx="157.58" cy="182.35" r="1.95" fill="#e4262d" stroke="#cc2029" stroke-width="0.3"/>
<circle cx="155.08" cy="170.98" r="1.95" fill="#e4262d" stroke="#cc2029" stroke-width="0.3"/>
<circle cx="180.76" cy="178.27" r="1.95" fill="#e4262d" stroke="#cc2029" stroke-width="0.3"/>
<circle cx="161.05" cy="127.11" r="1.95" fill="#e4262d" stroke="#cc2029" stroke-width="0.3"/>
<circle cx="160.96" cy="177.39" r="1.95" fill="#e4262d" stroke="#cc2029" stroke-width="0.3"/>
<circle cx="169.54" cy="136.77" r="1.95" fill="#e4262d" stroke="#cc2029" stroke-width="0.3"/>
<circle cx="130.43" cy="172.51" r="1.95" fill="#e4262d" stroke="#cc2029" stroke-width="0.3"/>
<circle cx="125.70" cy="163.65" r="1.95" fill="#e4262d" stroke="#cc2029" stroke-width="0.3"/>
<circle cx="154.98" cy="170.36" r="1.95" fill="#e4262d" stroke="#cc2029" stroke-width="0.3"/>
<circle cx="127.95" cy="171.61" r="1.95" fill="#e4262d" stroke="#cc2029" stroke-width="0.3"/>
<circle cx="168.25" cy="104.50" r="1.95" fill="#e4262d" stroke="#cc2029" stroke-width="0.3"/>
<circle cx="114.76" cy="137.58" r="1.95" fill="#e4262d" stroke="#cc2029" stroke-width="0.3"/>
<circle cx="122.57" cy="173.36" r="1.95" fill="#e4262d" stroke="#cc2029" stroke-width="0.3"/>
<circle cx="156.67" cy="138.88" r="1.95" fill="#e4262d" stroke="#cc2029" stroke-width="0.3"/>
<circle cx="182.80" cy="135.80" r="1.95" fill="#e4262d" stroke="#cc2029" stroke-width="0.3"/>
<circle cx="164.00" cy="152.53" r="1.95" fill="#e4262d" stroke="#cc2029" stroke-width="0.3"/>
<circle cx="105.40" cy="126.00" r="1.95" fill="#e4262d" stroke="#cc2029" stroke-width="0.3"/>
<circle cx="167.77" cy="124.03" r="1.95" fill="#e4262d" stroke="#cc2029" stroke-width="0.3"/>
<circle cx="112.07" cy="167.09" r="1.95" fill="#e4262d" stroke="#cc2029" stroke-width="0.3"/>
<circle cx="128.34" cy="178.09" r="1.95" fill="#e4262d" stroke="#cc2029" stroke-width="0.3"/>
<circle cx="131.09" cy="183.32" r="1.95" fill="#e4262d" stroke="#cc2029" stroke-width="0.3"/>
<circle cx="114.00" cy="120.20" r="1.95" fill="#e4262d" stroke="#cc2029" stroke-width="0.3"/>
<circle cx="111.98" cy="172.33" r="1.95" fill="#e4262d" stroke="#cc2029" stroke-width="0.3"/>
<circle cx="170.91" cy="158.96" r="1.95" fill="#e4262d" stroke="#cc2029" stroke-width="0.3"/>
<circle cx="186.00" cy="170.00" r="1.95" fill="#e4262d" stroke="#cc2029" stroke-width="0.3"/>
<circle cx="192.30" cy="157.00" r="1.95" fill="#e4262d" stroke="#cc2029" stroke-width="0.3"/>
<circle cx="156.90" cy="171.88" r="1.95" fill="#e4262d" stroke="#cc2029" stroke-width="0.3"/>
<circle cx="130.94" cy="150.05" r="1.95" fill="#e4262d" stroke="#cc2029" stroke-width="0.3"/>
<circle cx="155.71" cy="174.12" r="1.95" fill="#e4262d" stroke="#cc2029" stroke-width="0.3"/>
<circle cx="167.30" cy="171.24" r="1.95" fill="#e4262d" stroke="#cc2029" stroke-width="0.3"/>
<circle cx="119.01" cy="177.52" r="1.95" fill="#e4262d" stroke="#cc2029" stroke-width="0.3"/>
<circle cx="98.30" cy="121.50" r="1.95" fill="#e4262d" stroke="#cc2029" stroke-width="0.3"/>
<circle cx="175.08" cy="178.36" r="1.95" fill="#e4262d" stroke="#cc2029" stroke-width="0.3"/>
<circle cx="173.24" cy="151.98" r="1.95" fill="#e4262d" stroke="#cc2029" stroke-width="0.3"/>
<circle cx="100.60" cy="115.00" r="1.95" fill="#e4262d" stroke="#cc2029" stroke-width="0.3"/>
<circle cx="214.50" cy="72.00" r="1.95" fill="#e4262d" stroke="#cc2029" stroke-width="0.3"/>
<circle cx="175.75" cy="171.97" r="1.95" fill="#e4262d" stroke="#cc2029" stroke-width="0.3"/>
<circle cx="111.13" cy="148.94" r="1.95" fill="#e4262d" stroke="#cc2029" stroke-width="0.3"/>
<circle cx="156.19" cy="182.05" r="1.95" fill="#e4262d" stroke="#cc2029" stroke-width="0.3"/>
<circle cx="160.39" cy="147.93" r="1.95" fill="#e4262d" stroke="#cc2029" stroke-width="0.3"/>
<circle cx="117.28" cy="179.24" r="1.95" fill="#e4262d" stroke="#cc2029" stroke-width="0.3"/>
<circle cx="112.46" cy="176.44" r="1.95" fill="#e4262d" stroke="#cc2029" stroke-width="0.3"/>
<circle cx="161.45" cy="178.65" r="1.95" fill="#e4262d" stroke="#cc2029" stroke-width="0.3"/>
<circle cx="168.75" cy="80.00" r="1.95" fill="#e4262d" stroke="#cc2029" stroke-width="0.3"/>
<circle cx="114.07" cy="184.33" r="1.95" fill="#e4262d" stroke="#cc2029" stroke-width="0.3"/>
<circle cx="162.94" cy="177.92" r="1.95" fill="#e4262d" stroke="#cc2029" stroke-width="0.3"/>
<circle cx="123.52" cy="178.49" r="1.95" fill="#e4262d" stroke="#cc2029" stroke-width="0.3"/>
<circle cx="155.24" cy="144.62" r="1.95" fill="#e4262d" stroke="#cc2029" stroke-width="0.3"/>
<circle cx="171.53" cy="173.03" r="1.95" fill="#e4262d" stroke="#cc2029" stroke-width="0.3"/>
<circle cx="159.98" cy="176.12" r="1.95" fill="#e4262d" stroke="#cc2029" stroke-width="0.3"/>
<circle cx="124.61" cy="154.64" r="1.95" fill="#e4262d" stroke="#cc2029" stroke-width="0.3"/>
<circle cx="125.46" cy="183.73" r="1.95" fill="#e4262d" stroke="#cc2029" stroke-width="0.3"/>
<circle cx="114.54" cy="184.33" r="1.95" fill="#e4262d" stroke="#cc2029" stroke-width="0.3"/>
<circle cx="166.31" cy="182.08" r="1.95" fill="#e4262d" stroke="#cc2029" stroke-width="0.3"/>
<circle cx="98.00" cy="138.50" r="1.95" fill="#e4262d" stroke="#cc2029" stroke-width="0.3"/>
<circle cx="163.80" cy="143.67" r="1.95" fill="#e4262d" stroke="#cc2029" stroke-width="0.3"/>
<circle cx="169.50" cy="90.50" r="1.95" fill="#e4262d" stroke="#cc2029" stroke-width="0.3"/>
<circle cx="164.14" cy="157.92" r="1.95" fill="#e4262d" stroke="#cc2029" stroke-width="0.3"/>
<circle cx="130.11" cy="184.95" r="1.95" fill="#e4262d" stroke="#cc2029" stroke-width="0.3"/>
<circle cx="181.16" cy="171.80" r="1.95" fill="#e4262d" stroke="#cc2029" stroke-width="0.3"/>
<circle cx="112.81" cy="167.89" r="1.95" fill="#e4262d" stroke="#cc2029" stroke-width="0.3"/>
<circle cx="126.87" cy="161.81" r="1.95" fill="#e4262d" stroke="#cc2029" stroke-width="0.3"/>
<circle cx="176.92" cy="158.41" r="1.95" fill="#e4262d" stroke="#cc2029" stroke-width="0.3"/>
<circle cx="176.50" cy="162.35" r="1.95" fill="#e4262d" stroke="#cc2029" stroke-width="0.3"/>
<circle cx="154.93" cy="152.62" r="1.95" fill="#e4262d" stroke="#cc2029" stroke-width="0.3"/>
<circle cx="117.29" cy="185.42" r="1.95" fill="#e4262d" stroke="#cc2029" stroke-width="0.3"/>
<circle cx="114.12" cy="184.50" r="1.95" fill="#e4262d" stroke="#cc2029" stroke-width="0.3"/>
<circle cx="166.62" cy="156.30" r="1.95" fill="#e4262d" stroke="#cc2029" stroke-width="0.3"/>
<circle cx="161.21" cy="157.97" r="1.95" fill="#e4262d" stroke="#cc2029" stroke-width="0.3"/>
<circle cx="182.56" cy="184.53" r="1.95" fill="#e4262d" stroke="#cc2029" stroke-width="0.3"/>
<circle cx="125.69" cy="183.40" r="1.95" fill="#e4262d" stroke="#cc2029" stroke-width="0.3"/>
<circle cx="126.69" cy="180.28" r="1.95" fill="#e4262d" stroke="#cc2029" stroke-width="0.3"/>
<circle cx="125.41" cy="148.03" r="1.95" fill="#e4262d" stroke="#cc2029" stroke-width="0.3"/>
<circle cx="162.68" cy="177.68" r="1.95" fill="#e4262d" stroke="#cc2029" stroke-width="0.3"/>
<circle cx="128.99" cy="131.03" r="1.95" fill="#e4262d" stroke="#cc2029" stroke-width="0.3"/>
<circle cx="127.21" cy="167.79" r="1.95" fill="#e4262d" stroke="#cc2029" stroke-width="0.3"/>
<circle cx="180.52" cy="184.02" r="1.95" fill="#e4262d" stroke="#cc2029" stroke-width="0.3"/>
<path d="M131.20,185.60 L131.20,226.00 L133.70,229.00 L137.20,235.80 L140.70,241.00 L143.30,243.60 L145.80,241.00 L149.30,235.80 L152.80,229.00 L154.60,226.00 L154.60,185.60 L145.30,185.60 L143.40,207.00 L141.50,185.60 L131.20,185.60" stroke="#575757" stroke-width="0.8" fill="#575757" stroke-linejoin="round"/>
<line x1="57.60" y1="18.00" x2="57.60" y2="252.30" stroke="#222" stroke-width="1.1"/>
<line x1="57.00" y1="252.00" x2="246.00" y2="252.00" stroke="#222" stroke-width="1.1"/>
<line x1="54.30" y1="240.50" x2="57.60" y2="240.50" stroke="#222" stroke-width="1"/>
<text x="52.30" y="242.70" font-size="6.3" fill="#444" stroke="#444" stroke-width="0.07" text-anchor="end">0</text>
<line x1="54.30" y1="198.15" x2="57.60" y2="198.15" stroke="#222" stroke-width="1"/>
<text x="52.30" y="200.35" font-size="6.3" fill="#444" stroke="#444" stroke-width="0.07" text-anchor="end">1</text>
<line x1="54.30" y1="155.80" x2="57.60" y2="155.80" stroke="#222" stroke-width="1"/>
<text x="52.30" y="158.00" font-size="6.3" fill="#444" stroke="#444" stroke-width="0.07" text-anchor="end">2</text>
<line x1="54.30" y1="113.45" x2="57.60" y2="113.45" stroke="#222" stroke-width="1"/>
<text x="52.30" y="115.65" font-size="6.3" fill="#444" stroke="#444" stroke-width="0.07" text-anchor="end">3</text>
<line x1="54.30" y1="71.10" x2="57.60" y2="71.10" stroke="#222" stroke-width="1"/>
<text x="52.30" y="73.30" font-size="6.3" fill="#444" stroke="#444" stroke-width="0.07" text-anchor="end">4</text>
<line x1="54.30" y1="28.75" x2="57.60" y2="28.75" stroke="#222" stroke-width="1"/>
<text x="52.30" y="30.95" font-size="6.3" fill="#444" stroke="#444" stroke-width="0.07" text-anchor="end">5</text>
<line x1="95.70" y1="252.00" x2="95.70" y2="255.20" stroke="#222" stroke-width="1"/>
<text x="95.70" y="264.20" font-size="6.3" fill="#444" stroke="#444" stroke-width="0.07" text-anchor="middle">−4</text>
<line x1="142.90" y1="252.00" x2="142.90" y2="255.20" stroke="#222" stroke-width="1"/>
<text x="142.90" y="264.20" font-size="6.3" fill="#444" stroke="#444" stroke-width="0.07" text-anchor="middle">0</text>
<line x1="190.10" y1="252.00" x2="190.10" y2="255.20" stroke="#222" stroke-width="1"/>
<text x="190.10" y="264.20" font-size="6.3" fill="#444" stroke="#444" stroke-width="0.07" text-anchor="middle">4</text>
<line x1="237.30" y1="252.00" x2="237.30" y2="255.20" stroke="#222" stroke-width="1"/>
<text x="237.30" y="264.20" font-size="6.3" fill="#444" stroke="#444" stroke-width="0.07" text-anchor="middle">8</text>
<line x1="131.20" y1="17.50" x2="131.20" y2="252.00" stroke="#2a2a2a" stroke-width="1.4" stroke-dasharray="6 3"/>
<line x1="154.80" y1="17.50" x2="154.80" y2="252.00" stroke="#2a2a2a" stroke-width="1.4" stroke-dasharray="6 3"/>
<line x1="57.60" y1="185.50" x2="245.00" y2="185.50" stroke="#2a2a2a" stroke-width="1.4" stroke-dasharray="6 3"/>
<text x="40.2" y="134.5" font-size="7.2" fill="#444" text-anchor="middle" transform="rotate(-90 40.2 134.5)">-log<tspan font-size="5" dy="1.6">10</tspan><tspan dy="-1.6">(</tspan><tspan font-style="italic">P</tspan>)</text>
<text x="151.8" y="275.5" font-size="8.8" fill="#333" text-anchor="middle" textLength="24" lengthAdjust="spacingAndGlyphs">log<tspan font-size="5.4" dy="1.8">2</tspan><tspan dy="-1.8">(FC)</tspan></text>
<circle cx="208.00" cy="20.40" r="3.6" fill="#575757"/>
<circle cx="208.00" cy="33.30" r="3.6" fill="#37a04f"/>
<circle cx="208.00" cy="46.20" r="3.6" fill="#5b7dc0"/>
<circle cx="208.00" cy="59.10" r="3.6" fill="#e4262d"/>
<text x="214.20" y="22.80" font-size="6.8" fill="#333" stroke="#333" stroke-width="0.07">NS</text>
<text x="214.2" y="35.8" font-size="6.8" fill="#333">|log<tspan font-size="4.6" dy="1.5">2</tspan><tspan dy="-1.5"> (FC)| &gt; 1</tspan></text>
<text x="214.2" y="48.7" font-size="6.8" fill="#333"><tspan font-style="italic">P</tspan> &lt; .05</text>
<text x="214.2" y="61.6" font-size="6.8" fill="#333"><tspan font-style="italic">P</tspan> &lt; .05 and |log<tspan font-size="4.6" dy="1.5">2</tspan><tspan dy="-1.5"> (FC)| &gt; 1</tspan></text>
<circle cx="184.20" cy="58.50" r="1.6" fill="#111"/>
<circle cx="214.40" cy="79.20" r="1.6" fill="#111"/>
<circle cx="214.00" cy="128.50" r="1.6" fill="#111"/>
<circle cx="103.80" cy="114.80" r="1.6" fill="#111"/>
<circle cx="111.70" cy="139.00" r="1.6" fill="#111"/>
<circle cx="163.00" cy="140.80" r="1.6" fill="#111"/>
<circle cx="164.60" cy="146.50" r="1.6" fill="#111"/>
<circle cx="160.80" cy="150.80" r="1.6" fill="#111"/>
<circle cx="171.50" cy="180.80" r="1.6" fill="#111"/>
<circle cx="196.20" cy="181.50" r="1.6" fill="#111"/>
<text x="166.30" y="68.70" font-size="8.3" fill="#111" font-weight="bold" textLength="27.90" lengthAdjust="spacingAndGlyphs">WNT5A</text>
<text x="198.00" y="90.00" font-size="8.3" fill="#111" font-weight="bold" textLength="26.00" lengthAdjust="spacingAndGlyphs">DPEP1</text>
<text x="209.20" y="126.00" font-size="8.3" fill="#111" font-weight="bold" textLength="21.60" lengthAdjust="spacingAndGlyphs">CDK6</text>
<text x="96.30" y="112.00" font-size="8.3" fill="#111" font-weight="bold" textLength="26.40" lengthAdjust="spacingAndGlyphs">DAPK1</text>
<text x="106.30" y="136.50" font-size="8.3" fill="#111" font-weight="bold" textLength="21.70" lengthAdjust="spacingAndGlyphs">LMO2</text>
<text x="144.60" y="137.70" font-size="8.3" fill="#111" font-weight="bold" textLength="27.70" lengthAdjust="spacingAndGlyphs">PIK3R3</text>
<text x="170.80" y="148.50" font-size="8.3" fill="#111" font-weight="bold" textLength="23.00" lengthAdjust="spacingAndGlyphs">MKI67</text>
<text x="155.40" y="158.50" font-size="8.3" fill="#111" font-weight="bold" textLength="23.00" lengthAdjust="spacingAndGlyphs">CSF1</text>
<text x="158.50" y="176.60" font-size="8.3" fill="#111" font-weight="bold" textLength="27.50" lengthAdjust="spacingAndGlyphs">PRKCA</text>
<text x="192.30" y="178.50" font-size="8.3" fill="#111" font-weight="bold" textLength="19.70" lengthAdjust="spacingAndGlyphs">CD28</text>
<line x1="164.60" y1="146.50" x2="170.50" y2="146.50" stroke="#111" stroke-width="1"/>
<text x="329.40" y="16.60" font-size="11.4" fill="#111" font-weight="bold">C</text>
<line x1="381.30" y1="28.00" x2="381.30" y2="114.60" stroke="#222" stroke-width="1.1"/>
<line x1="380.80" y1="114.10" x2="466.00" y2="114.10" stroke="#222" stroke-width="1.1"/>
<line x1="378.20" y1="113.90" x2="381.30" y2="113.90" stroke="#222" stroke-width="1"/>
<text x="375.80" y="116.15" font-size="6.4" fill="#333" stroke="#333" stroke-width="0.07" text-anchor="end">0</text>
<line x1="378.20" y1="85.85" x2="381.30" y2="85.85" stroke="#222" stroke-width="1"/>
<text x="375.80" y="88.10" font-size="6.4" fill="#333" stroke="#333" stroke-width="0.07" text-anchor="end" textLength="18.20" lengthAdjust="spacingAndGlyphs">20000</text>
<line x1="378.20" y1="57.80" x2="381.30" y2="57.80" stroke="#222" stroke-width="1"/>
<text x="375.80" y="60.05" font-size="6.4" fill="#333" stroke="#333" stroke-width="0.07" text-anchor="end" textLength="18.20" lengthAdjust="spacingAndGlyphs">40000</text>
<line x1="378.20" y1="29.75" x2="381.30" y2="29.75" stroke="#222" stroke-width="1"/>
<text x="375.80" y="32.00" font-size="6.4" fill="#333" stroke="#333" stroke-width="0.07" text-anchor="end" textLength="18.20" lengthAdjust="spacingAndGlyphs">60000</text>
<line x1="401.10" y1="114.10" x2="401.10" y2="116.80" stroke="#222" stroke-width="1"/>
<text x="401.10" y="127.20" font-size="6.9" fill="#333" stroke="#333" stroke-width="0.07" text-anchor="middle">IgM</text>
<line x1="446.10" y1="114.10" x2="446.10" y2="116.80" stroke="#222" stroke-width="1"/>
<text x="446.10" y="127.20" font-size="6.9" fill="#333" stroke="#333" stroke-width="0.07" text-anchor="middle">CD19</text>
<text x="351.40" y="70.20" font-size="7.2" fill="#333" stroke="#333" stroke-width="0.07" text-anchor="middle" textLength="84.00" lengthAdjust="spacingAndGlyphs" transform="rotate(-90 351.40 70.20)">Mean flourescence intensity</text>
<line x1="381.30" y1="28.10" x2="407.80" y2="28.10" stroke="#222" stroke-width="1"/>
<text x="383.00" y="26.00" font-size="6.8" fill="#222" stroke="#222" stroke-width="0.07" textLength="24.50" lengthAdjust="spacingAndGlyphs">P = .0195</text>
<circle cx="445.70" cy="33.60" r="1.6" fill="#2e9e45"/>
<text x="450.40" y="36.20" font-size="7.2" fill="#333" stroke="#333" stroke-width="0.07" textLength="10.20" lengthAdjust="spacingAndGlyphs">Pre</text>
<rect x="444.10" y="43.60" width="3.20" height="3.20" fill="#f0961f"/>
<text x="450.40" y="47.80" font-size="7.2" fill="#333" stroke="#333" stroke-width="0.07" textLength="13.20" lengthAdjust="spacingAndGlyphs">Post</text>
<circle cx="392.80" cy="65.70" r="1.6" fill="#2e9e45"/>
<circle cx="388.60" cy="107.20" r="1.55" fill="#2e9e45"/>
<circle cx="392.00" cy="106.80" r="1.55" fill="#2e9e45"/>
<circle cx="395.40" cy="107.00" r="1.55" fill="#2e9e45"/>
<circle cx="397.60" cy="107.50" r="1.55" fill="#2e9e45"/>
<circle cx="389.20" cy="110.20" r="1.55" fill="#2e9e45"/>
<circle cx="392.60" cy="110.40" r="1.55" fill="#2e9e45"/>
<circle cx="396.00" cy="110.00" r="1.55" fill="#2e9e45"/>
<circle cx="390.80" cy="108.60" r="1.55" fill="#2e9e45"/>
<circle cx="394.60" cy="108.80" r="1.55" fill="#2e9e45"/>
<line x1="392.80" y1="98.60" x2="392.80" y2="107.00" stroke="#2e9e45" stroke-width="0.9"/>
<line x1="390.20" y1="98.60" x2="395.40" y2="98.60" stroke="#2e9e45" stroke-width="0.9"/>
<line x1="386.90" y1="103.30" x2="398.30" y2="103.30" stroke="#1a1a1a" stroke-width="1.2"/>
<line x1="409.40" y1="85.30" x2="409.40" y2="107.00" stroke="#f0961f" stroke-width="0.9"/>
<line x1="407.40" y1="88.20" x2="411.40" y2="88.20" stroke="#f0961f" stroke-width="0.9"/>
<rect x="407.90" y="37.70" width="3.20" height="3.20" fill="#f0961f"/>
<rect x="407.80" y="83.70" width="3.20" height="3.20" fill="#f0961f"/>
<rect x="407.80" y="95.40" width="3.20" height="3.20" fill="#f0961f"/>
<rect x="403.60" y="105.60" width="12.10" height="4.00" fill="#f0961f" rx="1.8"/>
<line x1="404.00" y1="96.70" x2="415.20" y2="96.70" stroke="#1a1a1a" stroke-width="1.2"/>
<circle cx="432.50" cy="104.60" r="1.55" fill="#2e9e45"/>
<circle cx="436.00" cy="104.40" r="1.55" fill="#2e9e45"/>
<circle cx="439.60" cy="104.80" r="1.55" fill="#2e9e45"/>
<circle cx="442.50" cy="105.20" r="1.55" fill="#2e9e45"/>
<circle cx="433.00" cy="108.20" r="1.55" fill="#2e9e45"/>
<circle cx="437.50" cy="108.00" r="1.55" fill="#2e9e45"/>
<circle cx="441.50" cy="108.40" r="1.55" fill="#2e9e45"/>
<circle cx="433.60" cy="111.60" r="1.55" fill="#2e9e45"/>
<circle cx="437.80" cy="111.80" r="1.55" fill="#2e9e45"/>
<circle cx="441.80" cy="111.40" r="1.55" fill="#2e9e45"/>
<circle cx="435.60" cy="109.80" r="1.55" fill="#2e9e45"/>
<circle cx="439.80" cy="110.20" r="1.55" fill="#2e9e45"/>
<line x1="432.00" y1="107.90" x2="443.50" y2="107.90" stroke="#1f5a2c" stroke-width="0.8"/>
<path d="M448.5,107 Q449,105 452,105.4 L457,104.8 Q461,104.8 460.8,107.5 Q460.6,111.5 456,111.2 L453.5,111 L453,113.2 L451,113 L450.6,111 Q448,110.6 448.5,107 Z" fill="#f0961f"/>
<text x="329.40" y="164.80" font-size="11.4" fill="#111" font-weight="bold">D</text>
<text x="354.60" y="181.60" font-size="7.4" fill="#d84a52" stroke="#d84a52" stroke-width="0.07" textLength="15.20" lengthAdjust="spacingAndGlyphs">CLL7</text>
<text x="382.70" y="181.60" font-size="7.4" fill="#d84a52" stroke="#d84a52" stroke-width="0.07" textLength="15.20" lengthAdjust="spacingAndGlyphs">CLL5</text>
<text x="357.30" y="198.10" font-size="6.6" fill="#2e9e45" stroke="#2e9e45" stroke-width="0.07" textLength="8.70" lengthAdjust="spacingAndGlyphs" transform="rotate(-90 357.30 198.10)">pre</text>
<text x="371.05" y="198.10" font-size="6.6" fill="#f0961f" stroke="#f0961f" stroke-width="0.07" textLength="11.80" lengthAdjust="spacingAndGlyphs" transform="rotate(-90 371.05 198.10)">post</text>
<text x="384.20" y="198.10" font-size="6.6" fill="#2e9e45" stroke="#2e9e45" stroke-width="0.07" textLength="8.70" lengthAdjust="spacingAndGlyphs" transform="rotate(-90 384.20 198.10)">pre</text>
<text x="397.90" y="198.10" font-size="6.6" fill="#f0961f" stroke="#f0961f" stroke-width="0.07" textLength="11.80" lengthAdjust="spacingAndGlyphs" transform="rotate(-90 397.90 198.10)">post</text>
<defs><filter id="bl" x="-30%" y="-50%" width="160%" height="200%"><feGaussianBlur stdDeviation="0.9"/></filter><filter id="bl2" x="-30%" y="-80%" width="160%" height="260%"><feGaussianBlur stdDeviation="0.75"/></filter></defs>
<rect x="348.10" y="200.00" width="58.20" height="14.20" fill="#ececec"/>
<g filter="url(#bl)">
<rect x="349.40" y="206.40" width="11.80" height="4.20" fill="#0e0e0e" rx="1.5"/>
<rect x="363.30" y="203.80" width="11.00" height="8.20" fill="#0a0a0a" rx="2"/>
<rect x="376.60" y="206.80" width="11.20" height="3.90" fill="#121212" rx="1.5"/>
<path d="M390.6,204.6 L402.5,203.2 L402.5,209.5 L390.6,210.3 Z" fill="#141414"/>
</g>
<rect x="348.10" y="200.00" width="58.20" height="14.20" fill="none" stroke="#1e1e1e" stroke-width="1.1"/>
<text x="345.30" y="210.40" font-size="7.3" fill="#333" stroke="#333" stroke-width="0.07" text-anchor="end">pERK</text>
<rect x="348.10" y="217.50" width="58.20" height="17.00" fill="#efefef"/>
<g filter="url(#bl2)">
<path d="M349.60,223.60 L360.40,223.60 L360.40,231.00 L349.60,231.00 Z" fill="#c4c4c4"/>
<path d="M349.60,224.60 L360.40,224.60 L360.40,226.40 L349.60,226.40 Z" fill="#7a7a7a"/>
<path d="M349.60,227.90 L360.40,227.90 L360.40,230.40 L349.60,230.40 Z" fill="#4a4a4a"/>
<path d="M363.20,223.60 L374.20,223.60 L374.20,231.00 L363.20,231.00 Z" fill="#c4c4c4"/>
<path d="M363.20,224.60 L374.20,224.60 L374.20,226.40 L363.20,226.40 Z" fill="#7a7a7a"/>
<path d="M363.20,227.90 L374.20,227.90 L374.20,230.40 L363.20,230.40 Z" fill="#4a4a4a"/>
<path d="M376.80,223.60 L387.40,223.60 L387.40,231.00 L376.80,231.00 Z" fill="#c4c4c4"/>
<path d="M376.80,224.60 L387.40,224.60 L387.40,226.40 L376.80,226.40 Z" fill="#7a7a7a"/>
<path d="M376.80,227.90 L387.40,227.90 L387.40,230.40 L376.80,230.40 Z" fill="#4a4a4a"/>
<path d="M390.40,223.60 L402.40,221.40 L402.40,228.80 L390.40,231.00 Z" fill="#c4c4c4"/>
<path d="M390.40,224.60 L402.40,222.40 L402.40,224.20 L390.40,226.40 Z" fill="#7a7a7a"/>
<path d="M390.40,227.90 L402.40,225.70 L402.40,228.20 L390.40,230.40 Z" fill="#4a4a4a"/>
</g>
<rect x="348.10" y="217.50" width="58.20" height="17.00" fill="none" stroke="#1e1e1e" stroke-width="1.1"/>
<text x="345.30" y="228.80" font-size="7.3" fill="#333" stroke="#333" stroke-width="0.07" text-anchor="end">ERK</text>
<line x1="442.00" y1="162.10" x2="442.00" y2="244.00" stroke="#222" stroke-width="1.1"/>
<line x1="441.50" y1="243.50" x2="500.50" y2="243.50" stroke="#222" stroke-width="1.1"/>
<line x1="439.00" y1="243.50" x2="442.00" y2="243.50" stroke="#222" stroke-width="1"/>
<text x="436.90" y="245.80" font-size="6.6" fill="#333" stroke="#333" stroke-width="0.07" text-anchor="end">0</text>
<line x1="439.00" y1="223.70" x2="442.00" y2="223.70" stroke="#222" stroke-width="1"/>
<text x="436.90" y="226.00" font-size="6.6" fill="#333" stroke="#333" stroke-width="0.07" text-anchor="end">1</text>
<line x1="439.00" y1="203.90" x2="442.00" y2="203.90" stroke="#222" stroke-width="1"/>
<text x="436.90" y="206.20" font-size="6.6" fill="#333" stroke="#333" stroke-width="0.07" text-anchor="end">2</text>
<line x1="439.00" y1="184.10" x2="442.00" y2="184.10" stroke="#222" stroke-width="1"/>
<text x="436.90" y="186.40" font-size="6.6" fill="#333" stroke="#333" stroke-width="0.07" text-anchor="end">3</text>
<line x1="439.00" y1="164.30" x2="442.00" y2="164.30" stroke="#222" stroke-width="1"/>
<text x="436.90" y="166.60" font-size="6.6" fill="#333" stroke="#333" stroke-width="0.07" text-anchor="end">4</text>
<text x="428.20" y="202.70" font-size="7.5" fill="#333" stroke="#333" stroke-width="0.07" text-anchor="middle" textLength="46.60" lengthAdjust="spacingAndGlyphs" transform="rotate(-90 428.20 202.70)">pERK / total ERK</text>
<line x1="459.30" y1="243.50" x2="459.30" y2="246.00" stroke="#222" stroke-width="1"/>
<text x="459.30" y="254.90" font-size="7.0" fill="#333" stroke="#333" stroke-width="0.07" text-anchor="middle">pre</text>
<line x1="484.40" y1="243.50" x2="484.40" y2="246.00" stroke="#222" stroke-width="1"/>
<text x="484.40" y="254.90" font-size="7.0" fill="#333" stroke="#333" stroke-width="0.07" text-anchor="middle">post</text>
<path d="M459.30,175.60 L459.30,171.60 L484.40,171.60 L484.40,175.60" stroke="#333" stroke-width="0.9" fill="none"/>
<text x="471.80" y="168.80" font-size="6.9" fill="#333" stroke="#333" stroke-width="0.07" text-anchor="middle" textLength="23.00" lengthAdjust="spacingAndGlyphs">P = .062</text>
<line x1="459.30" y1="212.81" x2="484.40" y2="184.10" stroke="#222" stroke-width="1.15"/>
<line x1="459.30" y1="222.71" x2="484.40" y2="208.26" stroke="#222" stroke-width="1.15"/>
<line x1="459.30" y1="232.21" x2="484.40" y2="216.37" stroke="#222" stroke-width="1.15"/>
<line x1="459.30" y1="241.52" x2="484.40" y2="236.17" stroke="#222" stroke-width="1.15"/>
<line x1="459.30" y1="242.71" x2="484.40" y2="240.53" stroke="#222" stroke-width="1.15"/>
<circle cx="459.30" cy="212.81" r="1.5" fill="#2e9e45"/>
<rect x="482.90" y="182.60" width="3.00" height="3.00" fill="#f0961f"/>
<circle cx="459.30" cy="222.71" r="1.5" fill="#2e9e45"/>
<rect x="482.90" y="206.76" width="3.00" height="3.00" fill="#f0961f"/>
<circle cx="459.30" cy="232.21" r="1.5" fill="#2e9e45"/>
<rect x="482.90" y="214.87" width="3.00" height="3.00" fill="#f0961f"/>
<circle cx="459.30" cy="241.52" r="1.5" fill="#2e9e45"/>
<rect x="482.90" y="234.67" width="3.00" height="3.00" fill="#f0961f"/>
<circle cx="459.30" cy="242.71" r="1.5" fill="#2e9e45"/>
<rect x="482.90" y="239.03" width="3.00" height="3.00" fill="#f0961f"/>
<text x="9.60" y="286.20" font-size="11.4" fill="#111" font-weight="bold">B</text>
<defs><filter id="hb" x="-5%" y="-5%" width="110%" height="110%"><feGaussianBlur stdDeviation="0.45 0.01"/></filter></defs>
<text x="102.00" y="295.60" font-size="6.6" fill="#333" stroke="#333" stroke-width="0.07" text-anchor="middle" textLength="47.70" lengthAdjust="spacingAndGlyphs">Enrichment plot:</text>
<text x="102.00" y="302.60" font-size="6.6" fill="#333" stroke="#333" stroke-width="0.07" text-anchor="middle" textLength="25.00" lengthAdjust="spacingAndGlyphs">NFκB-10</text>
<path d="M39.30,307.50 L163.60,307.50 L163.60,430.20" stroke="#dcdcdc" stroke-width="0.8" fill="none"/>
<line x1="39.30" y1="365.80" x2="163.60" y2="365.80" stroke="#d8d8d8" stroke-width="0.8"/>
<line x1="39.30" y1="355.60" x2="163.60" y2="355.60" stroke="#d0d0d0" stroke-width="0.8"/>
<line x1="39.30" y1="307.50" x2="39.30" y2="430.20" stroke="#d6d6d6" stroke-width="0.7"/>
<line x1="37.70" y1="311.50" x2="39.30" y2="311.50" stroke="#555" stroke-width="0.8"/>
<text x="36.40" y="313.95" font-size="6.9" fill="#333" stroke="#333" stroke-width="0.07" text-anchor="end" textLength="12.40" lengthAdjust="spacingAndGlyphs">0.35</text>
<line x1="37.70" y1="324.10" x2="39.30" y2="324.10" stroke="#555" stroke-width="0.8"/>
<text x="36.40" y="326.55" font-size="6.9" fill="#333" stroke="#333" stroke-width="0.07" text-anchor="end" textLength="12.40" lengthAdjust="spacingAndGlyphs">0.25</text>
<line x1="37.70" y1="336.70" x2="39.30" y2="336.70" stroke="#555" stroke-width="0.8"/>
<text x="36.40" y="339.15" font-size="6.9" fill="#333" stroke="#333" stroke-width="0.07" text-anchor="end" textLength="12.40" lengthAdjust="spacingAndGlyphs">0.15</text>
<line x1="37.70" y1="349.30" x2="39.30" y2="349.30" stroke="#555" stroke-width="0.8"/>
<text x="36.40" y="351.75" font-size="6.9" fill="#333" stroke="#333" stroke-width="0.07" text-anchor="end" textLength="12.40" lengthAdjust="spacingAndGlyphs">0.05</text>
<line x1="37.70" y1="361.90" x2="39.30" y2="361.90" stroke="#555" stroke-width="0.8"/>
<text x="36.40" y="364.35" font-size="6.9" fill="#333" stroke="#333" stroke-width="0.07" text-anchor="end" textLength="16.20" lengthAdjust="spacingAndGlyphs">−0.05</text>
<path d="M39.30,354.50 L40.00,343.27 L41.00,340.25 L42.50,333.31 L45.00,324.65 L47.50,319.18 L50.00,315.40 L52.50,317.22 L55.00,315.15 L56.88,314.67 L58.75,314.20 L60.50,312.60 L62.50,309.63 L65.00,311.34 L67.50,312.51 L69.25,312.55 L71.00,313.09 L73.00,312.93 L75.00,313.44 L76.67,314.88 L78.33,314.99 L80.00,315.70 L81.67,317.08 L83.33,320.00 L85.00,321.24 L86.67,322.87 L88.33,324.99 L90.00,325.39 L91.67,326.35 L93.33,327.98 L95.00,330.03 L96.67,331.77 L98.33,331.92 L100.00,334.42 L101.67,337.09 L103.33,337.92 L105.00,340.08 L106.67,341.62 L108.33,344.04 L110.00,344.10 L111.67,345.91 L113.33,347.31 L115.00,348.00 L116.67,349.62 L118.33,350.48 L120.00,351.33 L121.67,352.15 L123.33,352.59 L125.00,354.23 L126.67,354.66 L128.33,356.39 L130.00,356.13 L131.67,357.27 L133.33,358.94 L135.00,359.83 L136.50,360.45 L138.00,360.02 L139.50,360.83 L141.00,361.26 L142.50,360.99 L144.17,360.05 L145.83,361.14 L147.50,360.86 L149.00,362.15 L150.00,357.54 L152.00,356.19 L153.50,355.95 L155.00,355.35 L157.00,353.83 L158.50,353.75" stroke="#b8dc8c" stroke-width="2.0" fill="none" stroke-linejoin="round" opacity="0.5"/>
<path d="M39.30,354.50 L40.00,343.27 L41.00,340.25 L42.50,333.31 L45.00,324.65 L47.50,319.18 L50.00,315.40 L52.50,317.22 L55.00,315.15 L56.88,314.67 L58.75,314.20 L60.50,312.60 L62.50,309.63 L65.00,311.34 L67.50,312.51 L69.25,312.55 L71.00,313.09 L73.00,312.93 L75.00,313.44 L76.67,314.88 L78.33,314.99 L80.00,315.70 L81.67,317.08 L83.33,320.00 L85.00,321.24 L86.67,322.87 L88.33,324.99 L90.00,325.39 L91.67,326.35 L93.33,327.98 L95.00,330.03 L96.67,331.77 L98.33,331.92 L100.00,334.42 L101.67,337.09 L103.33,337.92 L105.00,340.08 L106.67,341.62 L108.33,344.04 L110.00,344.10 L111.67,345.91 L113.33,347.31 L115.00,348.00 L116.67,349.62 L118.33,350.48 L120.00,351.33 L121.67,352.15 L123.33,352.59 L125.00,354.23 L126.67,354.66 L128.33,356.39 L130.00,356.13 L131.67,357.27 L133.33,358.94 L135.00,359.83 L136.50,360.45 L138.00,360.02 L139.50,360.83 L141.00,361.26 L142.50,360.99 L144.17,360.05 L145.83,361.14 L147.50,360.86 L149.00,362.15 L150.00,357.54 L152.00,356.19 L153.50,355.95 L155.00,355.35 L157.00,353.83 L158.50,353.75" stroke="#68aa3a" stroke-width="1.1" fill="none" stroke-linejoin="round"/>
<text x="129.20" y="316.30" font-size="6.2" fill="#222" textLength="27.2" lengthAdjust="spacingAndGlyphs"><tspan font-style="italic">P</tspan> = .0001</text>
<text x="129.20" y="322.40" font-size="6.2" fill="#222" stroke="#222" stroke-width="0.07" textLength="31.00" lengthAdjust="spacingAndGlyphs">q = 0.0174</text>
<g filter="url(#hb)">
<rect x="39.30" y="366.10" width="1.73" height="19.40" fill="#323232"/>
<rect x="40.98" y="366.10" width="2.43" height="19.40" fill="#828282"/>
<rect x="43.37" y="366.10" width="1.84" height="19.40" fill="#6e6e6e"/>
<rect x="45.15" y="366.10" width="2.43" height="19.40" fill="#8c8c8c"/>
<rect x="47.54" y="366.10" width="1.84" height="19.40" fill="#282828"/>
<rect x="49.33" y="366.10" width="1.84" height="19.40" fill="#c8c8c8"/>
<rect x="52.90" y="366.10" width="1.84" height="19.40" fill="#969696"/>
<rect x="54.69" y="366.10" width="2.43" height="19.40" fill="#464646"/>
<rect x="57.08" y="366.10" width="1.84" height="19.40" fill="#aaaaaa"/>
<rect x="60.65" y="366.10" width="2.43" height="19.40" fill="#323232"/>
<rect x="63.04" y="366.10" width="1.84" height="19.40" fill="#dcdcdc"/>
<rect x="67.21" y="366.10" width="1.84" height="19.40" fill="#8c8c8c"/>
<rect x="69.00" y="366.10" width="4.82" height="19.40" fill="#787878"/>
<rect x="73.77" y="366.10" width="2.43" height="19.40" fill="#a0a0a0"/>
<rect x="76.15" y="366.10" width="2.43" height="19.40" fill="#3c3c3c"/>
<rect x="81.52" y="366.10" width="1.84" height="19.40" fill="#d2d2d2"/>
<rect x="83.31" y="366.10" width="2.43" height="19.40" fill="#505050"/>
<rect x="85.69" y="366.10" width="2.43" height="19.40" fill="#dcdcdc"/>
<rect x="88.08" y="366.10" width="2.43" height="19.40" fill="#a0a0a0"/>
<rect x="92.85" y="366.10" width="3.63" height="19.40" fill="#e6e6e6"/>
<rect x="96.42" y="366.10" width="1.24" height="19.40" fill="#464646"/>
<rect x="98.00" y="366.10" width="1.28" height="19.40" fill="#3c3c3c"/>
<rect x="101.08" y="366.10" width="1.90" height="19.40" fill="#aaaaaa"/>
<rect x="102.92" y="366.10" width="3.13" height="19.40" fill="#969696"/>
<rect x="106.00" y="366.10" width="1.28" height="19.40" fill="#464646"/>
<rect x="109.08" y="366.10" width="1.90" height="19.40" fill="#c8c8c8"/>
<rect x="110.92" y="366.10" width="3.13" height="19.40" fill="#8c8c8c"/>
<rect x="114.00" y="366.10" width="1.90" height="19.40" fill="#505050"/>
<rect x="115.85" y="366.10" width="1.90" height="19.40" fill="#aaaaaa"/>
<rect x="117.69" y="366.10" width="3.13" height="19.40" fill="#a0a0a0"/>
<rect x="120.77" y="366.10" width="1.90" height="19.40" fill="#3c3c3c"/>
<rect x="122.62" y="366.10" width="4.97" height="19.40" fill="#787878"/>
<rect x="127.54" y="366.10" width="2.51" height="19.40" fill="#d2d2d2"/>
<rect x="132.46" y="366.10" width="2.51" height="19.40" fill="#c8c8c8"/>
<rect x="134.92" y="366.10" width="1.90" height="19.40" fill="#505050"/>
<rect x="136.77" y="366.10" width="1.90" height="19.40" fill="#969696"/>
<rect x="138.62" y="366.10" width="2.51" height="19.40" fill="#c8c8c8"/>
<rect x="141.08" y="366.10" width="1.90" height="19.40" fill="#5a5a5a"/>
<rect x="142.92" y="366.10" width="1.28" height="19.40" fill="#969696"/>
<rect x="144.15" y="366.10" width="2.51" height="19.40" fill="#3c3c3c"/>
<rect x="146.62" y="366.10" width="3.13" height="19.40" fill="#dcdcdc"/>
<rect x="149.69" y="366.10" width="2.51" height="19.40" fill="#828282"/>
<rect x="152.15" y="366.10" width="1.90" height="19.40" fill="#3c3c3c"/>
<rect x="155.85" y="366.10" width="1.28" height="19.40" fill="#b4b4b4"/>
<rect x="157.08" y="366.10" width="1.28" height="19.40" fill="#dcdcdc"/>
</g>
<defs><linearGradient id="gr140149629349056" x1="0" x2="1" y1="0" y2="0"><stop offset="0" stop-color="#d91e2b"/><stop offset="0.19" stop-color="#da2331"/><stop offset="0.21" stop-color="#df3a50"/><stop offset="0.395" stop-color="#e24862"/><stop offset="0.415" stop-color="#f0aac4"/><stop offset="0.53" stop-color="#f0c4dc"/><stop offset="0.55" stop-color="#dcd4ee"/><stop offset="0.73" stop-color="#d4cce8"/><stop offset="0.75" stop-color="#5446ac"/><stop offset="0.87" stop-color="#4a3ca6"/><stop offset="0.89" stop-color="#3a2c98"/><stop offset="1" stop-color="#352893"/></linearGradient></defs>
<rect x="39.30" y="385.50" width="119.20" height="4.70" fill="url(#gr140149629349056)"/>
<path d="M39.30,410.80 L39.30,400.92 L40.29,403.09 L41.29,404.04 L42.28,404.69 L43.27,405.20 L44.27,405.50 L45.26,405.81 L46.25,406.11 L47.25,406.41 L48.24,406.72 L49.23,406.96 L50.23,407.12 L51.22,407.27 L52.21,407.43 L53.21,407.58 L54.20,407.74 L55.19,407.89 L56.19,408.05 L57.18,408.20 L58.17,408.27 L59.17,408.34 L60.16,408.42 L61.15,408.49 L62.15,408.56 L63.14,408.63 L64.13,408.71 L65.13,408.78 L66.12,408.85 L67.11,408.92 L68.11,408.99 L69.10,409.07 L70.09,409.14 L71.09,409.21 L72.08,409.28 L73.07,409.36 L74.07,409.43 L75.06,409.50 L76.05,409.57 L77.05,409.64 L78.04,409.70 L79.03,409.77 L80.03,409.84 L81.02,409.91 L82.01,409.97 L83.01,410.04 L84.00,410.11 L84.99,410.18 L85.99,410.24 L86.98,410.31 L87.97,410.38 L88.97,410.45 L89.96,410.52 L90.95,410.58 L91.95,410.65 L92.94,410.72 L93.93,410.79 L94.93,410.90 L95.92,411.02 L96.91,411.15 L97.91,411.27 L98.90,411.39 L99.89,411.52 L100.89,411.64 L101.88,411.77 L102.87,411.89 L103.87,412.01 L104.86,412.14 L105.85,412.26 L106.85,412.38 L107.84,412.51 L108.83,412.63 L109.83,412.76 L110.82,412.88 L111.81,412.93 L112.81,412.99 L113.80,413.04 L114.79,413.10 L115.79,413.15 L116.78,413.21 L117.77,413.26 L118.77,413.31 L119.76,413.37 L120.75,413.42 L121.75,413.48 L122.74,413.53 L123.73,413.58 L124.73,413.64 L125.72,413.69 L126.71,413.74 L127.71,413.79 L128.70,413.84 L129.69,413.89 L130.69,413.94 L131.68,413.99 L132.67,414.04 L133.67,414.09 L134.66,414.14 L135.65,414.19 L136.65,414.24 L137.64,414.29 L138.63,414.34 L139.63,414.39 L140.62,414.44 L141.61,414.55 L142.61,414.66 L143.60,414.77 L144.59,414.87 L145.59,414.98 L146.58,415.09 L147.57,415.20 L148.57,415.31 L149.56,415.42 L150.55,415.68 L151.55,416.17 L152.54,416.67 L153.53,417.16 L154.53,417.86 L155.52,419.38 L156.51,420.90 L157.51,423.51 L158.50,426.40 L158.50,410.80 Z" fill="#c9c9c9" stroke="#bdbdbd" stroke-width="0.4"/>
<line x1="39.30" y1="410.80" x2="158.50" y2="410.80" stroke="#b0b0b0" stroke-width="0.5"/>
<text x="92.94" y="411.60" font-size="2.2" fill="#777" stroke="#777" stroke-width="0.07">Zero cross at 7351</text>
<text x="35.30" y="397.50" font-size="6.5" fill="#333" stroke="#333" stroke-width="0.07" text-anchor="end" textLength="3.10" lengthAdjust="spacingAndGlyphs">6</text>
<line x1="37.70" y1="395.20" x2="39.30" y2="395.20" stroke="#555" stroke-width="0.8"/>
<text x="35.30" y="407.90" font-size="6.5" fill="#333" stroke="#333" stroke-width="0.07" text-anchor="end" textLength="3.10" lengthAdjust="spacingAndGlyphs">2</text>
<line x1="37.70" y1="405.60" x2="39.30" y2="405.60" stroke="#555" stroke-width="0.8"/>
<text x="35.30" y="418.30" font-size="6.5" fill="#333" stroke="#333" stroke-width="0.07" text-anchor="end" textLength="6.60" lengthAdjust="spacingAndGlyphs">−2</text>
<line x1="37.70" y1="416.00" x2="39.30" y2="416.00" stroke="#555" stroke-width="0.8"/>
<text x="35.30" y="428.60" font-size="6.5" fill="#333" stroke="#333" stroke-width="0.07" text-anchor="end" textLength="6.60" lengthAdjust="spacingAndGlyphs">−6</text>
<line x1="37.70" y1="426.30" x2="39.30" y2="426.30" stroke="#555" stroke-width="0.8"/>
<line x1="39.30" y1="430.20" x2="163.60" y2="430.20" stroke="#dcdcdc" stroke-width="0.7"/>
<text x="44.40" y="395.40" font-size="6.6" fill="#e23a48" stroke="#e23a48" stroke-width="0.07" textLength="20.00" lengthAdjust="spacingAndGlyphs">'na_pos'</text>
<text x="44.40" y="402.60" font-size="6.6" fill="#e23a48" stroke="#e23a48" stroke-width="0.07" textLength="55.00" lengthAdjust="spacingAndGlyphs">(positively correlated)</text>
<text x="98.00" y="420.00" font-size="6.6" fill="#4a3fa8" stroke="#4a3fa8" stroke-width="0.07" textLength="19.00" lengthAdjust="spacingAndGlyphs">'na_neg'</text>
<text x="98.00" y="427.00" font-size="6.6" fill="#4a3fa8" stroke="#4a3fa8" stroke-width="0.07" textLength="60.50" lengthAdjust="spacingAndGlyphs">(negatively correlated)</text>
<line x1="39.30" y1="429.00" x2="39.30" y2="430.20" stroke="#666" stroke-width="0.7"/>
<text x="39.30" y="438.80" font-size="6.6" fill="#333" stroke="#333" stroke-width="0.07" text-anchor="middle">0</text>
<line x1="75.15" y1="429.00" x2="75.15" y2="430.20" stroke="#666" stroke-width="0.7"/>
<text x="75.15" y="438.80" font-size="6.6" fill="#333" stroke="#333" stroke-width="0.07" text-anchor="middle">4,000</text>
<line x1="111.00" y1="429.00" x2="111.00" y2="430.20" stroke="#666" stroke-width="0.7"/>
<text x="111.00" y="438.80" font-size="6.6" fill="#333" stroke="#333" stroke-width="0.07" text-anchor="middle">8,000</text>
<line x1="146.85" y1="429.00" x2="146.85" y2="430.20" stroke="#666" stroke-width="0.7"/>
<text x="146.85" y="438.80" font-size="6.6" fill="#333" stroke="#333" stroke-width="0.07" text-anchor="middle">12,000</text>
<text x="67.10" y="450.40" font-size="8.6" fill="#222" stroke="#222" stroke-width="0.07" textLength="71.00" lengthAdjust="spacingAndGlyphs">Rank in ordered dataset</text>
<line x1="16.90" y1="459.20" x2="21.90" y2="459.20" stroke="#68aa3a" stroke-width="1.0"/>
<text x="23.90" y="461.10" font-size="6.6" fill="#333" stroke="#333" stroke-width="0.07" textLength="47.50" lengthAdjust="spacingAndGlyphs">Enrichment profile</text>
<line x1="76.40" y1="459.20" x2="81.40" y2="459.20" stroke="#111" stroke-width="1.3"/>
<text x="84.30" y="461.10" font-size="6.6" fill="#333" stroke="#333" stroke-width="0.07" textLength="8.90" lengthAdjust="spacingAndGlyphs">Hits</text>
<line x1="99.90" y1="459.20" x2="104.40" y2="459.20" stroke="#cccccc" stroke-width="1.1"/>
<text x="106.90" y="461.10" font-size="6.6" fill="#333" stroke="#333" stroke-width="0.07" textLength="57.50" lengthAdjust="spacingAndGlyphs">Ranking metric scores</text>
<text x="49.80" y="471.00" font-size="7.1" fill="#222" stroke="#222" stroke-width="0.07" textLength="104.20" lengthAdjust="spacingAndGlyphs">core enriched genes: NFκB2, BIRC3,</text>
<text x="57.60" y="478.40" font-size="7.1" fill="#222" stroke="#222" stroke-width="0.07" textLength="94.00" lengthAdjust="spacingAndGlyphs">MAP3K8, TNFAIP2, TNFSF13B</text>
<text x="14.70" y="339.50" font-size="7.6" fill="#222" stroke="#222" stroke-width="0.07" text-anchor="middle" textLength="64.00" lengthAdjust="spacingAndGlyphs" transform="rotate(-90 14.70 339.50)">Enrichment score (ES)</text>
<text x="15.00" y="409.20" font-size="7.6" fill="#222" stroke="#222" stroke-width="0.07" text-anchor="middle" textLength="54.00" lengthAdjust="spacingAndGlyphs" transform="rotate(-90 15.00 409.20)">Ranked list metric</text>
<text x="23.10" y="409.20" font-size="7.6" fill="#222" stroke="#222" stroke-width="0.07" text-anchor="middle" textLength="39.00" lengthAdjust="spacingAndGlyphs" transform="rotate(-90 23.10 409.20)">(PreRanked)</text>
<text x="267.50" y="295.60" font-size="6.6" fill="#333" stroke="#333" stroke-width="0.07" text-anchor="middle" textLength="47.70" lengthAdjust="spacingAndGlyphs">Enrichment plot:</text>
<text x="267.50" y="302.60" font-size="6.6" fill="#333" stroke="#333" stroke-width="0.07" text-anchor="middle" textLength="27.00" lengthAdjust="spacingAndGlyphs">PROFIL-2</text>
<path d="M200.90,307.50 L334.70,307.50 L334.70,430.20" stroke="#dcdcdc" stroke-width="0.8" fill="none"/>
<line x1="200.90" y1="365.80" x2="334.70" y2="365.80" stroke="#d8d8d8" stroke-width="0.8"/>
<line x1="200.90" y1="356.40" x2="334.70" y2="356.40" stroke="#d0d0d0" stroke-width="0.8"/>
<line x1="200.90" y1="307.50" x2="200.90" y2="430.20" stroke="#d6d6d6" stroke-width="0.7"/>
<line x1="199.30" y1="314.80" x2="200.90" y2="314.80" stroke="#555" stroke-width="0.8"/>
<text x="198.00" y="317.25" font-size="6.9" fill="#333" stroke="#333" stroke-width="0.07" text-anchor="end" textLength="8.80" lengthAdjust="spacingAndGlyphs">0.5</text>
<line x1="199.30" y1="323.12" x2="200.90" y2="323.12" stroke="#555" stroke-width="0.8"/>
<text x="198.00" y="325.57" font-size="6.9" fill="#333" stroke="#333" stroke-width="0.07" text-anchor="end" textLength="8.80" lengthAdjust="spacingAndGlyphs">0.4</text>
<line x1="199.30" y1="331.44" x2="200.90" y2="331.44" stroke="#555" stroke-width="0.8"/>
<text x="198.00" y="333.89" font-size="6.9" fill="#333" stroke="#333" stroke-width="0.07" text-anchor="end" textLength="8.80" lengthAdjust="spacingAndGlyphs">0.3</text>
<line x1="199.30" y1="339.76" x2="200.90" y2="339.76" stroke="#555" stroke-width="0.8"/>
<text x="198.00" y="342.21" font-size="6.9" fill="#333" stroke="#333" stroke-width="0.07" text-anchor="end" textLength="8.80" lengthAdjust="spacingAndGlyphs">0.2</text>
<line x1="199.30" y1="348.08" x2="200.90" y2="348.08" stroke="#555" stroke-width="0.8"/>
<text x="198.00" y="350.53" font-size="6.9" fill="#333" stroke="#333" stroke-width="0.07" text-anchor="end" textLength="8.80" lengthAdjust="spacingAndGlyphs">0.1</text>
<line x1="199.30" y1="356.40" x2="200.90" y2="356.40" stroke="#555" stroke-width="0.8"/>
<text x="198.00" y="358.85" font-size="6.9" fill="#333" stroke="#333" stroke-width="0.07" text-anchor="end" textLength="8.80" lengthAdjust="spacingAndGlyphs">0.0</text>
<line x1="199.30" y1="364.72" x2="200.90" y2="364.72" stroke="#555" stroke-width="0.8"/>
<text x="198.00" y="367.17" font-size="6.9" fill="#333" stroke="#333" stroke-width="0.07" text-anchor="end" textLength="12.60" lengthAdjust="spacingAndGlyphs">−0.1</text>
<path d="M200.90,356.40 L202.44,356.91 L203.99,358.78 L205.53,358.98 L207.07,359.95 L208.61,361.05 L210.16,361.52 L211.70,362.71 L213.00,348.37 L214.00,345.84 L215.50,343.70 L216.30,331.09 L218.00,333.37 L219.50,334.04 L221.00,331.99 L223.00,333.77 L224.50,329.23 L225.50,322.28 L227.00,317.08 L229.00,316.01 L231.00,312.72 L232.50,312.25 L234.00,311.92 L236.00,313.14 L238.00,311.46 L239.50,312.02 L241.00,312.53 L242.50,311.99 L244.00,311.26 L246.20,310.89 L248.10,311.03 L250.00,312.11 L252.00,313.68 L254.00,314.65 L255.50,314.08 L257.00,313.91 L258.50,314.75 L260.00,315.06 L261.43,316.68 L262.86,316.85 L264.29,317.78 L265.71,318.77 L267.14,320.11 L268.57,321.42 L270.00,322.06 L271.43,323.00 L272.86,323.14 L274.29,324.46 L275.71,325.65 L277.14,325.94 L278.57,327.27 L280.00,328.51 L281.60,327.81 L283.20,329.51 L284.80,329.92 L286.40,330.88 L288.00,331.11 L290.00,334.12 L292.00,334.21 L294.00,335.57 L296.00,335.67 L298.00,336.67 L300.00,336.91 L302.00,338.48 L304.00,339.51 L305.50,340.03 L307.00,341.02 L308.50,342.13 L310.00,343.09 L311.43,343.03 L312.86,345.27 L314.29,345.56 L315.71,346.36 L317.14,347.69 L318.57,348.45 L320.00,348.90 L321.51,350.93 L323.03,351.38 L324.54,352.31 L326.06,353.28 L327.57,354.84 L329.09,355.00 L330.60,356.40" stroke="#b8dc8c" stroke-width="2.0" fill="none" stroke-linejoin="round" opacity="0.5"/>
<path d="M200.90,356.40 L202.44,356.91 L203.99,358.78 L205.53,358.98 L207.07,359.95 L208.61,361.05 L210.16,361.52 L211.70,362.71 L213.00,348.37 L214.00,345.84 L215.50,343.70 L216.30,331.09 L218.00,333.37 L219.50,334.04 L221.00,331.99 L223.00,333.77 L224.50,329.23 L225.50,322.28 L227.00,317.08 L229.00,316.01 L231.00,312.72 L232.50,312.25 L234.00,311.92 L236.00,313.14 L238.00,311.46 L239.50,312.02 L241.00,312.53 L242.50,311.99 L244.00,311.26 L246.20,310.89 L248.10,311.03 L250.00,312.11 L252.00,313.68 L254.00,314.65 L255.50,314.08 L257.00,313.91 L258.50,314.75 L260.00,315.06 L261.43,316.68 L262.86,316.85 L264.29,317.78 L265.71,318.77 L267.14,320.11 L268.57,321.42 L270.00,322.06 L271.43,323.00 L272.86,323.14 L274.29,324.46 L275.71,325.65 L277.14,325.94 L278.57,327.27 L280.00,328.51 L281.60,327.81 L283.20,329.51 L284.80,329.92 L286.40,330.88 L288.00,331.11 L290.00,334.12 L292.00,334.21 L294.00,335.57 L296.00,335.67 L298.00,336.67 L300.00,336.91 L302.00,338.48 L304.00,339.51 L305.50,340.03 L307.00,341.02 L308.50,342.13 L310.00,343.09 L311.43,343.03 L312.86,345.27 L314.29,345.56 L315.71,346.36 L317.14,347.69 L318.57,348.45 L320.00,348.90 L321.51,350.93 L323.03,351.38 L324.54,352.31 L326.06,353.28 L327.57,354.84 L329.09,355.00 L330.60,356.40" stroke="#68aa3a" stroke-width="1.1" fill="none" stroke-linejoin="round"/>
<text x="302.20" y="315.40" font-size="6.2" fill="#222" textLength="27.2" lengthAdjust="spacingAndGlyphs"><tspan font-style="italic">P</tspan> = .0360</text>
<text x="302.20" y="321.90" font-size="6.2" fill="#222" stroke="#222" stroke-width="0.07" textLength="31.00" lengthAdjust="spacingAndGlyphs">q = 0.0020</text>
<g filter="url(#hb)">
<rect x="211.44" y="366.10" width="3.41" height="19.40" fill="#5a5a5a"/>
<rect x="216.15" y="366.10" width="2.07" height="19.40" fill="#8c8c8c"/>
<rect x="220.19" y="366.10" width="1.40" height="19.40" fill="#969696"/>
<rect x="222.88" y="366.10" width="3.41" height="19.40" fill="#464646"/>
<rect x="228.26" y="366.10" width="2.07" height="19.40" fill="#8c8c8c"/>
<rect x="232.97" y="366.10" width="2.74" height="19.40" fill="#828282"/>
<rect x="237.01" y="366.10" width="2.07" height="19.40" fill="#969696"/>
<rect x="241.72" y="366.10" width="2.07" height="19.40" fill="#8c8c8c"/>
<rect x="253.84" y="366.10" width="2.07" height="19.40" fill="#464646"/>
<rect x="257.20" y="366.10" width="2.74" height="19.40" fill="#828282"/>
<rect x="265.95" y="366.10" width="2.07" height="19.40" fill="#bebebe"/>
<rect x="265.67" y="366.10" width="1.13" height="19.40" fill="#bebebe"/>
<rect x="271.19" y="366.10" width="1.13" height="19.40" fill="#bebebe"/>
<rect x="277.92" y="366.10" width="1.13" height="19.40" fill="#b4b4b4"/>
<rect x="286.67" y="366.10" width="1.13" height="19.40" fill="#bebebe"/>
<rect x="292.73" y="366.10" width="1.13" height="19.40" fill="#b4b4b4"/>
<rect x="298.11" y="366.10" width="1.13" height="19.40" fill="#b4b4b4"/>
</g>
<defs><linearGradient id="gr140149629349184" x1="0" x2="1" y1="0" y2="0"><stop offset="0" stop-color="#d91e2b"/><stop offset="0.19" stop-color="#da2331"/><stop offset="0.21" stop-color="#df3a50"/><stop offset="0.395" stop-color="#e24862"/><stop offset="0.415" stop-color="#f0aac4"/><stop offset="0.53" stop-color="#f0c4dc"/><stop offset="0.55" stop-color="#dcd4ee"/><stop offset="0.73" stop-color="#d4cce8"/><stop offset="0.75" stop-color="#5446ac"/><stop offset="0.87" stop-color="#4a3ca6"/><stop offset="0.89" stop-color="#3a2c98"/><stop offset="1" stop-color="#352893"/></linearGradient></defs>
<rect x="200.90" y="385.50" width="129.70" height="4.70" fill="url(#gr140149629349184)"/>
<path d="M200.90,410.80 L200.90,400.92 L201.98,403.09 L203.06,404.04 L204.14,404.69 L205.22,405.20 L206.30,405.50 L207.39,405.81 L208.47,406.11 L209.55,406.41 L210.63,406.72 L211.71,406.96 L212.79,407.12 L213.87,407.27 L214.95,407.43 L216.03,407.58 L217.11,407.74 L218.19,407.89 L219.27,408.05 L220.36,408.20 L221.44,408.27 L222.52,408.34 L223.60,408.42 L224.68,408.49 L225.76,408.56 L226.84,408.63 L227.92,408.71 L229.00,408.78 L230.08,408.85 L231.16,408.92 L232.24,408.99 L233.33,409.07 L234.41,409.14 L235.49,409.21 L236.57,409.28 L237.65,409.36 L238.73,409.43 L239.81,409.50 L240.89,409.57 L241.97,409.64 L243.05,409.70 L244.13,409.77 L245.21,409.84 L246.30,409.91 L247.38,409.97 L248.46,410.04 L249.54,410.11 L250.62,410.18 L251.70,410.24 L252.78,410.31 L253.86,410.38 L254.94,410.45 L256.02,410.52 L257.10,410.58 L258.18,410.65 L259.26,410.72 L260.35,410.79 L261.43,410.90 L262.51,411.02 L263.59,411.15 L264.67,411.27 L265.75,411.39 L266.83,411.52 L267.91,411.64 L268.99,411.77 L270.07,411.89 L271.15,412.01 L272.24,412.14 L273.32,412.26 L274.40,412.38 L275.48,412.51 L276.56,412.63 L277.64,412.76 L278.72,412.88 L279.80,412.93 L280.88,412.99 L281.96,413.04 L283.04,413.10 L284.12,413.15 L285.21,413.21 L286.29,413.26 L287.37,413.31 L288.45,413.37 L289.53,413.42 L290.61,413.48 L291.69,413.53 L292.77,413.58 L293.85,413.64 L294.93,413.69 L296.01,413.74 L297.09,413.79 L298.18,413.84 L299.26,413.89 L300.34,413.94 L301.42,413.99 L302.50,414.04 L303.58,414.09 L304.66,414.14 L305.74,414.19 L306.82,414.24 L307.90,414.29 L308.98,414.34 L310.06,414.39 L311.14,414.44 L312.23,414.55 L313.31,414.66 L314.39,414.77 L315.47,414.87 L316.55,414.98 L317.63,415.09 L318.71,415.20 L319.79,415.31 L320.87,415.42 L321.95,415.68 L323.03,416.17 L324.12,416.67 L325.20,417.16 L326.28,417.86 L327.36,419.38 L328.44,420.90 L329.52,423.51 L330.60,426.40 L330.60,410.80 Z" fill="#c9c9c9" stroke="#bdbdbd" stroke-width="0.4"/>
<line x1="200.90" y1="410.80" x2="330.60" y2="410.80" stroke="#b0b0b0" stroke-width="0.5"/>
<text x="259.26" y="411.60" font-size="2.2" fill="#777" stroke="#777" stroke-width="0.07">Zero cross at 7351</text>
<text x="196.90" y="397.50" font-size="6.5" fill="#333" stroke="#333" stroke-width="0.07" text-anchor="end" textLength="3.10" lengthAdjust="spacingAndGlyphs">6</text>
<line x1="199.30" y1="395.20" x2="200.90" y2="395.20" stroke="#555" stroke-width="0.8"/>
<text x="196.90" y="407.90" font-size="6.5" fill="#333" stroke="#333" stroke-width="0.07" text-anchor="end" textLength="3.10" lengthAdjust="spacingAndGlyphs">2</text>
<line x1="199.30" y1="405.60" x2="200.90" y2="405.60" stroke="#555" stroke-width="0.8"/>
<text x="196.90" y="418.30" font-size="6.5" fill="#333" stroke="#333" stroke-width="0.07" text-anchor="end" textLength="6.60" lengthAdjust="spacingAndGlyphs">−2</text>
<line x1="199.30" y1="416.00" x2="200.90" y2="416.00" stroke="#555" stroke-width="0.8"/>
<text x="196.90" y="428.60" font-size="6.5" fill="#333" stroke="#333" stroke-width="0.07" text-anchor="end" textLength="6.60" lengthAdjust="spacingAndGlyphs">−6</text>
<line x1="199.30" y1="426.30" x2="200.90" y2="426.30" stroke="#555" stroke-width="0.8"/>
<line x1="200.90" y1="430.20" x2="334.70" y2="430.20" stroke="#dcdcdc" stroke-width="0.7"/>
<text x="211.50" y="395.40" font-size="6.6" fill="#e23a48" stroke="#e23a48" stroke-width="0.07" textLength="20.00" lengthAdjust="spacingAndGlyphs">'na_pos'</text>
<text x="211.50" y="402.60" font-size="6.6" fill="#e23a48" stroke="#e23a48" stroke-width="0.07" textLength="55.00" lengthAdjust="spacingAndGlyphs">(positively correlated)</text>
<text x="270.10" y="420.00" font-size="6.6" fill="#4a3fa8" stroke="#4a3fa8" stroke-width="0.07" textLength="19.00" lengthAdjust="spacingAndGlyphs">'na_neg'</text>
<text x="270.10" y="427.00" font-size="6.6" fill="#4a3fa8" stroke="#4a3fa8" stroke-width="0.07" textLength="60.50" lengthAdjust="spacingAndGlyphs">(negatively correlated)</text>
<line x1="200.90" y1="429.00" x2="200.90" y2="430.20" stroke="#666" stroke-width="0.7"/>
<text x="200.90" y="438.80" font-size="6.6" fill="#333" stroke="#333" stroke-width="0.07" text-anchor="middle">0</text>
<line x1="239.91" y1="429.00" x2="239.91" y2="430.20" stroke="#666" stroke-width="0.7"/>
<text x="239.91" y="438.80" font-size="6.6" fill="#333" stroke="#333" stroke-width="0.07" text-anchor="middle">4,000</text>
<line x1="278.92" y1="429.00" x2="278.92" y2="430.20" stroke="#666" stroke-width="0.7"/>
<text x="278.92" y="438.80" font-size="6.6" fill="#333" stroke="#333" stroke-width="0.07" text-anchor="middle">8,000</text>
<line x1="317.92" y1="429.00" x2="317.92" y2="430.20" stroke="#666" stroke-width="0.7"/>
<text x="317.92" y="438.80" font-size="6.6" fill="#333" stroke="#333" stroke-width="0.07" text-anchor="middle">12,000</text>
<text x="234.20" y="450.40" font-size="8.6" fill="#222" stroke="#222" stroke-width="0.07" textLength="71.00" lengthAdjust="spacingAndGlyphs">Rank in ordered dataset</text>
<line x1="191.20" y1="459.20" x2="196.20" y2="459.20" stroke="#68aa3a" stroke-width="1.0"/>
<text x="198.20" y="461.10" font-size="6.6" fill="#333" stroke="#333" stroke-width="0.07" textLength="47.50" lengthAdjust="spacingAndGlyphs">Enrichment profile</text>
<line x1="250.70" y1="459.20" x2="255.70" y2="459.20" stroke="#111" stroke-width="1.3"/>
<text x="258.60" y="461.10" font-size="6.6" fill="#333" stroke="#333" stroke-width="0.07" textLength="8.90" lengthAdjust="spacingAndGlyphs">Hits</text>
<line x1="274.20" y1="459.20" x2="278.70" y2="459.20" stroke="#cccccc" stroke-width="1.1"/>
<text x="281.20" y="461.10" font-size="6.6" fill="#333" stroke="#333" stroke-width="0.07" textLength="57.50" lengthAdjust="spacingAndGlyphs">Ranking metric scores</text>
<text x="228.60" y="471.00" font-size="7.1" fill="#222" stroke="#222" stroke-width="0.07" textLength="74.60" lengthAdjust="spacingAndGlyphs">core enriched genes: UXT,</text>
<text x="243.50" y="478.40" font-size="7.1" fill="#222" stroke="#222" stroke-width="0.07" textLength="46.10" lengthAdjust="spacingAndGlyphs">RPL12, PABPC1</text>
<text x="182.30" y="339.50" font-size="7.6" fill="#222" stroke="#222" stroke-width="0.07" text-anchor="middle" textLength="64.00" lengthAdjust="spacingAndGlyphs" transform="rotate(-90 182.30 339.50)">Enrichment score (ES)</text>
<text x="176.60" y="409.20" font-size="7.6" fill="#222" stroke="#222" stroke-width="0.07" text-anchor="middle" textLength="54.00" lengthAdjust="spacingAndGlyphs" transform="rotate(-90 176.60 409.20)">Ranked list metric</text>
<text x="186.60" y="409.20" font-size="7.6" fill="#222" stroke="#222" stroke-width="0.07" text-anchor="middle" textLength="39.00" lengthAdjust="spacingAndGlyphs" transform="rotate(-90 186.60 409.20)">(PreRanked)</text>
<text x="439.50" y="295.60" font-size="6.6" fill="#333" stroke="#333" stroke-width="0.07" text-anchor="middle" textLength="47.70" lengthAdjust="spacingAndGlyphs">Enrichment plot:</text>
<text x="439.50" y="302.60" font-size="6.6" fill="#333" stroke="#333" stroke-width="0.07" text-anchor="middle" textLength="31.00" lengthAdjust="spacingAndGlyphs">CD40UP-1</text>
<path d="M372.80,307.50 L507.00,307.50 L507.00,430.20" stroke="#dcdcdc" stroke-width="0.8" fill="none"/>
<line x1="372.80" y1="365.80" x2="507.00" y2="365.80" stroke="#d8d8d8" stroke-width="0.8"/>
<line x1="372.80" y1="354.50" x2="507.00" y2="354.50" stroke="#d0d0d0" stroke-width="0.8"/>
<line x1="372.80" y1="307.50" x2="372.80" y2="430.20" stroke="#d6d6d6" stroke-width="0.7"/>
<line x1="371.20" y1="315.90" x2="372.80" y2="315.90" stroke="#555" stroke-width="0.8"/>
<text x="369.90" y="318.35" font-size="6.9" fill="#333" stroke="#333" stroke-width="0.07" text-anchor="end" textLength="8.80" lengthAdjust="spacingAndGlyphs">0.4</text>
<line x1="371.20" y1="325.55" x2="372.80" y2="325.55" stroke="#555" stroke-width="0.8"/>
<text x="369.90" y="328.00" font-size="6.9" fill="#333" stroke="#333" stroke-width="0.07" text-anchor="end" textLength="8.80" lengthAdjust="spacingAndGlyphs">0.3</text>
<line x1="371.20" y1="335.20" x2="372.80" y2="335.20" stroke="#555" stroke-width="0.8"/>
<text x="369.90" y="337.65" font-size="6.9" fill="#333" stroke="#333" stroke-width="0.07" text-anchor="end" textLength="8.80" lengthAdjust="spacingAndGlyphs">0.2</text>
<line x1="371.20" y1="344.85" x2="372.80" y2="344.85" stroke="#555" stroke-width="0.8"/>
<text x="369.90" y="347.30" font-size="6.9" fill="#333" stroke="#333" stroke-width="0.07" text-anchor="end" textLength="8.80" lengthAdjust="spacingAndGlyphs">0.1</text>
<line x1="371.20" y1="354.50" x2="372.80" y2="354.50" stroke="#555" stroke-width="0.8"/>
<text x="369.90" y="356.95" font-size="6.9" fill="#333" stroke="#333" stroke-width="0.07" text-anchor="end" textLength="8.80" lengthAdjust="spacingAndGlyphs">0.0</text>
<line x1="371.20" y1="364.15" x2="372.80" y2="364.15" stroke="#555" stroke-width="0.8"/>
<text x="369.90" y="366.60" font-size="6.9" fill="#333" stroke="#333" stroke-width="0.07" text-anchor="end" textLength="12.60" lengthAdjust="spacingAndGlyphs">−0.1</text>
<path d="M372.80,354.00 L374.00,340.35 L375.50,334.12 L377.00,324.60 L378.50,317.98 L380.00,312.64 L381.50,312.01 L383.60,310.83 L385.20,311.17 L386.80,311.27 L388.85,312.82 L390.90,313.58 L393.60,311.73 L396.30,310.22 L397.98,309.93 L399.65,309.95 L401.32,310.62 L403.00,310.57 L404.80,309.80 L406.60,311.22 L408.40,311.00 L410.05,312.85 L411.70,313.00 L413.35,312.70 L415.00,313.37 L416.73,314.73 L418.45,315.30 L420.17,318.65 L421.90,318.95 L423.39,319.65 L424.88,320.58 L426.37,320.88 L427.86,322.08 L429.34,323.87 L430.83,325.15 L432.32,326.17 L433.81,325.27 L435.30,326.74 L436.80,328.04 L438.30,329.10 L439.80,329.79 L441.30,331.09 L442.80,332.11 L444.30,332.36 L445.80,333.58 L447.30,334.19 L448.80,335.18 L450.29,336.75 L451.78,336.66 L453.27,338.15 L454.76,339.65 L456.24,340.10 L457.73,341.47 L459.22,342.82 L460.71,343.43 L462.20,344.15 L463.74,345.41 L465.29,347.30 L466.83,348.13 L468.37,349.66 L469.91,351.50 L471.46,352.30 L473.00,353.94 L474.60,354.63 L476.20,355.51 L477.80,355.24 L479.40,355.85 L481.00,356.65 L482.70,357.55 L484.40,359.29 L486.10,360.21 L487.80,362.62 L489.85,360.79 L491.90,360.11 L493.67,361.15 L495.43,360.85 L497.20,362.54 L499.90,355.58 L501.30,353.80" stroke="#b8dc8c" stroke-width="2.0" fill="none" stroke-linejoin="round" opacity="0.5"/>
<path d="M372.80,354.00 L374.00,340.35 L375.50,334.12 L377.00,324.60 L378.50,317.98 L380.00,312.64 L381.50,312.01 L383.60,310.83 L385.20,311.17 L386.80,311.27 L388.85,312.82 L390.90,313.58 L393.60,311.73 L396.30,310.22 L397.98,309.93 L399.65,309.95 L401.32,310.62 L403.00,310.57 L404.80,309.80 L406.60,311.22 L408.40,311.00 L410.05,312.85 L411.70,313.00 L413.35,312.70 L415.00,313.37 L416.73,314.73 L418.45,315.30 L420.17,318.65 L421.90,318.95 L423.39,319.65 L424.88,320.58 L426.37,320.88 L427.86,322.08 L429.34,323.87 L430.83,325.15 L432.32,326.17 L433.81,325.27 L435.30,326.74 L436.80,328.04 L438.30,329.10 L439.80,329.79 L441.30,331.09 L442.80,332.11 L444.30,332.36 L445.80,333.58 L447.30,334.19 L448.80,335.18 L450.29,336.75 L451.78,336.66 L453.27,338.15 L454.76,339.65 L456.24,340.10 L457.73,341.47 L459.22,342.82 L460.71,343.43 L462.20,344.15 L463.74,345.41 L465.29,347.30 L466.83,348.13 L468.37,349.66 L469.91,351.50 L471.46,352.30 L473.00,353.94 L474.60,354.63 L476.20,355.51 L477.80,355.24 L479.40,355.85 L481.00,356.65 L482.70,357.55 L484.40,359.29 L486.10,360.21 L487.80,362.62 L489.85,360.79 L491.90,360.11 L493.67,361.15 L495.43,360.85 L497.20,362.54 L499.90,355.58 L501.30,353.80" stroke="#68aa3a" stroke-width="1.1" fill="none" stroke-linejoin="round"/>
<text x="474.10" y="314.70" font-size="6.2" fill="#222" textLength="27.2" lengthAdjust="spacingAndGlyphs"><tspan font-style="italic">P</tspan> = .0340</text>
<text x="474.10" y="321.40" font-size="6.2" fill="#222" stroke="#222" stroke-width="0.07" textLength="31.00" lengthAdjust="spacingAndGlyphs">q = 0.0020</text>
<g filter="url(#hb)">
<rect x="373.36" y="366.10" width="4.76" height="19.40" fill="#323232"/>
<rect x="378.08" y="366.10" width="2.07" height="19.40" fill="#8c8c8c"/>
<rect x="380.09" y="366.10" width="4.09" height="19.40" fill="#5a5a5a"/>
<rect x="386.15" y="366.10" width="2.07" height="19.40" fill="#c8c8c8"/>
<rect x="390.19" y="366.10" width="3.41" height="19.40" fill="#323232"/>
<rect x="393.55" y="366.10" width="2.74" height="19.40" fill="#8c8c8c"/>
<rect x="396.24" y="366.10" width="4.76" height="19.40" fill="#c8c8c8"/>
<rect x="400.96" y="366.10" width="4.09" height="19.40" fill="#646464"/>
<rect x="404.99" y="366.10" width="3.41" height="19.40" fill="#8c8c8c"/>
<rect x="408.36" y="366.10" width="2.07" height="19.40" fill="#323232"/>
<rect x="419.80" y="366.10" width="2.07" height="19.40" fill="#323232"/>
<rect x="424.51" y="366.10" width="2.07" height="19.40" fill="#8c8c8c"/>
<rect x="426.53" y="366.10" width="2.74" height="19.40" fill="#c8c8c8"/>
<rect x="429.22" y="366.10" width="2.07" height="19.40" fill="#5a5a5a"/>
<rect x="435.00" y="366.10" width="3.41" height="19.40" fill="#8c8c8c"/>
<rect x="440.38" y="366.10" width="2.07" height="19.40" fill="#323232"/>
<rect x="447.79" y="366.10" width="2.07" height="19.40" fill="#8c8c8c"/>
<rect x="457.21" y="366.10" width="2.07" height="19.40" fill="#8c8c8c"/>
<rect x="464.61" y="366.10" width="2.74" height="19.40" fill="#8c8c8c"/>
<rect x="473.36" y="366.10" width="2.07" height="19.40" fill="#323232"/>
<rect x="476.99" y="366.10" width="3.15" height="19.40" fill="#6e6e6e"/>
<rect x="480.09" y="366.10" width="2.07" height="19.40" fill="#bebebe"/>
<rect x="482.11" y="366.10" width="2.07" height="19.40" fill="#5a5a5a"/>
<rect x="484.13" y="366.10" width="2.74" height="19.40" fill="#aaaaaa"/>
<rect x="486.82" y="366.10" width="2.74" height="19.40" fill="#323232"/>
<rect x="489.51" y="366.10" width="2.74" height="19.40" fill="#787878"/>
<rect x="492.20" y="366.10" width="2.07" height="19.40" fill="#c8c8c8"/>
<rect x="494.22" y="366.10" width="2.74" height="19.40" fill="#323232"/>
<rect x="496.91" y="366.10" width="2.07" height="19.40" fill="#787878"/>
<rect x="498.93" y="366.10" width="2.07" height="19.40" fill="#373737"/>
</g>
<defs><linearGradient id="gr140149629349248" x1="0" x2="1" y1="0" y2="0"><stop offset="0" stop-color="#d91e2b"/><stop offset="0.19" stop-color="#da2331"/><stop offset="0.21" stop-color="#df3a50"/><stop offset="0.395" stop-color="#e24862"/><stop offset="0.415" stop-color="#f0aac4"/><stop offset="0.53" stop-color="#f0c4dc"/><stop offset="0.55" stop-color="#dcd4ee"/><stop offset="0.73" stop-color="#d4cce8"/><stop offset="0.75" stop-color="#5446ac"/><stop offset="0.87" stop-color="#4a3ca6"/><stop offset="0.89" stop-color="#3a2c98"/><stop offset="1" stop-color="#352893"/></linearGradient></defs>
<rect x="372.80" y="385.50" width="128.50" height="4.70" fill="url(#gr140149629349248)"/>
<path d="M372.80,410.80 L372.80,400.92 L373.87,403.09 L374.94,404.04 L376.01,404.69 L377.08,405.20 L378.15,405.50 L379.23,405.81 L380.30,406.11 L381.37,406.41 L382.44,406.72 L383.51,406.96 L384.58,407.12 L385.65,407.27 L386.72,407.43 L387.79,407.58 L388.86,407.74 L389.93,407.89 L391.00,408.05 L392.07,408.20 L393.15,408.27 L394.22,408.34 L395.29,408.42 L396.36,408.49 L397.43,408.56 L398.50,408.63 L399.57,408.71 L400.64,408.78 L401.71,408.85 L402.78,408.92 L403.85,408.99 L404.93,409.07 L406.00,409.14 L407.07,409.21 L408.14,409.28 L409.21,409.36 L410.28,409.43 L411.35,409.50 L412.42,409.57 L413.49,409.64 L414.56,409.70 L415.63,409.77 L416.70,409.84 L417.77,409.91 L418.85,409.97 L419.92,410.04 L420.99,410.11 L422.06,410.18 L423.13,410.24 L424.20,410.31 L425.27,410.38 L426.34,410.45 L427.41,410.52 L428.48,410.58 L429.55,410.65 L430.62,410.72 L431.70,410.79 L432.77,410.90 L433.84,411.02 L434.91,411.15 L435.98,411.27 L437.05,411.39 L438.12,411.52 L439.19,411.64 L440.26,411.77 L441.33,411.89 L442.40,412.01 L443.48,412.14 L444.55,412.26 L445.62,412.38 L446.69,412.51 L447.76,412.63 L448.83,412.76 L449.90,412.88 L450.97,412.93 L452.04,412.99 L453.11,413.04 L454.18,413.10 L455.25,413.15 L456.33,413.21 L457.40,413.26 L458.47,413.31 L459.54,413.37 L460.61,413.42 L461.68,413.48 L462.75,413.53 L463.82,413.58 L464.89,413.64 L465.96,413.69 L467.03,413.74 L468.10,413.79 L469.18,413.84 L470.25,413.89 L471.32,413.94 L472.39,413.99 L473.46,414.04 L474.53,414.09 L475.60,414.14 L476.67,414.19 L477.74,414.24 L478.81,414.29 L479.88,414.34 L480.95,414.39 L482.02,414.44 L483.10,414.55 L484.17,414.66 L485.24,414.77 L486.31,414.87 L487.38,414.98 L488.45,415.09 L489.52,415.20 L490.59,415.31 L491.66,415.42 L492.73,415.68 L493.80,416.17 L494.88,416.67 L495.95,417.16 L497.02,417.86 L498.09,419.38 L499.16,420.90 L500.23,423.51 L501.30,426.40 L501.30,410.80 Z" fill="#c9c9c9" stroke="#bdbdbd" stroke-width="0.4"/>
<line x1="372.80" y1="410.80" x2="501.30" y2="410.80" stroke="#b0b0b0" stroke-width="0.5"/>
<text x="430.62" y="411.60" font-size="2.2" fill="#777" stroke="#777" stroke-width="0.07">Zero cross at 7351</text>
<text x="368.80" y="397.50" font-size="6.5" fill="#333" stroke="#333" stroke-width="0.07" text-anchor="end" textLength="3.10" lengthAdjust="spacingAndGlyphs">6</text>
<line x1="371.20" y1="395.20" x2="372.80" y2="395.20" stroke="#555" stroke-width="0.8"/>
<text x="368.80" y="407.90" font-size="6.5" fill="#333" stroke="#333" stroke-width="0.07" text-anchor="end" textLength="3.10" lengthAdjust="spacingAndGlyphs">2</text>
<line x1="371.20" y1="405.60" x2="372.80" y2="405.60" stroke="#555" stroke-width="0.8"/>
<text x="368.80" y="418.30" font-size="6.5" fill="#333" stroke="#333" stroke-width="0.07" text-anchor="end" textLength="6.60" lengthAdjust="spacingAndGlyphs">−2</text>
<line x1="371.20" y1="416.00" x2="372.80" y2="416.00" stroke="#555" stroke-width="0.8"/>
<text x="368.80" y="428.60" font-size="6.5" fill="#333" stroke="#333" stroke-width="0.07" text-anchor="end" textLength="6.60" lengthAdjust="spacingAndGlyphs">−6</text>
<line x1="371.20" y1="426.30" x2="372.80" y2="426.30" stroke="#555" stroke-width="0.8"/>
<line x1="372.80" y1="430.20" x2="507.00" y2="430.20" stroke="#dcdcdc" stroke-width="0.7"/>
<text x="383.10" y="395.40" font-size="6.6" fill="#e23a48" stroke="#e23a48" stroke-width="0.07" textLength="20.00" lengthAdjust="spacingAndGlyphs">'na_pos'</text>
<text x="383.10" y="402.60" font-size="6.6" fill="#e23a48" stroke="#e23a48" stroke-width="0.07" textLength="55.00" lengthAdjust="spacingAndGlyphs">(positively correlated)</text>
<text x="440.80" y="420.00" font-size="6.6" fill="#4a3fa8" stroke="#4a3fa8" stroke-width="0.07" textLength="19.00" lengthAdjust="spacingAndGlyphs">'na_neg'</text>
<text x="440.80" y="427.00" font-size="6.6" fill="#4a3fa8" stroke="#4a3fa8" stroke-width="0.07" textLength="60.50" lengthAdjust="spacingAndGlyphs">(negatively correlated)</text>
<line x1="372.80" y1="429.00" x2="372.80" y2="430.20" stroke="#666" stroke-width="0.7"/>
<text x="372.80" y="438.80" font-size="6.6" fill="#333" stroke="#333" stroke-width="0.07" text-anchor="middle">0</text>
<line x1="411.45" y1="429.00" x2="411.45" y2="430.20" stroke="#666" stroke-width="0.7"/>
<text x="411.45" y="438.80" font-size="6.6" fill="#333" stroke="#333" stroke-width="0.07" text-anchor="middle">4,000</text>
<line x1="450.09" y1="429.00" x2="450.09" y2="430.20" stroke="#666" stroke-width="0.7"/>
<text x="450.09" y="438.80" font-size="6.6" fill="#333" stroke="#333" stroke-width="0.07" text-anchor="middle">8,000</text>
<line x1="488.74" y1="429.00" x2="488.74" y2="430.20" stroke="#666" stroke-width="0.7"/>
<text x="488.74" y="438.80" font-size="6.6" fill="#333" stroke="#333" stroke-width="0.07" text-anchor="middle">12,000</text>
<text x="405.80" y="450.40" font-size="8.6" fill="#222" stroke="#222" stroke-width="0.07" textLength="71.00" lengthAdjust="spacingAndGlyphs">Rank in ordered dataset</text>
<line x1="361.20" y1="459.20" x2="366.20" y2="459.20" stroke="#68aa3a" stroke-width="1.0"/>
<text x="368.20" y="461.10" font-size="6.6" fill="#333" stroke="#333" stroke-width="0.07" textLength="47.50" lengthAdjust="spacingAndGlyphs">Enrichment profile</text>
<line x1="420.70" y1="459.20" x2="425.70" y2="459.20" stroke="#111" stroke-width="1.3"/>
<text x="428.60" y="461.10" font-size="6.6" fill="#333" stroke="#333" stroke-width="0.07" textLength="8.90" lengthAdjust="spacingAndGlyphs">Hits</text>
<line x1="444.20" y1="459.20" x2="448.70" y2="459.20" stroke="#cccccc" stroke-width="1.1"/>
<text x="451.20" y="461.10" font-size="6.6" fill="#333" stroke="#333" stroke-width="0.07" textLength="57.50" lengthAdjust="spacingAndGlyphs">Ranking metric scores</text>
<text x="387.30" y="471.00" font-size="7.1" fill="#222" stroke="#222" stroke-width="0.07" textLength="103.10" lengthAdjust="spacingAndGlyphs">core enriched genes: PTK2B, NFKB2,</text>
<text x="391.30" y="478.40" font-size="7.1" fill="#222" stroke="#222" stroke-width="0.07" textLength="96.00" lengthAdjust="spacingAndGlyphs">NFKBIE, MAPKAP2, TNFAIP2, LYN</text>
<text x="353.00" y="339.50" font-size="7.6" fill="#222" stroke="#222" stroke-width="0.07" text-anchor="middle" textLength="64.00" lengthAdjust="spacingAndGlyphs" transform="rotate(-90 353.00 339.50)">Enrichment score (ES)</text>
<text x="348.50" y="409.20" font-size="7.6" fill="#222" stroke="#222" stroke-width="0.07" text-anchor="middle" textLength="54.00" lengthAdjust="spacingAndGlyphs" transform="rotate(-90 348.50 409.20)">Ranked list metric</text>
<text x="358.70" y="409.20" font-size="7.6" fill="#222" stroke="#222" stroke-width="0.07" text-anchor="middle" textLength="39.00" lengthAdjust="spacingAndGlyphs" transform="rotate(-90 358.70 409.20)">(PreRanked)</text>
<text x="106.00" y="497.20" font-size="6.6" fill="#333" stroke="#333" stroke-width="0.07" text-anchor="middle" textLength="47.70" lengthAdjust="spacingAndGlyphs">Enrichment plot:</text>
<text x="106.00" y="504.70" font-size="6.6" fill="#333" stroke="#333" stroke-width="0.07" text-anchor="middle" textLength="96.00" lengthAdjust="spacingAndGlyphs">HALLMARK_MYC_TARGETS_V1</text>
<path d="M38.10,509.30 L166.40,509.30 L166.40,630.00" stroke="#dcdcdc" stroke-width="0.8" fill="none"/>
<line x1="38.10" y1="566.50" x2="166.40" y2="566.50" stroke="#d8d8d8" stroke-width="0.8"/>
<line x1="38.10" y1="561.60" x2="166.40" y2="561.60" stroke="#d0d0d0" stroke-width="0.8"/>
<line x1="38.10" y1="509.30" x2="38.10" y2="630.00" stroke="#d6d6d6" stroke-width="0.7"/>
<line x1="36.50" y1="513.90" x2="38.10" y2="513.90" stroke="#555" stroke-width="0.8"/>
<text x="35.20" y="516.35" font-size="6.9" fill="#333" stroke="#333" stroke-width="0.07" text-anchor="end" textLength="12.40" lengthAdjust="spacingAndGlyphs">0.30</text>
<line x1="36.50" y1="529.80" x2="38.10" y2="529.80" stroke="#555" stroke-width="0.8"/>
<text x="35.20" y="532.25" font-size="6.9" fill="#333" stroke="#333" stroke-width="0.07" text-anchor="end" textLength="12.40" lengthAdjust="spacingAndGlyphs">0.20</text>
<line x1="36.50" y1="545.70" x2="38.10" y2="545.70" stroke="#555" stroke-width="0.8"/>
<text x="35.20" y="548.15" font-size="6.9" fill="#333" stroke="#333" stroke-width="0.07" text-anchor="end" textLength="12.40" lengthAdjust="spacingAndGlyphs">0.10</text>
<line x1="36.50" y1="561.60" x2="38.10" y2="561.60" stroke="#555" stroke-width="0.8"/>
<text x="35.20" y="564.05" font-size="6.9" fill="#333" stroke="#333" stroke-width="0.07" text-anchor="end" textLength="12.40" lengthAdjust="spacingAndGlyphs">0.00</text>
<path d="M38.10,561.00 L40.00,559.34 L42.00,560.50 L44.00,556.38 L46.00,556.45 L48.00,552.98 L50.00,547.32 L52.00,544.08 L53.50,541.46 L55.00,537.59 L56.50,532.46 L58.00,530.25 L59.50,527.48 L61.00,527.08 L62.50,523.87 L64.00,521.67 L66.00,519.00 L68.00,516.52 L69.57,516.65 L71.13,514.78 L72.70,513.97 L74.47,513.83 L76.23,512.63 L78.00,512.34 L79.65,511.41 L81.30,511.97 L82.87,510.94 L84.43,511.51 L86.00,511.91 L88.00,512.98 L90.00,513.50 L91.50,513.59 L93.00,513.12 L95.00,515.81 L97.00,517.58 L98.50,520.37 L100.00,522.37 L101.67,522.92 L103.33,525.28 L105.00,526.20 L106.67,530.41 L108.33,532.97 L110.00,531.80 L111.67,535.16 L113.33,536.12 L115.00,538.41 L116.67,540.32 L118.33,541.91 L120.00,543.80 L121.67,543.72 L123.33,545.11 L125.00,546.10 L126.67,548.40 L128.33,546.97 L130.00,549.58 L131.67,549.23 L133.33,550.55 L135.00,551.28 L136.67,554.28 L138.33,553.46 L140.00,556.55 L141.67,556.00 L143.33,555.96 L145.00,555.81 L146.67,556.10 L148.33,556.10 L150.00,558.46 L151.67,558.52 L153.33,558.00 L155.00,560.15 L156.50,559.42 L158.00,561.02 L159.50,561.44 L161.00,561.80" stroke="#b8dc8c" stroke-width="2.0" fill="none" stroke-linejoin="round" opacity="0.5"/>
<path d="M38.10,561.00 L40.00,559.34 L42.00,560.50 L44.00,556.38 L46.00,556.45 L48.00,552.98 L50.00,547.32 L52.00,544.08 L53.50,541.46 L55.00,537.59 L56.50,532.46 L58.00,530.25 L59.50,527.48 L61.00,527.08 L62.50,523.87 L64.00,521.67 L66.00,519.00 L68.00,516.52 L69.57,516.65 L71.13,514.78 L72.70,513.97 L74.47,513.83 L76.23,512.63 L78.00,512.34 L79.65,511.41 L81.30,511.97 L82.87,510.94 L84.43,511.51 L86.00,511.91 L88.00,512.98 L90.00,513.50 L91.50,513.59 L93.00,513.12 L95.00,515.81 L97.00,517.58 L98.50,520.37 L100.00,522.37 L101.67,522.92 L103.33,525.28 L105.00,526.20 L106.67,530.41 L108.33,532.97 L110.00,531.80 L111.67,535.16 L113.33,536.12 L115.00,538.41 L116.67,540.32 L118.33,541.91 L120.00,543.80 L121.67,543.72 L123.33,545.11 L125.00,546.10 L126.67,548.40 L128.33,546.97 L130.00,549.58 L131.67,549.23 L133.33,550.55 L135.00,551.28 L136.67,554.28 L138.33,553.46 L140.00,556.55 L141.67,556.00 L143.33,555.96 L145.00,555.81 L146.67,556.10 L148.33,556.10 L150.00,558.46 L151.67,558.52 L153.33,558.00 L155.00,560.15 L156.50,559.42 L158.00,561.02 L159.50,561.44 L161.00,561.80" stroke="#68aa3a" stroke-width="1.1" fill="none" stroke-linejoin="round"/>
<text x="134.60" y="517.60" font-size="6.2" fill="#222" stroke="#222" stroke-width="0.07" textLength="27.20" lengthAdjust="spacingAndGlyphs">P = .0001</text>
<text x="134.60" y="523.40" font-size="6.2" fill="#222" stroke="#222" stroke-width="0.07" textLength="21.50" lengthAdjust="spacingAndGlyphs">q = 0.10</text>
<g filter="url(#hb)">
<rect x="38.12" y="566.80" width="1.93" height="18.50" fill="#bebebe"/>
<rect x="42.50" y="566.80" width="2.55" height="18.50" fill="#505050"/>
<rect x="46.88" y="566.80" width="1.93" height="18.50" fill="#6e6e6e"/>
<rect x="48.75" y="566.80" width="2.55" height="18.50" fill="#5a5a5a"/>
<rect x="51.25" y="566.80" width="3.80" height="18.50" fill="#232323"/>
<rect x="55.00" y="566.80" width="3.17" height="18.50" fill="#5a5a5a"/>
<rect x="58.12" y="566.80" width="1.93" height="18.50" fill="#282828"/>
<rect x="60.00" y="566.80" width="1.93" height="18.50" fill="#a0a0a0"/>
<rect x="61.88" y="566.80" width="3.17" height="18.50" fill="#5a5a5a"/>
<rect x="65.00" y="566.80" width="2.55" height="18.50" fill="#282828"/>
<rect x="67.50" y="566.80" width="2.55" height="18.50" fill="#6e6e6e"/>
<rect x="70.00" y="566.80" width="2.55" height="18.50" fill="#aaaaaa"/>
<rect x="72.50" y="566.80" width="3.17" height="18.50" fill="#2d2d2d"/>
<rect x="75.62" y="566.80" width="2.55" height="18.50" fill="#aaaaaa"/>
<rect x="78.12" y="566.80" width="2.55" height="18.50" fill="#646464"/>
<rect x="80.62" y="566.80" width="2.55" height="18.50" fill="#2d2d2d"/>
<rect x="83.12" y="566.80" width="1.93" height="18.50" fill="#787878"/>
<rect x="85.00" y="566.80" width="2.55" height="18.50" fill="#373737"/>
<rect x="87.50" y="566.80" width="2.55" height="18.50" fill="#787878"/>
<rect x="90.00" y="566.80" width="2.55" height="18.50" fill="#bebebe"/>
<rect x="92.50" y="566.80" width="1.93" height="18.50" fill="#828282"/>
<rect x="96.25" y="566.80" width="3.80" height="18.50" fill="#8c8c8c"/>
<rect x="103.62" y="566.80" width="3.17" height="18.50" fill="#8c8c8c"/>
<rect x="106.75" y="566.80" width="2.55" height="18.50" fill="#828282"/>
<rect x="109.25" y="566.80" width="2.55" height="18.50" fill="#c8c8c8"/>
<rect x="111.75" y="566.80" width="5.05" height="18.50" fill="#373737"/>
<rect x="116.75" y="566.80" width="2.55" height="18.50" fill="#828282"/>
<rect x="121.75" y="566.80" width="3.17" height="18.50" fill="#464646"/>
<rect x="124.88" y="566.80" width="3.17" height="18.50" fill="#8c8c8c"/>
<rect x="129.88" y="566.80" width="4.42" height="18.50" fill="#3c3c3c"/>
<rect x="134.25" y="566.80" width="1.30" height="18.50" fill="#c8c8c8"/>
<rect x="135.50" y="566.80" width="2.55" height="18.50" fill="#969696"/>
<rect x="141.12" y="566.80" width="1.30" height="18.50" fill="#787878"/>
<rect x="145.50" y="566.80" width="1.30" height="18.50" fill="#6e6e6e"/>
<rect x="150.50" y="566.80" width="1.30" height="18.50" fill="#969696"/>
<rect x="155.50" y="566.80" width="1.30" height="18.50" fill="#aaaaaa"/>
</g>
<defs><linearGradient id="gr140149629349312" x1="0" x2="1" y1="0" y2="0"><stop offset="0" stop-color="#d91e2b"/><stop offset="0.19" stop-color="#da2331"/><stop offset="0.21" stop-color="#df3a50"/><stop offset="0.395" stop-color="#e24862"/><stop offset="0.415" stop-color="#f0aac4"/><stop offset="0.53" stop-color="#f0c4dc"/><stop offset="0.55" stop-color="#dcd4ee"/><stop offset="0.73" stop-color="#d4cce8"/><stop offset="0.75" stop-color="#5446ac"/><stop offset="0.87" stop-color="#4a3ca6"/><stop offset="0.89" stop-color="#3a2c98"/><stop offset="1" stop-color="#352893"/></linearGradient></defs>
<rect x="38.10" y="585.30" width="122.90" height="4.80" fill="url(#gr140149629349312)"/>
<path d="M38.10,608.75 L38.10,597.83 L39.12,600.22 L40.15,601.27 L41.17,601.99 L42.20,602.56 L43.22,602.89 L44.25,603.23 L45.27,603.57 L46.29,603.90 L47.32,604.24 L48.34,604.51 L49.37,604.68 L50.39,604.85 L51.41,605.02 L52.44,605.19 L53.46,605.36 L54.49,605.53 L55.51,605.70 L56.53,605.88 L57.56,605.95 L58.58,606.03 L59.61,606.11 L60.63,606.19 L61.66,606.27 L62.68,606.35 L63.70,606.43 L64.73,606.51 L65.75,606.59 L66.78,606.67 L67.80,606.75 L68.83,606.83 L69.85,606.91 L70.87,606.99 L71.90,607.07 L72.92,607.15 L73.95,607.23 L74.97,607.31 L75.99,607.39 L77.02,607.46 L78.04,607.54 L79.07,607.61 L80.09,607.69 L81.12,607.76 L82.14,607.84 L83.16,607.91 L84.19,607.99 L85.21,608.06 L86.24,608.14 L87.26,608.21 L88.28,608.29 L89.31,608.36 L90.33,608.44 L91.36,608.51 L92.38,608.59 L93.41,608.66 L94.43,608.74 L95.45,608.86 L96.48,609.00 L97.50,609.13 L98.53,609.27 L99.55,609.41 L100.57,609.54 L101.60,609.68 L102.62,609.82 L103.65,609.95 L104.67,610.09 L105.70,610.23 L106.72,610.37 L107.74,610.50 L108.77,610.64 L109.79,610.78 L110.82,610.91 L111.84,611.05 L112.86,611.11 L113.89,611.17 L114.91,611.23 L115.94,611.29 L116.96,611.35 L117.99,611.41 L119.01,611.47 L120.03,611.53 L121.06,611.59 L122.08,611.65 L123.11,611.71 L124.13,611.77 L125.15,611.83 L126.18,611.89 L127.20,611.95 L128.23,612.00 L129.25,612.06 L130.28,612.11 L131.30,612.17 L132.32,612.22 L133.35,612.28 L134.37,612.33 L135.40,612.39 L136.42,612.44 L137.44,612.50 L138.47,612.55 L139.49,612.61 L140.52,612.66 L141.54,612.72 L142.56,612.77 L143.59,612.89 L144.61,613.01 L145.64,613.13 L146.66,613.25 L147.69,613.37 L148.71,613.49 L149.73,613.61 L150.76,613.73 L151.78,613.85 L152.81,614.14 L153.83,614.69 L154.85,615.24 L155.88,615.79 L156.90,616.56 L157.93,618.24 L158.95,619.91 L159.98,622.81 L161.00,626.00 L161.00,608.75 Z" fill="#c9c9c9" stroke="#bdbdbd" stroke-width="0.4"/>
<line x1="38.10" y1="608.75" x2="161.00" y2="608.75" stroke="#b0b0b0" stroke-width="0.5"/>
<text x="93.41" y="609.55" font-size="2.2" fill="#777" stroke="#777" stroke-width="0.07">Zero cross at 7351</text>
<text x="34.10" y="593.50" font-size="6.5" fill="#333" stroke="#333" stroke-width="0.07" text-anchor="end" textLength="3.10" lengthAdjust="spacingAndGlyphs">6</text>
<line x1="36.50" y1="591.20" x2="38.10" y2="591.20" stroke="#555" stroke-width="0.8"/>
<text x="34.10" y="605.00" font-size="6.5" fill="#333" stroke="#333" stroke-width="0.07" text-anchor="end" textLength="3.10" lengthAdjust="spacingAndGlyphs">2</text>
<line x1="36.50" y1="602.70" x2="38.10" y2="602.70" stroke="#555" stroke-width="0.8"/>
<text x="34.10" y="617.10" font-size="6.5" fill="#333" stroke="#333" stroke-width="0.07" text-anchor="end" textLength="6.60" lengthAdjust="spacingAndGlyphs">−2</text>
<line x1="36.50" y1="614.80" x2="38.10" y2="614.80" stroke="#555" stroke-width="0.8"/>
<text x="34.10" y="627.50" font-size="6.5" fill="#333" stroke="#333" stroke-width="0.07" text-anchor="end" textLength="6.60" lengthAdjust="spacingAndGlyphs">−6</text>
<line x1="36.50" y1="625.20" x2="38.10" y2="625.20" stroke="#555" stroke-width="0.8"/>
<line x1="38.10" y1="630.00" x2="166.40" y2="630.00" stroke="#dcdcdc" stroke-width="0.7"/>
<text x="48.50" y="595.50" font-size="6.6" fill="#e23a48" stroke="#e23a48" stroke-width="0.07" textLength="20.00" lengthAdjust="spacingAndGlyphs">'na_pos'</text>
<text x="48.50" y="602.30" font-size="6.6" fill="#e23a48" stroke="#e23a48" stroke-width="0.07" textLength="55.00" lengthAdjust="spacingAndGlyphs">(positively correlated)</text>
<text x="100.50" y="620.00" font-size="6.6" fill="#4a3fa8" stroke="#4a3fa8" stroke-width="0.07" textLength="19.00" lengthAdjust="spacingAndGlyphs">'na_neg'</text>
<text x="100.50" y="627.00" font-size="6.6" fill="#4a3fa8" stroke="#4a3fa8" stroke-width="0.07" textLength="60.50" lengthAdjust="spacingAndGlyphs">(negatively correlated)</text>
<line x1="38.10" y1="628.80" x2="38.10" y2="630.00" stroke="#666" stroke-width="0.7"/>
<text x="38.10" y="638.00" font-size="6.6" fill="#333" stroke="#333" stroke-width="0.07" text-anchor="middle">0</text>
<line x1="75.06" y1="628.80" x2="75.06" y2="630.00" stroke="#666" stroke-width="0.7"/>
<text x="75.06" y="638.00" font-size="6.6" fill="#333" stroke="#333" stroke-width="0.07" text-anchor="middle">4,000</text>
<line x1="112.02" y1="628.80" x2="112.02" y2="630.00" stroke="#666" stroke-width="0.7"/>
<text x="112.02" y="638.00" font-size="6.6" fill="#333" stroke="#333" stroke-width="0.07" text-anchor="middle">8,000</text>
<line x1="148.99" y1="628.80" x2="148.99" y2="630.00" stroke="#666" stroke-width="0.7"/>
<text x="148.99" y="638.00" font-size="6.6" fill="#333" stroke="#333" stroke-width="0.07" text-anchor="middle">12,000</text>
<text x="66.90" y="649.50" font-size="8.6" fill="#222" stroke="#222" stroke-width="0.07" textLength="71.00" lengthAdjust="spacingAndGlyphs">Rank in ordered dataset</text>
<line x1="25.40" y1="657.10" x2="30.40" y2="657.10" stroke="#68aa3a" stroke-width="1.0"/>
<text x="32.40" y="659.00" font-size="6.6" fill="#333" stroke="#333" stroke-width="0.07" textLength="47.50" lengthAdjust="spacingAndGlyphs">Enrichment profile</text>
<line x1="84.90" y1="657.10" x2="89.90" y2="657.10" stroke="#111" stroke-width="1.3"/>
<text x="92.80" y="659.00" font-size="6.6" fill="#333" stroke="#333" stroke-width="0.07" textLength="8.90" lengthAdjust="spacingAndGlyphs">Hits</text>
<line x1="108.40" y1="657.10" x2="112.90" y2="657.10" stroke="#cccccc" stroke-width="1.1"/>
<text x="115.40" y="659.00" font-size="6.6" fill="#333" stroke="#333" stroke-width="0.07" textLength="57.50" lengthAdjust="spacingAndGlyphs">Ranking metric scores</text>
<text x="62.30" y="668.70" font-size="7.1" fill="#222" stroke="#222" stroke-width="0.07" textLength="76.90" lengthAdjust="spacingAndGlyphs">core enriched genes: ACP1,</text>
<text x="81.40" y="676.10" font-size="7.1" fill="#222" stroke="#222" stroke-width="0.07" textLength="42.40" lengthAdjust="spacingAndGlyphs">AP3S1, SF3A1</text>
<text x="16.60" y="538.80" font-size="7.6" fill="#222" stroke="#222" stroke-width="0.07" text-anchor="middle" textLength="64.00" lengthAdjust="spacingAndGlyphs" transform="rotate(-90 16.60 538.80)">Enrichment score (ES)</text>
<text x="13.80" y="607.60" font-size="7.6" fill="#222" stroke="#222" stroke-width="0.07" text-anchor="middle" textLength="54.00" lengthAdjust="spacingAndGlyphs" transform="rotate(-90 13.80 607.60)">Ranked list metric</text>
<text x="23.30" y="607.60" font-size="7.6" fill="#222" stroke="#222" stroke-width="0.07" text-anchor="middle" textLength="39.00" lengthAdjust="spacingAndGlyphs" transform="rotate(-90 23.30 607.60)">(PreRanked)</text>
<text x="274.80" y="497.20" font-size="6.6" fill="#333" stroke="#333" stroke-width="0.07" text-anchor="middle" textLength="47.70" lengthAdjust="spacingAndGlyphs">Enrichment plot:</text>
<text x="274.80" y="504.70" font-size="6.6" fill="#333" stroke="#333" stroke-width="0.07" text-anchor="middle" textLength="149.00" lengthAdjust="spacingAndGlyphs">KEGG_B_CELL_RECEPTOR_SIGNALING_PATHWAY</text>
<path d="M203.60,509.30 L345.50,509.30 L345.50,630.00" stroke="#dcdcdc" stroke-width="0.8" fill="none"/>
<line x1="203.60" y1="566.50" x2="345.50" y2="566.50" stroke="#d8d8d8" stroke-width="0.8"/>
<line x1="203.60" y1="560.30" x2="345.50" y2="560.30" stroke="#d0d0d0" stroke-width="0.8"/>
<line x1="203.60" y1="509.30" x2="203.60" y2="630.00" stroke="#d6d6d6" stroke-width="0.7"/>
<line x1="202.00" y1="514.50" x2="203.60" y2="514.50" stroke="#555" stroke-width="0.8"/>
<text x="200.70" y="516.95" font-size="6.9" fill="#333" stroke="#333" stroke-width="0.07" text-anchor="end" textLength="8.80" lengthAdjust="spacingAndGlyphs">0.5</text>
<line x1="202.00" y1="523.66" x2="203.60" y2="523.66" stroke="#555" stroke-width="0.8"/>
<text x="200.70" y="526.11" font-size="6.9" fill="#333" stroke="#333" stroke-width="0.07" text-anchor="end" textLength="8.80" lengthAdjust="spacingAndGlyphs">0.4</text>
<line x1="202.00" y1="532.82" x2="203.60" y2="532.82" stroke="#555" stroke-width="0.8"/>
<text x="200.70" y="535.27" font-size="6.9" fill="#333" stroke="#333" stroke-width="0.07" text-anchor="end" textLength="8.80" lengthAdjust="spacingAndGlyphs">0.3</text>
<line x1="202.00" y1="541.98" x2="203.60" y2="541.98" stroke="#555" stroke-width="0.8"/>
<text x="200.70" y="544.43" font-size="6.9" fill="#333" stroke="#333" stroke-width="0.07" text-anchor="end" textLength="8.80" lengthAdjust="spacingAndGlyphs">0.2</text>
<line x1="202.00" y1="551.14" x2="203.60" y2="551.14" stroke="#555" stroke-width="0.8"/>
<text x="200.70" y="553.59" font-size="6.9" fill="#333" stroke="#333" stroke-width="0.07" text-anchor="end" textLength="8.80" lengthAdjust="spacingAndGlyphs">0.1</text>
<line x1="202.00" y1="560.30" x2="203.60" y2="560.30" stroke="#555" stroke-width="0.8"/>
<text x="200.70" y="562.75" font-size="6.9" fill="#333" stroke="#333" stroke-width="0.07" text-anchor="end" textLength="8.80" lengthAdjust="spacingAndGlyphs">0.0</text>
<path d="M203.60,560.30 L204.20,560.30 L205.60,556.07 L207.00,553.20 L208.40,547.61 L209.80,541.95 L211.20,528.33 L213.90,526.33 L216.70,524.38 L218.10,523.32 L219.50,519.99 L220.90,517.58 L222.30,515.24 L224.40,515.14 L226.50,514.48 L228.60,513.26 L230.70,512.71 L232.10,511.56 L233.50,512.52 L234.90,512.27 L236.30,514.70 L238.35,515.04 L240.40,516.16 L243.20,513.96 L244.60,515.87 L246.00,514.94 L247.40,516.54 L248.80,516.77 L250.20,518.03 L251.60,517.21 L253.00,518.75 L254.40,519.39 L255.80,519.60 L257.39,521.13 L258.97,520.87 L260.56,522.22 L262.14,523.63 L263.73,523.42 L265.31,524.04 L266.90,525.40 L268.49,526.41 L270.07,526.96 L271.66,528.22 L273.24,528.74 L274.83,530.07 L276.41,531.06 L278.00,531.69 L279.60,533.30 L281.20,534.69 L282.80,534.76 L284.40,536.07 L286.00,537.06 L287.60,537.83 L289.20,539.09 L290.80,539.22 L292.40,540.39 L294.00,541.28 L295.60,541.32 L297.20,544.07 L298.80,543.47 L300.40,544.61 L301.99,545.88 L303.57,545.47 L305.16,547.08 L306.74,547.68 L308.33,548.64 L309.91,548.99 L311.50,550.03 L313.18,551.25 L314.86,552.76 L316.54,553.22 L318.22,554.93 L319.90,556.69 L321.60,556.49 L323.30,555.44 L325.00,557.05 L326.50,558.00 L328.00,558.88 L329.50,559.45 L331.00,560.32 L332.40,560.73 L333.80,561.36 L335.20,561.47 L336.60,562.68 L339.40,560.00" stroke="#b8dc8c" stroke-width="2.0" fill="none" stroke-linejoin="round" opacity="0.5"/>
<path d="M203.60,560.30 L204.20,560.30 L205.60,556.07 L207.00,553.20 L208.40,547.61 L209.80,541.95 L211.20,528.33 L213.90,526.33 L216.70,524.38 L218.10,523.32 L219.50,519.99 L220.90,517.58 L222.30,515.24 L224.40,515.14 L226.50,514.48 L228.60,513.26 L230.70,512.71 L232.10,511.56 L233.50,512.52 L234.90,512.27 L236.30,514.70 L238.35,515.04 L240.40,516.16 L243.20,513.96 L244.60,515.87 L246.00,514.94 L247.40,516.54 L248.80,516.77 L250.20,518.03 L251.60,517.21 L253.00,518.75 L254.40,519.39 L255.80,519.60 L257.39,521.13 L258.97,520.87 L260.56,522.22 L262.14,523.63 L263.73,523.42 L265.31,524.04 L266.90,525.40 L268.49,526.41 L270.07,526.96 L271.66,528.22 L273.24,528.74 L274.83,530.07 L276.41,531.06 L278.00,531.69 L279.60,533.30 L281.20,534.69 L282.80,534.76 L284.40,536.07 L286.00,537.06 L287.60,537.83 L289.20,539.09 L290.80,539.22 L292.40,540.39 L294.00,541.28 L295.60,541.32 L297.20,544.07 L298.80,543.47 L300.40,544.61 L301.99,545.88 L303.57,545.47 L305.16,547.08 L306.74,547.68 L308.33,548.64 L309.91,548.99 L311.50,550.03 L313.18,551.25 L314.86,552.76 L316.54,553.22 L318.22,554.93 L319.90,556.69 L321.60,556.49 L323.30,555.44 L325.00,557.05 L326.50,558.00 L328.00,558.88 L329.50,559.45 L331.00,560.32 L332.40,560.73 L333.80,561.36 L335.20,561.47 L336.60,562.68 L339.40,560.00" stroke="#68aa3a" stroke-width="1.1" fill="none" stroke-linejoin="round"/>
<text x="310.80" y="516.80" font-size="6.2" fill="#222" textLength="27.2" lengthAdjust="spacingAndGlyphs"><tspan font-style="italic">P</tspan> = .0001</text>
<text x="310.80" y="523.50" font-size="6.2" fill="#222" stroke="#222" stroke-width="0.07" textLength="31.00" lengthAdjust="spacingAndGlyphs">q = 0.0001</text>
<g filter="url(#hb)">
<rect x="204.16" y="566.80" width="2.13" height="18.50" fill="#969696"/>
<rect x="207.62" y="566.80" width="3.51" height="18.50" fill="#282828"/>
<rect x="211.08" y="566.80" width="2.13" height="18.50" fill="#8c8c8c"/>
<rect x="214.54" y="566.80" width="2.82" height="18.50" fill="#505050"/>
<rect x="217.31" y="566.80" width="2.13" height="18.50" fill="#8c8c8c"/>
<rect x="219.39" y="566.80" width="3.51" height="18.50" fill="#323232"/>
<rect x="225.62" y="566.80" width="2.13" height="18.50" fill="#505050"/>
<rect x="227.70" y="566.80" width="2.13" height="18.50" fill="#8c8c8c"/>
<rect x="229.78" y="566.80" width="3.51" height="18.50" fill="#323232"/>
<rect x="240.17" y="566.80" width="2.82" height="18.50" fill="#5a5a5a"/>
<rect x="246.40" y="566.80" width="2.82" height="18.50" fill="#323232"/>
<rect x="251.94" y="566.80" width="3.51" height="18.50" fill="#505050"/>
<rect x="255.40" y="566.80" width="4.21" height="18.50" fill="#969696"/>
<rect x="265.10" y="566.80" width="2.13" height="18.50" fill="#323232"/>
<rect x="278.31" y="566.80" width="2.13" height="18.50" fill="#505050"/>
<rect x="284.54" y="566.80" width="3.51" height="18.50" fill="#8c8c8c"/>
<rect x="290.08" y="566.80" width="2.13" height="18.50" fill="#505050"/>
<rect x="294.24" y="566.80" width="1.44" height="18.50" fill="#8c8c8c"/>
<rect x="297.70" y="566.80" width="1.44" height="18.50" fill="#8c8c8c"/>
<rect x="299.09" y="566.80" width="2.13" height="18.50" fill="#c8c8c8"/>
<rect x="301.16" y="566.80" width="2.82" height="18.50" fill="#828282"/>
<rect x="303.93" y="566.80" width="2.82" height="18.50" fill="#c8c8c8"/>
<rect x="306.70" y="566.80" width="1.44" height="18.50" fill="#969696"/>
<rect x="311.55" y="566.80" width="2.13" height="18.50" fill="#787878"/>
<rect x="317.78" y="566.80" width="2.13" height="18.50" fill="#8c8c8c"/>
<rect x="326.79" y="566.80" width="1.44" height="18.50" fill="#969696"/>
<rect x="337.87" y="566.80" width="1.18" height="18.50" fill="#969696"/>
</g>
<defs><linearGradient id="gr140149629349376" x1="0" x2="1" y1="0" y2="0"><stop offset="0" stop-color="#d91e2b"/><stop offset="0.19" stop-color="#da2331"/><stop offset="0.21" stop-color="#df3a50"/><stop offset="0.395" stop-color="#e24862"/><stop offset="0.415" stop-color="#f0aac4"/><stop offset="0.53" stop-color="#f0c4dc"/><stop offset="0.55" stop-color="#dcd4ee"/><stop offset="0.73" stop-color="#d4cce8"/><stop offset="0.75" stop-color="#5446ac"/><stop offset="0.87" stop-color="#4a3ca6"/><stop offset="0.89" stop-color="#3a2c98"/><stop offset="1" stop-color="#352893"/></linearGradient></defs>
<rect x="203.60" y="585.30" width="135.40" height="4.80" fill="url(#gr140149629349376)"/>
<path d="M203.60,608.75 L203.60,597.83 L204.73,600.22 L205.86,601.27 L206.98,601.99 L208.11,602.56 L209.24,602.89 L210.37,603.23 L211.50,603.57 L212.63,603.90 L213.75,604.24 L214.88,604.51 L216.01,604.68 L217.14,604.85 L218.27,605.02 L219.40,605.19 L220.53,605.36 L221.65,605.53 L222.78,605.70 L223.91,605.88 L225.04,605.95 L226.17,606.03 L227.29,606.11 L228.42,606.19 L229.55,606.27 L230.68,606.35 L231.81,606.43 L232.94,606.51 L234.06,606.59 L235.19,606.67 L236.32,606.75 L237.45,606.83 L238.58,606.91 L239.71,606.99 L240.84,607.07 L241.96,607.15 L243.09,607.23 L244.22,607.31 L245.35,607.39 L246.48,607.46 L247.60,607.54 L248.73,607.61 L249.86,607.69 L250.99,607.76 L252.12,607.84 L253.25,607.91 L254.38,607.99 L255.50,608.06 L256.63,608.14 L257.76,608.21 L258.89,608.29 L260.02,608.36 L261.14,608.44 L262.27,608.51 L263.40,608.59 L264.53,608.66 L265.66,608.74 L266.79,608.86 L267.91,609.00 L269.04,609.13 L270.17,609.27 L271.30,609.41 L272.43,609.54 L273.56,609.68 L274.69,609.82 L275.81,609.95 L276.94,610.09 L278.07,610.23 L279.20,610.37 L280.33,610.50 L281.45,610.64 L282.58,610.78 L283.71,610.91 L284.84,611.05 L285.97,611.11 L287.10,611.17 L288.23,611.23 L289.35,611.29 L290.48,611.35 L291.61,611.41 L292.74,611.47 L293.87,611.53 L295.00,611.59 L296.12,611.65 L297.25,611.71 L298.38,611.77 L299.51,611.83 L300.64,611.89 L301.76,611.95 L302.89,612.00 L304.02,612.06 L305.15,612.11 L306.28,612.17 L307.41,612.22 L308.53,612.28 L309.66,612.33 L310.79,612.39 L311.92,612.44 L313.05,612.50 L314.18,612.55 L315.31,612.61 L316.43,612.66 L317.56,612.72 L318.69,612.77 L319.82,612.89 L320.95,613.01 L322.07,613.13 L323.20,613.25 L324.33,613.37 L325.46,613.49 L326.59,613.61 L327.72,613.73 L328.85,613.85 L329.97,614.14 L331.10,614.69 L332.23,615.24 L333.36,615.79 L334.49,616.56 L335.62,618.24 L336.74,619.91 L337.87,622.81 L339.00,626.00 L339.00,608.75 Z" fill="#c9c9c9" stroke="#bdbdbd" stroke-width="0.4"/>
<line x1="203.60" y1="608.75" x2="339.00" y2="608.75" stroke="#b0b0b0" stroke-width="0.5"/>
<text x="264.53" y="609.55" font-size="2.2" fill="#777" stroke="#777" stroke-width="0.07">Zero cross at 7351</text>
<text x="199.60" y="593.50" font-size="6.5" fill="#333" stroke="#333" stroke-width="0.07" text-anchor="end" textLength="3.10" lengthAdjust="spacingAndGlyphs">6</text>
<line x1="202.00" y1="591.20" x2="203.60" y2="591.20" stroke="#555" stroke-width="0.8"/>
<text x="199.60" y="605.00" font-size="6.5" fill="#333" stroke="#333" stroke-width="0.07" text-anchor="end" textLength="3.10" lengthAdjust="spacingAndGlyphs">2</text>
<line x1="202.00" y1="602.70" x2="203.60" y2="602.70" stroke="#555" stroke-width="0.8"/>
<text x="199.60" y="617.10" font-size="6.5" fill="#333" stroke="#333" stroke-width="0.07" text-anchor="end" textLength="6.60" lengthAdjust="spacingAndGlyphs">−2</text>
<line x1="202.00" y1="614.80" x2="203.60" y2="614.80" stroke="#555" stroke-width="0.8"/>
<text x="199.60" y="627.50" font-size="6.5" fill="#333" stroke="#333" stroke-width="0.07" text-anchor="end" textLength="6.60" lengthAdjust="spacingAndGlyphs">−6</text>
<line x1="202.00" y1="625.20" x2="203.60" y2="625.20" stroke="#555" stroke-width="0.8"/>
<line x1="203.60" y1="630.00" x2="345.50" y2="630.00" stroke="#dcdcdc" stroke-width="0.7"/>
<text x="215.00" y="595.50" font-size="6.6" fill="#e23a48" stroke="#e23a48" stroke-width="0.07" textLength="20.00" lengthAdjust="spacingAndGlyphs">'na_pos'</text>
<text x="215.00" y="602.30" font-size="6.6" fill="#e23a48" stroke="#e23a48" stroke-width="0.07" textLength="55.00" lengthAdjust="spacingAndGlyphs">(positively correlated)</text>
<text x="278.50" y="620.00" font-size="6.6" fill="#4a3fa8" stroke="#4a3fa8" stroke-width="0.07" textLength="19.00" lengthAdjust="spacingAndGlyphs">'na_neg'</text>
<text x="278.50" y="627.00" font-size="6.6" fill="#4a3fa8" stroke="#4a3fa8" stroke-width="0.07" textLength="60.50" lengthAdjust="spacingAndGlyphs">(negatively correlated)</text>
<line x1="203.60" y1="628.80" x2="203.60" y2="630.00" stroke="#666" stroke-width="0.7"/>
<text x="203.60" y="638.00" font-size="6.6" fill="#333" stroke="#333" stroke-width="0.07" text-anchor="middle">0</text>
<line x1="244.32" y1="628.80" x2="244.32" y2="630.00" stroke="#666" stroke-width="0.7"/>
<text x="244.32" y="638.00" font-size="6.6" fill="#333" stroke="#333" stroke-width="0.07" text-anchor="middle">4,000</text>
<line x1="285.04" y1="628.80" x2="285.04" y2="630.00" stroke="#666" stroke-width="0.7"/>
<text x="285.04" y="638.00" font-size="6.6" fill="#333" stroke="#333" stroke-width="0.07" text-anchor="middle">8,000</text>
<line x1="325.77" y1="628.80" x2="325.77" y2="630.00" stroke="#666" stroke-width="0.7"/>
<text x="325.77" y="638.00" font-size="6.6" fill="#333" stroke="#333" stroke-width="0.07" text-anchor="middle">12,000</text>
<text x="239.20" y="649.50" font-size="8.6" fill="#222" stroke="#222" stroke-width="0.07" textLength="71.00" lengthAdjust="spacingAndGlyphs">Rank in ordered dataset</text>
<line x1="203.80" y1="657.10" x2="208.80" y2="657.10" stroke="#68aa3a" stroke-width="1.0"/>
<text x="210.80" y="659.00" font-size="6.6" fill="#333" stroke="#333" stroke-width="0.07" textLength="47.50" lengthAdjust="spacingAndGlyphs">Enrichment profile</text>
<line x1="263.30" y1="657.10" x2="268.30" y2="657.10" stroke="#111" stroke-width="1.3"/>
<text x="271.20" y="659.00" font-size="6.6" fill="#333" stroke="#333" stroke-width="0.07" textLength="8.90" lengthAdjust="spacingAndGlyphs">Hits</text>
<line x1="286.80" y1="657.10" x2="291.30" y2="657.10" stroke="#cccccc" stroke-width="1.1"/>
<text x="293.80" y="659.00" font-size="6.6" fill="#333" stroke="#333" stroke-width="0.07" textLength="57.50" lengthAdjust="spacingAndGlyphs">Ranking metric scores</text>
<text x="230.00" y="668.70" font-size="7.1" fill="#222" stroke="#222" stroke-width="0.07" textLength="78.50" lengthAdjust="spacingAndGlyphs">core enriched genes: NRAS,</text>
<text x="229.40" y="676.10" font-size="7.1" fill="#222" stroke="#222" stroke-width="0.07" textLength="92.30" lengthAdjust="spacingAndGlyphs">MAPK1, NFKBIA, IKBKB, BCL10</text>
<text x="186.40" y="538.80" font-size="7.6" fill="#222" stroke="#222" stroke-width="0.07" text-anchor="middle" textLength="64.00" lengthAdjust="spacingAndGlyphs" transform="rotate(-90 186.40 538.80)">Enrichment score (ES)</text>
<text x="179.30" y="607.60" font-size="7.6" fill="#222" stroke="#222" stroke-width="0.07" text-anchor="middle" textLength="54.00" lengthAdjust="spacingAndGlyphs" transform="rotate(-90 179.30 607.60)">Ranked list metric</text>
<text x="190.00" y="607.60" font-size="7.6" fill="#222" stroke="#222" stroke-width="0.07" text-anchor="middle" textLength="39.00" lengthAdjust="spacingAndGlyphs" transform="rotate(-90 190.00 607.60)">(PreRanked)</text>
<text x="445.20" y="497.20" font-size="6.6" fill="#333" stroke="#333" stroke-width="0.07" text-anchor="middle" textLength="47.70" lengthAdjust="spacingAndGlyphs">Enrichment plot:</text>
<text x="445.20" y="504.70" font-size="6.6" fill="#333" stroke="#333" stroke-width="0.07" text-anchor="middle" textLength="36.00" lengthAdjust="spacingAndGlyphs">NOTCHUP-5</text>
<path d="M382.70,509.30 L507.40,509.30 L507.40,630.00" stroke="#dcdcdc" stroke-width="0.8" fill="none"/>
<line x1="382.70" y1="566.50" x2="507.40" y2="566.50" stroke="#d8d8d8" stroke-width="0.8"/>
<line x1="382.70" y1="553.50" x2="507.40" y2="553.50" stroke="#d0d0d0" stroke-width="0.8"/>
<line x1="382.70" y1="509.30" x2="382.70" y2="630.00" stroke="#d6d6d6" stroke-width="0.7"/>
<line x1="381.10" y1="512.70" x2="382.70" y2="512.70" stroke="#555" stroke-width="0.8"/>
<text x="379.80" y="515.15" font-size="6.9" fill="#333" stroke="#333" stroke-width="0.07" text-anchor="end" textLength="8.80" lengthAdjust="spacingAndGlyphs">0.4</text>
<line x1="381.10" y1="522.90" x2="382.70" y2="522.90" stroke="#555" stroke-width="0.8"/>
<text x="379.80" y="525.35" font-size="6.9" fill="#333" stroke="#333" stroke-width="0.07" text-anchor="end" textLength="8.80" lengthAdjust="spacingAndGlyphs">0.3</text>
<line x1="381.10" y1="533.10" x2="382.70" y2="533.10" stroke="#555" stroke-width="0.8"/>
<text x="379.80" y="535.55" font-size="6.9" fill="#333" stroke="#333" stroke-width="0.07" text-anchor="end" textLength="8.80" lengthAdjust="spacingAndGlyphs">0.2</text>
<line x1="381.10" y1="543.30" x2="382.70" y2="543.30" stroke="#555" stroke-width="0.8"/>
<text x="379.80" y="545.75" font-size="6.9" fill="#333" stroke="#333" stroke-width="0.07" text-anchor="end" textLength="8.80" lengthAdjust="spacingAndGlyphs">0.1</text>
<line x1="381.10" y1="553.50" x2="382.70" y2="553.50" stroke="#555" stroke-width="0.8"/>
<text x="379.80" y="555.95" font-size="6.9" fill="#333" stroke="#333" stroke-width="0.07" text-anchor="end" textLength="8.80" lengthAdjust="spacingAndGlyphs">0.0</text>
<line x1="381.10" y1="563.70" x2="382.70" y2="563.70" stroke="#555" stroke-width="0.8"/>
<text x="379.80" y="566.15" font-size="6.9" fill="#333" stroke="#333" stroke-width="0.07" text-anchor="end" textLength="12.60" lengthAdjust="spacingAndGlyphs">−0.1</text>
<path d="M382.70,553.50 L385.00,540.25 L386.50,533.77 L388.00,528.09 L389.50,524.11 L391.00,521.22 L393.00,518.23 L395.00,515.30 L396.67,514.59 L398.33,513.28 L400.00,511.91 L401.50,512.74 L403.00,511.96 L404.67,512.38 L406.33,512.21 L408.00,513.26 L409.40,514.28 L410.80,514.35 L412.20,514.85 L413.60,516.41 L415.00,516.62 L416.67,517.27 L418.33,517.27 L420.00,517.88 L421.43,518.68 L422.86,518.97 L424.29,519.05 L425.71,519.75 L427.14,521.00 L428.57,521.44 L430.00,521.13 L431.43,522.61 L432.86,524.49 L434.29,525.29 L435.71,526.03 L437.14,527.25 L438.57,527.67 L440.00,528.32 L441.43,529.79 L442.86,531.04 L444.29,532.18 L445.71,533.97 L447.14,534.26 L448.57,535.30 L450.00,536.39 L451.43,537.11 L452.86,539.33 L454.29,540.05 L455.71,540.54 L457.14,542.35 L458.57,544.23 L460.00,544.71 L461.60,546.42 L463.20,547.29 L464.80,548.69 L466.40,549.50 L468.00,550.55 L470.00,552.28 L472.00,553.35 L473.60,554.28 L475.20,554.83 L476.80,555.30 L478.40,555.85 L480.00,556.72 L481.60,557.38 L483.20,558.05 L484.80,558.84 L486.40,560.22 L488.00,561.18 L490.00,563.16 L491.67,562.14 L493.33,560.87 L495.00,558.39 L496.67,559.03 L498.33,558.83 L500.00,557.87 L502.30,554.00" stroke="#b8dc8c" stroke-width="2.0" fill="none" stroke-linejoin="round" opacity="0.5"/>
<path d="M382.70,553.50 L385.00,540.25 L386.50,533.77 L388.00,528.09 L389.50,524.11 L391.00,521.22 L393.00,518.23 L395.00,515.30 L396.67,514.59 L398.33,513.28 L400.00,511.91 L401.50,512.74 L403.00,511.96 L404.67,512.38 L406.33,512.21 L408.00,513.26 L409.40,514.28 L410.80,514.35 L412.20,514.85 L413.60,516.41 L415.00,516.62 L416.67,517.27 L418.33,517.27 L420.00,517.88 L421.43,518.68 L422.86,518.97 L424.29,519.05 L425.71,519.75 L427.14,521.00 L428.57,521.44 L430.00,521.13 L431.43,522.61 L432.86,524.49 L434.29,525.29 L435.71,526.03 L437.14,527.25 L438.57,527.67 L440.00,528.32 L441.43,529.79 L442.86,531.04 L444.29,532.18 L445.71,533.97 L447.14,534.26 L448.57,535.30 L450.00,536.39 L451.43,537.11 L452.86,539.33 L454.29,540.05 L455.71,540.54 L457.14,542.35 L458.57,544.23 L460.00,544.71 L461.60,546.42 L463.20,547.29 L464.80,548.69 L466.40,549.50 L468.00,550.55 L470.00,552.28 L472.00,553.35 L473.60,554.28 L475.20,554.83 L476.80,555.30 L478.40,555.85 L480.00,556.72 L481.60,557.38 L483.20,558.05 L484.80,558.84 L486.40,560.22 L488.00,561.18 L490.00,563.16 L491.67,562.14 L493.33,560.87 L495.00,558.39 L496.67,559.03 L498.33,558.83 L500.00,557.87 L502.30,554.00" stroke="#68aa3a" stroke-width="1.1" fill="none" stroke-linejoin="round"/>
<text x="473.10" y="517.60" font-size="6.2" fill="#222" textLength="27.2" lengthAdjust="spacingAndGlyphs"><tspan font-style="italic">P</tspan> = .0180</text>
<text x="473.10" y="524.10" font-size="6.2" fill="#222" stroke="#222" stroke-width="0.07" textLength="31.00" lengthAdjust="spacingAndGlyphs">q = 0.0012</text>
<g filter="url(#hb)">
<rect x="383.12" y="566.80" width="3.17" height="18.50" fill="#1e1e1e"/>
<rect x="386.25" y="566.80" width="1.55" height="18.50" fill="#3c3c3c"/>
<rect x="387.75" y="566.80" width="2.30" height="18.50" fill="#191919"/>
<rect x="390.00" y="566.80" width="1.93" height="18.50" fill="#2d2d2d"/>
<rect x="391.88" y="566.80" width="3.80" height="18.50" fill="#1e1e1e"/>
<rect x="395.62" y="566.80" width="5.67" height="18.50" fill="#787878"/>
<rect x="401.25" y="566.80" width="6.92" height="18.50" fill="#aaaaaa"/>
<rect x="408.12" y="566.80" width="1.93" height="18.50" fill="#5a5a5a"/>
<rect x="410.00" y="566.80" width="2.55" height="18.50" fill="#969696"/>
<rect x="412.50" y="566.80" width="2.55" height="18.50" fill="#464646"/>
<rect x="415.00" y="566.80" width="2.55" height="18.50" fill="#8c8c8c"/>
<rect x="417.50" y="566.80" width="6.30" height="18.50" fill="#969696"/>
<rect x="425.62" y="566.80" width="3.80" height="18.50" fill="#323232"/>
<rect x="429.38" y="566.80" width="3.17" height="18.50" fill="#8c8c8c"/>
<rect x="435.00" y="566.80" width="2.55" height="18.50" fill="#505050"/>
<rect x="440.00" y="566.80" width="2.55" height="18.50" fill="#8c8c8c"/>
<rect x="442.50" y="566.80" width="3.17" height="18.50" fill="#323232"/>
<rect x="445.62" y="566.80" width="3.17" height="18.50" fill="#3c3c3c"/>
<rect x="450.00" y="566.80" width="2.55" height="18.50" fill="#323232"/>
<rect x="455.62" y="566.80" width="2.55" height="18.50" fill="#8c8c8c"/>
<rect x="458.12" y="566.80" width="2.55" height="18.50" fill="#c8c8c8"/>
<rect x="460.62" y="566.80" width="3.17" height="18.50" fill="#8c8c8c"/>
<rect x="466.88" y="566.80" width="3.80" height="18.50" fill="#323232"/>
<rect x="470.62" y="566.80" width="3.17" height="18.50" fill="#8c8c8c"/>
<rect x="473.75" y="566.80" width="3.80" height="18.50" fill="#505050"/>
<rect x="477.50" y="566.80" width="2.55" height="18.50" fill="#8c8c8c"/>
<rect x="480.00" y="566.80" width="3.17" height="18.50" fill="#c8c8c8"/>
<rect x="483.12" y="566.80" width="3.17" height="18.50" fill="#8c8c8c"/>
<rect x="486.25" y="566.80" width="3.17" height="18.50" fill="#dcdcdc"/>
<rect x="489.38" y="566.80" width="3.17" height="18.50" fill="#505050"/>
<rect x="492.50" y="566.80" width="3.17" height="18.50" fill="#3c3c3c"/>
<rect x="495.62" y="566.80" width="1.93" height="18.50" fill="#8c8c8c"/>
<rect x="497.50" y="566.80" width="4.42" height="18.50" fill="#787878"/>
</g>
<defs><linearGradient id="gr140149629349632" x1="0" x2="1" y1="0" y2="0"><stop offset="0" stop-color="#d91e2b"/><stop offset="0.19" stop-color="#da2331"/><stop offset="0.21" stop-color="#df3a50"/><stop offset="0.395" stop-color="#e24862"/><stop offset="0.415" stop-color="#f0aac4"/><stop offset="0.53" stop-color="#f0c4dc"/><stop offset="0.55" stop-color="#dcd4ee"/><stop offset="0.73" stop-color="#d4cce8"/><stop offset="0.75" stop-color="#5446ac"/><stop offset="0.87" stop-color="#4a3ca6"/><stop offset="0.89" stop-color="#3a2c98"/><stop offset="1" stop-color="#352893"/></linearGradient></defs>
<rect x="382.70" y="585.30" width="119.60" height="4.80" fill="url(#gr140149629349632)"/>
<path d="M382.70,608.75 L382.70,597.83 L383.70,600.22 L384.69,601.27 L385.69,601.99 L386.69,602.56 L387.68,602.89 L388.68,603.23 L389.68,603.57 L390.67,603.90 L391.67,604.24 L392.67,604.51 L393.66,604.68 L394.66,604.85 L395.66,605.02 L396.65,605.19 L397.65,605.36 L398.65,605.53 L399.64,605.70 L400.64,605.88 L401.64,605.95 L402.63,606.03 L403.63,606.11 L404.63,606.19 L405.62,606.27 L406.62,606.35 L407.62,606.43 L408.61,606.51 L409.61,606.59 L410.61,606.67 L411.60,606.75 L412.60,606.83 L413.60,606.91 L414.59,606.99 L415.59,607.07 L416.59,607.15 L417.58,607.23 L418.58,607.31 L419.58,607.39 L420.57,607.46 L421.57,607.54 L422.57,607.61 L423.56,607.69 L424.56,607.76 L425.56,607.84 L426.55,607.91 L427.55,607.99 L428.55,608.06 L429.54,608.14 L430.54,608.21 L431.54,608.29 L432.53,608.36 L433.53,608.44 L434.53,608.51 L435.52,608.59 L436.52,608.66 L437.52,608.74 L438.51,608.86 L439.51,609.00 L440.51,609.13 L441.50,609.27 L442.50,609.41 L443.50,609.54 L444.49,609.68 L445.49,609.82 L446.49,609.95 L447.48,610.09 L448.48,610.23 L449.48,610.37 L450.47,610.50 L451.47,610.64 L452.47,610.78 L453.46,610.91 L454.46,611.05 L455.46,611.11 L456.45,611.17 L457.45,611.23 L458.45,611.29 L459.44,611.35 L460.44,611.41 L461.44,611.47 L462.43,611.53 L463.43,611.59 L464.43,611.65 L465.42,611.71 L466.42,611.77 L467.42,611.83 L468.41,611.89 L469.41,611.95 L470.41,612.00 L471.40,612.06 L472.40,612.11 L473.40,612.17 L474.39,612.22 L475.39,612.28 L476.39,612.33 L477.38,612.39 L478.38,612.44 L479.38,612.50 L480.37,612.55 L481.37,612.61 L482.37,612.66 L483.36,612.72 L484.36,612.77 L485.36,612.89 L486.35,613.01 L487.35,613.13 L488.35,613.25 L489.34,613.37 L490.34,613.49 L491.34,613.61 L492.33,613.73 L493.33,613.85 L494.33,614.14 L495.32,614.69 L496.32,615.24 L497.32,615.79 L498.31,616.56 L499.31,618.24 L500.31,619.91 L501.30,622.81 L502.30,626.00 L502.30,608.75 Z" fill="#c9c9c9" stroke="#bdbdbd" stroke-width="0.4"/>
<line x1="382.70" y1="608.75" x2="502.30" y2="608.75" stroke="#b0b0b0" stroke-width="0.5"/>
<text x="436.52" y="609.55" font-size="2.2" fill="#777" stroke="#777" stroke-width="0.07">Zero cross at 7351</text>
<text x="378.70" y="593.50" font-size="6.5" fill="#333" stroke="#333" stroke-width="0.07" text-anchor="end" textLength="3.10" lengthAdjust="spacingAndGlyphs">6</text>
<line x1="381.10" y1="591.20" x2="382.70" y2="591.20" stroke="#555" stroke-width="0.8"/>
<text x="378.70" y="605.00" font-size="6.5" fill="#333" stroke="#333" stroke-width="0.07" text-anchor="end" textLength="3.10" lengthAdjust="spacingAndGlyphs">2</text>
<line x1="381.10" y1="602.70" x2="382.70" y2="602.70" stroke="#555" stroke-width="0.8"/>
<text x="378.70" y="617.10" font-size="6.5" fill="#333" stroke="#333" stroke-width="0.07" text-anchor="end" textLength="6.60" lengthAdjust="spacingAndGlyphs">−2</text>
<line x1="381.10" y1="614.80" x2="382.70" y2="614.80" stroke="#555" stroke-width="0.8"/>
<text x="378.70" y="627.50" font-size="6.5" fill="#333" stroke="#333" stroke-width="0.07" text-anchor="end" textLength="6.60" lengthAdjust="spacingAndGlyphs">−6</text>
<line x1="381.10" y1="625.20" x2="382.70" y2="625.20" stroke="#555" stroke-width="0.8"/>
<line x1="382.70" y1="630.00" x2="507.40" y2="630.00" stroke="#dcdcdc" stroke-width="0.7"/>
<text x="391.90" y="595.50" font-size="6.6" fill="#e23a48" stroke="#e23a48" stroke-width="0.07" textLength="20.00" lengthAdjust="spacingAndGlyphs">'na_pos'</text>
<text x="391.90" y="602.30" font-size="6.6" fill="#e23a48" stroke="#e23a48" stroke-width="0.07" textLength="55.00" lengthAdjust="spacingAndGlyphs">(positively correlated)</text>
<text x="441.80" y="620.00" font-size="6.6" fill="#4a3fa8" stroke="#4a3fa8" stroke-width="0.07" textLength="19.00" lengthAdjust="spacingAndGlyphs">'na_neg'</text>
<text x="441.80" y="627.00" font-size="6.6" fill="#4a3fa8" stroke="#4a3fa8" stroke-width="0.07" textLength="60.50" lengthAdjust="spacingAndGlyphs">(negatively correlated)</text>
<line x1="382.70" y1="628.80" x2="382.70" y2="630.00" stroke="#666" stroke-width="0.7"/>
<text x="382.70" y="638.00" font-size="6.6" fill="#333" stroke="#333" stroke-width="0.07" text-anchor="middle">0</text>
<line x1="418.67" y1="628.80" x2="418.67" y2="630.00" stroke="#666" stroke-width="0.7"/>
<text x="418.67" y="638.00" font-size="6.6" fill="#333" stroke="#333" stroke-width="0.07" text-anchor="middle">4,000</text>
<line x1="454.64" y1="628.80" x2="454.64" y2="630.00" stroke="#666" stroke-width="0.7"/>
<text x="454.64" y="638.00" font-size="6.6" fill="#333" stroke="#333" stroke-width="0.07" text-anchor="middle">8,000</text>
<line x1="490.61" y1="628.80" x2="490.61" y2="630.00" stroke="#666" stroke-width="0.7"/>
<text x="490.61" y="638.00" font-size="6.6" fill="#333" stroke="#333" stroke-width="0.07" text-anchor="middle">12,000</text>
<text x="410.40" y="649.50" font-size="8.6" fill="#222" stroke="#222" stroke-width="0.07" textLength="71.00" lengthAdjust="spacingAndGlyphs">Rank in ordered dataset</text>
<line x1="364.20" y1="657.10" x2="369.20" y2="657.10" stroke="#68aa3a" stroke-width="1.0"/>
<text x="371.20" y="659.00" font-size="6.6" fill="#333" stroke="#333" stroke-width="0.07" textLength="47.50" lengthAdjust="spacingAndGlyphs">Enrichment profile</text>
<line x1="423.70" y1="657.10" x2="428.70" y2="657.10" stroke="#111" stroke-width="1.3"/>
<text x="431.60" y="659.00" font-size="6.6" fill="#333" stroke="#333" stroke-width="0.07" textLength="8.90" lengthAdjust="spacingAndGlyphs">Hits</text>
<line x1="447.20" y1="657.10" x2="451.70" y2="657.10" stroke="#cccccc" stroke-width="1.1"/>
<text x="454.20" y="659.00" font-size="6.6" fill="#333" stroke="#333" stroke-width="0.07" textLength="57.50" lengthAdjust="spacingAndGlyphs">Ranking metric scores</text>
<text x="397.50" y="668.70" font-size="7.1" fill="#222" stroke="#222" stroke-width="0.07" textLength="90.00" lengthAdjust="spacingAndGlyphs">core enriched genes: PTK2B, BLK,</text>
<text x="398.00" y="676.10" font-size="7.1" fill="#222" stroke="#222" stroke-width="0.07" textLength="94.00" lengthAdjust="spacingAndGlyphs">ADAM19, IL7, NOTCH1, NFKBIA</text>
<text x="361.50" y="538.80" font-size="7.6" fill="#222" stroke="#222" stroke-width="0.07" text-anchor="middle" textLength="64.00" lengthAdjust="spacingAndGlyphs" transform="rotate(-90 361.50 538.80)">Enrichment score (ES)</text>
<text x="358.40" y="607.60" font-size="7.6" fill="#222" stroke="#222" stroke-width="0.07" text-anchor="middle" textLength="54.00" lengthAdjust="spacingAndGlyphs" transform="rotate(-90 358.40 607.60)">Ranked list metric</text>
<text x="368.50" y="607.60" font-size="7.6" fill="#222" stroke="#222" stroke-width="0.07" text-anchor="middle" textLength="39.00" lengthAdjust="spacingAndGlyphs" transform="rotate(-90 368.50 607.60)">(PreRanked)</text>
<rect x="0.5" y="0.5" width="519" height="690" fill="none" stroke="#4a4a4a" stroke-width="1.2"/>
</svg>
</body></html>
